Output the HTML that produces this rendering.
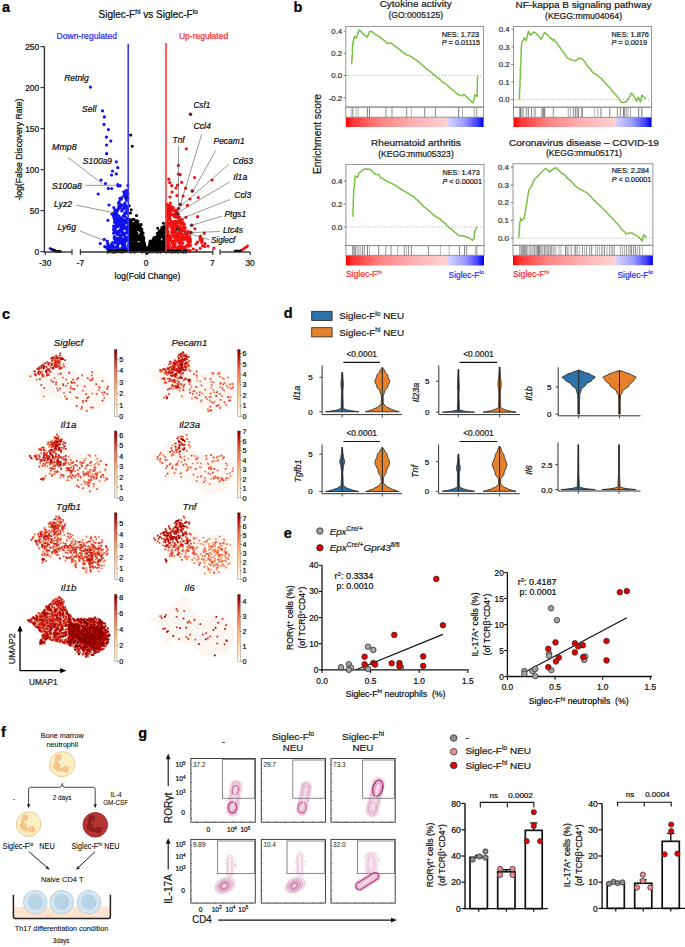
<!DOCTYPE html>
<html><head><meta charset="utf-8"><style>
html,body{margin:0;padding:0;background:#fff;}
svg{display:block;font-family:"Liberation Sans", sans-serif;}
</style></head><body>
<svg width="685" height="947" viewBox="0 0 685 947">
<rect width="685" height="947" fill="#fff"/>
<text x="2.00" y="11.80" font-size="14.5" fill="#000" stroke="#000" stroke-width="0.22" font-weight="bold" >a</text>
<text x="98.50" y="17.50" font-size="10.4" textLength="99.50" lengthAdjust="spacingAndGlyphs" stroke="#222" stroke-width="0.22" >Siglec-F<tspan dy="-3.60" font-size="7.07">hi</tspan><tspan dy="3.6"> vs Siglec-F</tspan><tspan dy="-3.60" font-size="7.07">lo</tspan></text>
<text x="56.50" y="39.00" font-size="8.6" textLength="60.50" lengthAdjust="spacingAndGlyphs" fill="#2a2af5" stroke="#2a2af5" stroke-width="0.22" >Down-regulated</text>
<text x="178.90" y="39.20" font-size="8.6" textLength="49.30" lengthAdjust="spacingAndGlyphs" fill="#f53030" stroke="#f53030" stroke-width="0.22" >Up-regulated</text>
<path d="M115.4 238.1h0M116.1 239.4h0M123.7 250.5h0M121.4 218.5h0M126.9 200.5h0M115.5 215.2h0M123.5 244.9h0M115.3 228.5h0M121.5 218.0h0M127.9 232.7h0M126.2 228.3h0M116.3 242.6h0M118.4 248.9h0M120.1 220.3h0M118.4 203.1h0M118.1 240.3h0M121.8 230.7h0M126.9 237.3h0M120.2 240.2h0M120.5 238.8h0M116.2 231.5h0M122.9 219.5h0M123.3 209.2h0M124.1 224.7h0M122.7 209.2h0M114.6 216.5h0M127.6 190.8h0M114.2 227.5h0M119.5 218.9h0M127.5 213.5h0M127.9 185.4h0M117.1 221.8h0M116.5 213.5h0M127.8 228.7h0M118.8 218.4h0M114.4 236.7h0M121.4 199.2h0M124.8 207.4h0M126.9 192.7h0M121.5 219.6h0M121.2 239.5h0M126.8 218.8h0M124.8 241.5h0M121.0 217.8h0M120.6 236.3h0M118.2 220.1h0M119.9 230.0h0M125.5 213.3h0M123.5 249.5h0M123.9 233.4h0M120.8 230.9h0M113.2 215.4h0M126.5 191.6h0M122.6 221.7h0M122.6 241.5h0M125.7 208.1h0M126.5 222.6h0M118.8 208.7h0M116.3 215.1h0M117.6 225.8h0M116.9 210.0h0M126.9 250.5h0M117.3 224.0h0M113.7 230.1h0M116.9 222.3h0M123.5 219.6h0M118.0 226.3h0M120.8 228.4h0M116.9 226.2h0M122.6 227.3h0M126.7 211.2h0M127.3 226.9h0M115.9 211.5h0M125.9 194.4h0M127.9 206.6h0M121.7 211.0h0M121.1 222.7h0M121.4 226.2h0M123.9 225.9h0M114.0 226.6h0M127.2 219.4h0M120.7 204.6h0M113.7 228.7h0M119.7 231.3h0M121.2 238.3h0M124.4 206.1h0M121.5 197.8h0M118.6 206.3h0M115.1 240.3h0M124.8 216.4h0M126.1 205.9h0M120.0 198.4h0M119.5 222.6h0M116.9 214.3h0M128.0 193.6h0M120.3 236.8h0M121.7 231.7h0M119.3 201.5h0M120.5 240.5h0M126.5 240.6h0M127.2 210.8h0M116.2 213.6h0M127.5 195.0h0M124.3 226.1h0M126.4 240.2h0M114.8 232.1h0M122.5 245.1h0M115.0 209.8h0M122.6 232.4h0M127.7 200.1h0M124.5 205.7h0M124.6 196.0h0M121.8 234.6h0M123.4 234.1h0M124.5 220.3h0M116.8 238.1h0M123.8 191.8h0M124.8 240.1h0M121.2 223.9h0M127.5 193.2h0M123.9 234.0h0M124.9 246.5h0M119.0 238.6h0M118.3 231.4h0M116.0 224.3h0M116.0 241.0h0M123.9 225.2h0M113.8 207.5h0M121.6 219.9h0M126.8 229.9h0M114.9 231.3h0M125.4 233.3h0M115.4 221.8h0M121.0 205.6h0M123.5 215.7h0M124.5 242.0h0M126.3 227.3h0M119.0 216.0h0M123.8 228.5h0M127.5 230.2h0M126.9 228.6h0M123.2 209.1h0M115.2 242.8h0M125.0 203.1h0M119.0 224.8h0M119.1 234.7h0M115.8 218.3h0M126.2 190.4h0M117.8 247.4h0M127.7 231.6h0M124.6 246.2h0M124.5 235.9h0M115.9 216.8h0M125.3 206.2h0M124.0 196.1h0M117.1 246.8h0M115.7 247.1h0M125.4 197.5h0M125.9 206.9h0M127.3 221.6h0M117.6 234.5h0M127.3 221.5h0M114.3 219.1h0M116.1 227.1h0M127.6 219.4h0M121.5 241.1h0M117.3 210.9h0M116.5 220.2h0M113.6 226.0h0M125.4 221.5h0M123.1 226.7h0M126.8 207.7h0M125.5 213.3h0M122.5 228.6h0M124.7 239.0h0M120.7 204.7h0M120.9 238.4h0M119.0 224.2h0M117.2 243.0h0M124.8 233.0h0M127.6 232.1h0M118.4 241.8h0M124.3 224.2h0M126.4 249.3h0M113.1 245.5h0M118.1 223.6h0M127.1 218.2h0M126.1 249.8h0M114.5 222.2h0M114.2 237.0h0M125.4 247.2h0M117.1 234.2h0M126.2 199.4h0M114.4 212.3h0M116.1 233.0h0M126.2 227.3h0M123.7 224.8h0M116.1 247.0h0M120.6 207.7h0M118.3 209.2h0M121.8 238.0h0M124.7 242.8h0M118.6 222.5h0M113.6 247.3h0M122.6 205.1h0M128.0 198.7h0M116.9 233.0h0M119.0 225.4h0M124.1 208.4h0M116.2 240.9h0M124.7 213.0h0M124.0 241.9h0M124.3 194.3h0M114.7 213.1h0M113.7 216.8h0M107.3 247.1h0M119.4 242.0h0M118.6 250.9h0M116.6 246.7h0M112.6 242.6h0M125.5 238.4h0M110.2 247.2h0M115.8 239.2h0M120.5 243.0h0M118.8 243.6h0M117.7 245.6h0M114.7 239.5h0M110.0 250.0h0M118.1 239.5h0M125.0 241.4h0M108.1 245.2h0M111.5 244.6h0M118.2 241.1h0M118.6 239.5h0M117.3 245.9h0M107.8 243.5h0M107.6 243.9h0M125.0 245.4h0M121.7 248.2h0M108.5 251.4h0M121.9 239.4h0M124.3 243.3h0M109.8 251.0h0M118.4 248.5h0M109.0 248.5h0M107.3 241.2h0M114.2 238.2h0M119.1 240.9h0M112.6 247.6h0M115.4 250.0h0M119.7 249.8h0M118.4 250.4h0M125.2 240.3h0M122.4 242.6h0M122.8 247.2h0M90.4 87.1h0M102.5 110.8h0M104.4 116.9h0M104.0 124.4h0M108.4 129.6h0M106.4 137.1h0M110.8 141.0h0M106.6 145.0h0M106.6 153.7h0M116.3 161.8h0M117.8 167.7h0M112.5 171.0h0M111.5 175.0h0M116.3 173.9h0M105.5 183.5h0M117.8 184.6h0M120.2 185.7h0M111.7 188.5h0M98.2 194.0h0M108.3 188.4h0M118.0 186.0h0M107.9 220.3h0M113.6 233.2h0M104.2 239.4h0M100.2 243.5h0M104.8 246.7h0M107.1 248.6h0M110.5 245.6h0M101.0 180.0h0M109.0 205.0h0M112.0 214.0h0" stroke="#1010f0" stroke-width="3.2" stroke-linecap="round" fill="none" />
<path d="M183.8 237.9h0M180.8 228.7h0M166.6 244.1h0M175.2 244.0h0M187.5 245.6h0M168.0 209.9h0M176.0 249.4h0M167.1 239.8h0M175.3 217.1h0M171.1 206.2h0M174.9 214.3h0M188.4 242.6h0M167.5 208.9h0M182.9 243.2h0M183.6 239.2h0M173.3 207.6h0M171.4 221.5h0M166.8 237.1h0M186.3 249.8h0M167.7 225.0h0M175.9 232.2h0M166.5 232.0h0M166.5 204.2h0M166.6 214.9h0M169.1 223.2h0M169.0 223.3h0M188.8 250.7h0M175.5 213.6h0M182.0 231.0h0M170.8 210.5h0M185.5 237.0h0M169.7 215.8h0M174.1 231.5h0M175.2 246.7h0M170.3 203.0h0M173.4 235.8h0M168.5 241.6h0M166.5 227.9h0M172.6 233.5h0M167.7 232.0h0M169.8 223.1h0M188.0 233.4h0M176.1 239.8h0M176.0 234.2h0M182.0 223.6h0M166.7 207.8h0M169.2 249.1h0M167.6 214.2h0M168.3 238.2h0M176.7 223.9h0M168.0 207.2h0M176.6 213.2h0M185.6 246.6h0M167.9 209.1h0M177.7 241.0h0M170.1 219.3h0M171.7 232.2h0M166.7 247.4h0M177.3 227.7h0M176.5 227.6h0M166.5 223.6h0M190.0 239.7h0M180.4 246.2h0M167.5 210.8h0M166.9 228.9h0M174.9 223.4h0M178.3 235.9h0M180.9 224.9h0M181.7 240.1h0M182.0 237.2h0M169.2 206.4h0M167.3 223.1h0M178.2 235.3h0M190.1 238.8h0M166.9 241.2h0M166.7 221.8h0M167.8 231.8h0M167.4 212.2h0M187.4 250.2h0M182.2 219.5h0M173.9 231.7h0M182.9 239.7h0M186.7 232.8h0M166.7 229.2h0M185.2 234.1h0M171.8 209.3h0M177.4 237.3h0M169.0 236.6h0M168.1 219.6h0M169.6 238.7h0M175.7 210.0h0M185.4 231.3h0M183.7 239.6h0M173.5 241.2h0M179.0 232.3h0M176.0 240.0h0M185.9 232.2h0M185.2 227.9h0M190.3 250.7h0M167.1 250.5h0M187.0 233.5h0M167.0 214.5h0M166.9 205.9h0M180.1 220.4h0M166.6 210.3h0M179.3 228.3h0M168.5 243.6h0M166.5 234.1h0M185.8 237.0h0M167.3 239.4h0M179.1 220.5h0M173.9 229.5h0M173.8 232.5h0M168.3 211.9h0M180.6 242.6h0M169.0 247.4h0M174.1 221.5h0M170.8 213.4h0M178.1 227.7h0M179.3 222.3h0M180.2 237.3h0M172.0 231.0h0M171.2 241.3h0M190.4 240.1h0M187.6 237.4h0M171.1 237.9h0M167.1 214.7h0M186.9 233.5h0M170.0 222.8h0M169.9 251.3h0M181.1 234.1h0M176.4 239.4h0M177.4 233.9h0M180.0 230.1h0M176.9 235.4h0M177.4 239.4h0M176.9 211.5h0M173.2 224.3h0M173.3 241.1h0M187.6 240.4h0M174.6 237.6h0M167.7 227.3h0M177.8 217.7h0M185.4 238.9h0M184.1 247.0h0M167.5 243.5h0M170.7 224.7h0M172.7 227.3h0M190.4 245.4h0M173.4 215.3h0M167.5 230.8h0M174.4 229.5h0M170.3 249.6h0M168.1 246.7h0M167.8 235.2h0M170.0 208.6h0M166.9 210.4h0M168.1 211.6h0M177.1 248.1h0M172.5 214.5h0M169.5 217.4h0M183.3 237.9h0M176.0 240.8h0M189.3 245.3h0M178.5 246.8h0M181.4 231.8h0M173.8 216.1h0M166.5 226.3h0M173.0 229.3h0M173.2 228.5h0M173.7 210.9h0M178.7 234.2h0M166.6 222.8h0M181.9 246.3h0M168.3 208.2h0M167.0 211.0h0M175.6 216.4h0M179.9 248.1h0M179.3 227.4h0M190.4 242.1h0M167.4 222.6h0M166.5 236.0h0M169.0 235.1h0M185.0 237.5h0M172.0 231.8h0M185.3 232.7h0M168.9 246.8h0M174.8 226.2h0M173.6 230.6h0M183.0 222.5h0M175.4 232.4h0M174.7 221.9h0M170.0 210.4h0M169.5 213.1h0M176.3 210.8h0M172.6 247.0h0M172.3 247.3h0M185.2 233.3h0M167.8 223.7h0M182.9 230.6h0M178.8 240.2h0M184.3 224.7h0M168.1 243.8h0M182.4 238.5h0M178.3 214.2h0M179.1 247.5h0M179.5 217.1h0M169.5 219.3h0M169.9 241.0h0M187.0 232.7h0M167.5 207.1h0M171.4 227.9h0M177.8 225.7h0M166.9 214.4h0M172.2 243.4h0M183.9 223.7h0M190.3 245.7h0M169.4 212.8h0M173.8 244.9h0M173.5 222.0h0M174.9 241.4h0M169.1 212.7h0M168.4 248.7h0M176.5 235.1h0M188.3 250.0h0M170.2 235.8h0M181.0 222.2h0M169.6 219.5h0M166.9 212.6h0M176.4 248.7h0M174.2 216.0h0M167.3 231.1h0M171.0 240.6h0M167.7 233.3h0M184.4 238.9h0M167.4 205.7h0M167.1 222.6h0M167.1 240.3h0M174.8 231.0h0M168.0 238.0h0M167.2 207.1h0M173.9 249.9h0M188.2 236.8h0M175.7 238.5h0M181.2 239.4h0M166.6 222.9h0M169.5 245.4h0M176.0 221.5h0M182.4 248.4h0M168.7 205.4h0M166.6 216.8h0M183.4 227.0h0M173.0 250.3h0M188.1 242.5h0M166.9 212.8h0M178.9 234.5h0M167.4 236.7h0M170.2 207.9h0M182.6 234.6h0M182.2 230.0h0M177.6 222.5h0M184.6 248.1h0M180.1 243.1h0M189.1 240.1h0M167.3 208.9h0M186.7 235.3h0M183.0 237.2h0M183.8 229.5h0M169.6 225.1h0M188.3 231.6h0M200.3 239.9h0M202.2 239.6h0M179.1 243.1h0M180.5 243.6h0M204.7 246.6h0M197.6 242.1h0M200.2 248.3h0M196.6 250.6h0M201.7 242.3h0M175.1 246.1h0M202.1 241.3h0M193.4 249.0h0M200.5 236.1h0M189.6 236.3h0M176.0 248.6h0M187.1 245.4h0M188.5 241.2h0M179.7 241.5h0M202.4 245.6h0M182.5 237.4h0M181.8 246.9h0M187.9 246.2h0M186.3 148.8h0M178.3 165.4h0M178.3 174.1h0M180.2 174.7h0M168.9 179.2h0M171.7 185.7h0M176.0 188.0h0M185.6 188.2h0M194.6 177.5h0M212.1 180.0h0M176.9 195.5h0M198.3 197.5h0M187.4 205.4h0M197.5 216.7h0M185.9 217.3h0M194.9 228.8h0M204.2 233.2h0M205.0 243.5h0M169.8 182.7h0M181.7 182.3h0M177.5 185.2h0M190.0 199.0h0M172.0 192.0h0M183.0 196.0h0M170.0 197.0h0M200.0 238.0h0M208.0 246.0h0M196.0 244.0h0M214.0 248.0h0" stroke="#f01010" stroke-width="3.2" stroke-linecap="round" fill="none" />
<path d="M140.6 227.9h0M148.6 248.6h0M130.7 232.7h0M131.1 221.1h0M144.4 243.4h0M152.0 250.9h0M150.1 244.1h0M160.7 236.0h0M133.9 245.5h0M135.3 238.0h0M152.5 240.8h0M130.7 225.9h0M154.0 245.9h0M145.5 248.0h0M158.3 242.6h0M148.2 251.0h0M155.9 237.6h0M144.2 249.6h0M134.2 240.5h0M157.2 243.3h0M161.3 241.7h0M150.2 246.6h0M160.0 244.2h0M130.8 241.7h0M152.8 244.1h0M143.0 244.9h0M129.3 222.2h0M130.7 243.8h0M133.4 247.2h0M131.5 233.9h0M149.1 250.6h0M138.9 235.8h0M142.0 233.8h0M135.1 227.9h0M137.3 228.9h0M128.7 231.7h0M142.3 245.7h0M147.8 250.8h0M153.9 249.0h0M161.3 246.6h0M143.2 244.8h0M130.8 220.6h0M136.3 221.0h0M128.5 223.4h0M132.3 247.3h0M151.5 241.6h0M138.0 224.4h0M160.3 251.3h0M146.0 249.1h0M141.3 232.6h0M159.6 250.4h0M148.3 247.3h0M148.9 251.4h0M160.9 244.1h0M138.3 244.6h0M148.5 250.4h0M140.9 251.1h0M160.5 247.4h0M159.2 240.7h0M141.8 229.2h0M129.5 241.1h0M164.4 236.8h0M163.6 236.5h0M136.8 226.4h0M135.9 248.3h0M160.0 240.3h0M153.0 247.0h0M162.6 245.8h0M156.6 247.9h0M141.0 246.3h0M164.9 250.1h0M155.7 238.5h0M133.3 245.4h0M134.0 246.1h0M165.3 239.1h0M133.4 219.6h0M164.9 249.7h0M144.8 250.5h0M159.5 235.6h0M137.5 238.5h0M138.2 248.8h0M141.8 238.5h0M150.4 250.7h0M147.3 251.4h0M148.1 249.2h0M128.6 244.7h0M135.0 237.8h0M140.7 238.9h0M149.3 247.5h0M137.8 228.8h0M157.5 247.2h0M162.7 236.6h0M151.5 248.4h0M145.5 248.9h0M146.4 251.6h0M163.8 231.8h0M149.5 245.3h0M133.1 233.4h0M131.2 240.4h0M157.9 249.4h0M134.3 223.3h0M161.6 250.7h0M136.7 235.4h0M165.6 246.8h0M134.6 230.5h0M135.8 229.5h0M155.6 243.3h0M129.2 228.9h0M151.9 251.3h0M158.1 250.9h0M132.4 244.1h0M138.6 226.1h0M144.3 245.0h0M134.1 248.9h0M149.9 241.5h0M154.3 243.3h0M131.2 245.2h0M131.6 246.8h0M131.0 230.1h0M149.2 250.9h0M138.5 229.7h0M132.6 224.5h0M130.4 228.3h0M157.0 239.0h0M147.3 251.0h0M137.9 221.3h0M156.0 243.1h0M163.5 227.4h0M159.2 248.1h0M143.2 242.5h0M154.3 249.2h0M155.0 245.8h0M143.7 238.1h0M131.2 242.9h0M138.1 246.6h0M161.1 243.5h0M139.1 236.2h0M134.4 233.7h0M138.4 239.5h0M137.7 250.4h0M140.1 234.6h0M146.3 250.6h0M136.0 227.4h0M131.9 231.4h0M130.1 226.5h0M150.5 246.3h0M156.6 249.5h0M143.1 239.8h0M165.4 241.9h0M130.1 246.3h0M161.9 246.9h0M133.7 236.4h0M147.4 251.5h0M150.4 250.6h0M154.1 237.6h0M133.5 230.7h0M132.4 239.4h0M152.0 248.1h0M146.8 251.9h0M147.4 250.9h0M153.2 243.0h0M131.3 227.6h0M155.9 251.1h0M147.0 252.3h0M146.5 251.5h0M152.6 241.8h0M134.0 228.2h0M149.8 243.3h0M130.8 241.2h0M153.8 242.9h0M147.9 250.0h0M162.0 230.9h0M165.2 236.4h0M159.2 250.8h0M145.4 251.2h0M136.4 238.2h0M133.8 225.6h0M159.3 240.7h0M161.8 248.9h0M146.7 251.5h0M128.6 228.7h0M133.8 229.6h0M140.4 244.8h0M160.0 231.0h0M163.2 232.8h0M142.5 240.2h0M166.0 235.9h0M138.8 224.6h0M132.3 249.4h0M137.8 228.8h0M147.7 251.4h0M161.7 246.9h0M152.2 247.3h0M155.5 237.7h0M156.0 246.3h0M139.2 225.4h0M163.3 234.5h0M139.7 244.6h0M165.1 232.0h0M149.4 247.1h0M134.8 248.4h0M147.1 251.3h0M162.5 230.0h0M135.7 221.5h0M141.3 233.0h0M149.9 250.3h0M156.6 243.5h0M142.6 238.0h0M130.8 222.8h0M147.4 252.4h0M160.9 233.2h0M143.5 242.6h0M164.3 226.2h0M129.7 242.4h0M162.1 227.3h0M143.2 250.1h0M159.5 236.3h0M132.6 225.8h0M148.1 250.7h0M152.8 249.2h0M145.6 250.6h0M137.2 248.9h0M152.7 241.9h0M152.4 247.9h0M132.7 238.2h0M143.1 236.9h0M151.0 245.9h0M164.5 241.7h0M161.6 233.1h0M164.5 243.4h0M140.0 243.2h0M144.3 243.1h0M153.5 238.9h0M141.2 236.6h0M154.1 247.9h0M147.4 252.2h0M164.9 230.8h0M136.8 244.3h0M139.6 230.2h0M136.9 232.7h0M153.4 243.5h0M136.5 250.7h0M133.8 231.5h0M162.2 248.5h0M156.0 242.5h0M135.5 249.4h0M156.5 241.8h0M142.5 237.4h0M134.8 230.7h0M164.3 227.3h0M164.7 246.6h0M159.3 239.5h0M130.3 248.9h0M135.7 230.7h0M162.1 246.9h0M157.3 233.3h0M129.8 228.6h0M156.5 249.8h0M141.2 241.7h0M138.3 243.9h0M140.4 244.9h0M162.9 241.7h0M163.9 237.7h0M164.4 250.2h0M143.0 241.5h0M163.3 230.6h0M158.6 246.6h0M151.3 245.5h0M140.5 228.3h0M135.9 243.8h0M137.8 237.2h0M140.7 251.0h0M161.6 229.2h0M132.1 234.7h0M155.1 242.8h0M151.8 247.7h0M156.5 236.8h0M160.0 236.2h0M149.8 244.3h0M137.8 228.5h0M134.2 230.0h0M143.4 251.4h0M147.5 250.9h0M165.7 228.5h0M146.3 251.4h0M130.0 229.4h0M133.0 238.2h0M163.4 236.8h0M161.0 246.3h0M164.0 227.3h0M150.9 244.7h0M133.8 225.4h0M138.1 227.9h0M128.9 229.4h0M153.9 240.4h0M158.3 242.4h0M130.9 237.0h0M152.5 240.7h0M134.6 228.0h0M140.0 250.3h0M140.2 236.4h0M160.9 251.4h0M142.1 233.9h0M128.7 248.4h0M144.4 250.3h0M145.8 249.2h0M129.1 248.6h0M131.8 239.1h0M142.4 236.4h0M148.0 251.2h0M132.6 250.5h0M135.9 222.8h0M163.9 227.1h0M163.2 235.1h0M162.4 230.9h0M158.0 236.9h0M143.7 239.9h0M136.7 233.2h0M147.9 249.2h0M155.7 249.8h0M130.0 221.2h0M159.9 231.8h0M151.0 244.9h0M144.3 246.9h0M144.5 246.1h0M129.4 239.0h0M146.9 251.3h0M145.7 249.8h0M146.2 250.6h0M131.9 233.1h0M147.6 251.2h0M156.0 247.8h0M147.7 250.9h0M164.2 228.2h0M160.6 247.5h0M135.8 250.9h0M146.9 253.3h0M158.1 250.1h0M131.0 224.6h0M162.1 234.0h0M159.1 249.8h0M136.3 228.3h0M147.5 250.2h0M134.5 249.4h0M154.0 248.5h0M132.8 236.0h0M152.4 246.8h0M150.3 250.5h0M132.4 232.5h0M158.4 235.9h0M165.6 245.1h0M145.1 245.9h0M156.4 240.3h0M152.5 251.3h0M150.5 241.0h0M129.8 223.6h0M151.6 250.4h0M133.5 226.2h0M153.0 242.9h0M132.5 230.0h0M136.9 226.8h0M151.9 245.6h0M133.6 223.9h0M132.1 239.5h0M161.2 233.4h0M128.9 239.9h0M149.6 246.5h0M163.6 244.7h0M137.8 236.6h0M143.7 240.0h0M130.7 236.4h0M163.8 228.2h0M136.0 240.2h0M159.0 234.2h0M140.1 248.5h0M157.9 245.8h0M128.7 233.9h0M156.3 243.0h0M137.0 220.9h0M141.1 245.1h0M154.6 241.3h0M149.3 247.5h0M158.1 244.5h0M164.7 229.8h0M161.5 233.0h0M156.4 250.5h0M156.5 240.5h0M137.5 248.7h0M152.2 251.3h0M146.1 251.4h0M154.7 247.5h0M149.9 244.9h0M136.4 248.6h0M133.9 219.3h0M132.5 223.8h0M129.6 219.5h0M154.5 247.9h0M131.0 238.5h0M142.1 249.1h0M131.0 247.4h0M162.8 230.7h0M132.7 219.4h0M160.3 247.5h0M152.2 244.1h0M132.2 226.5h0M140.5 236.8h0M129.3 241.8h0M142.3 237.2h0M164.6 242.0h0M129.7 231.6h0M144.9 249.0h0M148.7 247.4h0M160.8 233.1h0M128.5 225.3h0M157.1 241.9h0M146.9 251.3h0M135.4 246.2h0M138.3 249.8h0M139.1 237.5h0M132.6 240.1h0M131.5 244.5h0M152.0 245.0h0M143.5 238.5h0M161.8 228.3h0M136.2 235.2h0M142.7 249.5h0M137.3 243.9h0M156.7 245.2h0M141.6 247.6h0M153.3 248.1h0M134.9 238.5h0M133.2 234.0h0M161.7 233.7h0M154.9 249.2h0M134.3 229.4h0M148.1 248.7h0M140.8 244.7h0M132.3 250.4h0M132.3 245.3h0M156.0 243.5h0M135.9 225.7h0M143.1 233.1h0M143.5 243.1h0M152.2 246.0h0M133.8 243.1h0M162.6 236.8h0M150.0 243.1h0M155.6 249.7h0M157.5 245.4h0M152.6 246.0h0M140.2 236.0h0M157.8 245.8h0M152.1 244.8h0M151.8 245.3h0M153.8 246.8h0M157.7 239.5h0M146.9 251.2h0M134.5 244.2h0M163.8 240.1h0M148.8 249.5h0M147.7 251.1h0M143.9 250.9h0M136.4 243.8h0M133.1 251.0h0M141.8 237.7h0M129.0 231.9h0M144.3 243.4h0M136.9 243.4h0M163.7 246.3h0M143.2 236.6h0M133.3 239.4h0M146.1 251.5h0M137.0 240.2h0M159.2 247.4h0M146.1 249.4h0M159.8 237.7h0M160.4 233.7h0M144.5 244.2h0M128.6 225.8h0M139.8 237.8h0M144.6 246.0h0M163.3 247.8h0M130.6 244.6h0M133.8 246.3h0M152.2 250.9h0M153.1 241.4h0M132.3 244.2h0M141.5 230.8h0M162.4 248.6h0M151.3 249.1h0M153.6 249.6h0M135.9 241.9h0M148.4 250.9h0M149.3 245.9h0M137.3 221.8h0M146.0 250.0h0M146.9 251.6h0M128.7 246.0h0M146.0 251.4h0M142.6 239.6h0M164.5 242.1h0M129.6 238.6h0M154.1 251.3h0M147.6 250.5h0M162.2 242.5h0M141.2 248.0h0M142.2 246.7h0M136.4 233.1h0M144.3 245.5h0M159.5 238.4h0M147.4 251.5h0M153.0 249.1h0M140.9 240.8h0M152.3 249.0h0M130.0 236.4h0M130.4 230.1h0M128.7 238.6h0M153.2 249.3h0M162.6 242.1h0M154.6 245.9h0M154.0 243.9h0M157.1 236.4h0M135.3 248.9h0M153.1 243.4h0M159.3 235.1h0M139.8 236.6h0M140.4 249.8h0M130.5 237.3h0M130.0 238.0h0M162.9 237.6h0M129.0 249.5h0M165.3 237.4h0M144.0 242.3h0M134.2 219.8h0M128.7 250.4h0M131.8 247.2h0M133.3 227.9h0M156.0 237.9h0M130.4 246.7h0M155.9 238.2h0M152.1 250.7h0M138.0 250.4h0M155.4 245.9h0M159.2 231.0h0M140.2 247.7h0M146.7 251.4h0M142.3 244.7h0M133.9 244.9h0M142.1 238.9h0M143.0 247.6h0M163.9 232.4h0M130.8 250.7h0M154.9 245.6h0M165.2 247.0h0M151.0 250.3h0M142.6 245.3h0M151.1 244.7h0M128.6 227.4h0M144.3 250.5h0M130.1 246.1h0M170.8 251.8h0M151.3 250.9h0M173.9 251.7h0M160.5 251.9h0M133.1 250.6h0M149.8 251.7h0M121.2 251.6h0M180.5 250.9h0M154.2 251.5h0M142.7 250.8h0M125.6 251.6h0M169.1 251.2h0M112.1 251.7h0M167.5 250.8h0M151.9 251.8h0M176.7 251.3h0M143.6 251.4h0M120.3 250.8h0M119.6 251.6h0M134.4 251.3h0M137.6 251.3h0M117.1 250.6h0M185.8 251.1h0M113.6 251.4h0M168.8 250.7h0M153.4 251.0h0M147.1 250.5h0M107.7 252.0h0M175.2 251.2h0M150.9 250.9h0M168.1 251.1h0M181.7 251.7h0M171.3 251.9h0M125.6 250.6h0M121.3 250.8h0M111.8 250.6h0M150.1 251.8h0M142.1 251.9h0M178.7 250.6h0M153.4 251.1h0M114.7 251.9h0M125.8 251.3h0M156.9 251.9h0M159.2 251.1h0M141.3 250.7h0M183.2 252.0h0M123.0 250.6h0M125.7 251.0h0M178.1 251.9h0M172.8 250.6h0M168.7 251.6h0M157.4 252.0h0M109.5 250.7h0M166.2 251.9h0M159.8 250.9h0M152.9 251.6h0M113.5 251.0h0M125.8 250.7h0M144.0 250.8h0M124.3 250.7h0M159.9 250.5h0M163.1 250.8h0M107.9 251.9h0M122.9 251.9h0M175.2 251.8h0M116.3 251.2h0M112.9 251.9h0M173.2 251.4h0M141.6 251.0h0M171.7 251.2h0M155.9 250.7h0M123.0 250.6h0M162.8 251.3h0M116.7 251.8h0M126.6 251.1h0M117.6 250.9h0M173.0 251.0h0M118.6 251.2h0M130.8 251.9h0M114.2 252.0h0M109.6 251.8h0M159.1 250.8h0M143.7 250.9h0M125.9 250.8h0M134.5 252.0h0M185.8 251.9h0M112.9 250.9h0M177.6 250.6h0M163.8 250.9h0M184.3 250.5h0M170.4 251.0h0M116.4 250.5h0M172.4 251.3h0M120.1 251.2h0M178.9 250.8h0M151.3 250.7h0M119.6 251.7h0M162.6 250.8h0M111.4 250.6h0M154.3 251.2h0M127.2 250.8h0M154.6 251.6h0M170.7 251.4h0M121.4 250.6h0M164.3 251.1h0M163.5 250.6h0M170.7 251.0h0M173.2 251.8h0M144.9 250.5h0M178.7 251.2h0M130.7 135.1h0M132.3 146.3h0M127.6 197.2h0M129.2 205.7h0M131.2 209.7h0M130.5 213.0h0M136.5 215.5h0M141.2 224.6h0M141.8 231.0h0M157.7 228.2h0M163.4 223.3h0" stroke="#000" stroke-width="3.1" stroke-linecap="round" fill="none" />
<circle cx="50.00" cy="248.50" r="1.3" fill="#1010f0"/>
<circle cx="50.80" cy="248.85" r="1.3" fill="#1010f0"/>
<circle cx="51.60" cy="249.20" r="1.3" fill="#1010f0"/>
<circle cx="52.40" cy="249.55" r="1.3" fill="#000"/>
<circle cx="53.20" cy="249.90" r="1.3" fill="#000"/>
<circle cx="54.00" cy="250.25" r="1.3" fill="#000"/>
<circle cx="54.80" cy="250.60" r="1.3" fill="#000"/>
<circle cx="55.60" cy="250.95" r="1.3" fill="#000"/>
<circle cx="56.40" cy="251.30" r="1.3" fill="#000"/>
<circle cx="57.20" cy="251.50" r="1.3" fill="#000"/>
<circle cx="58.00" cy="251.50" r="1.3" fill="#000"/>
<circle cx="58.80" cy="251.50" r="1.3" fill="#000"/>
<circle cx="59.60" cy="251.50" r="1.3" fill="#000"/>
<circle cx="60.40" cy="251.50" r="1.3" fill="#000"/>
<circle cx="235.00" cy="251.00" r="1.3" fill="#000"/>
<circle cx="235.90" cy="251.00" r="1.3" fill="#000"/>
<circle cx="236.80" cy="251.00" r="1.3" fill="#000"/>
<circle cx="237.70" cy="251.00" r="1.3" fill="#000"/>
<circle cx="238.60" cy="251.00" r="1.3" fill="#000"/>
<circle cx="239.50" cy="251.00" r="1.3" fill="#000"/>
<circle cx="240.40" cy="251.00" r="1.3" fill="#000"/>
<circle cx="241.30" cy="250.40" r="1.3" fill="#000"/>
<circle cx="242.20" cy="249.80" r="1.3" fill="#f01010"/>
<circle cx="243.10" cy="249.20" r="1.3" fill="#f01010"/>
<circle cx="244.00" cy="248.60" r="1.3" fill="#f01010"/>
<circle cx="244.90" cy="248.00" r="1.3" fill="#f01010"/>
<circle cx="245.80" cy="247.40" r="1.3" fill="#f01010"/>
<circle cx="246.70" cy="246.80" r="1.3" fill="#f01010"/>
<circle cx="247.50" cy="246.00" r="1.4" fill="#f01010"/>
<circle cx="190.50" cy="114.30" r="1.5" fill="#9b1010" stroke="#222" stroke-width="0.5"/>
<circle cx="192.30" cy="191.00" r="1.5" fill="#9b1010" stroke="#222" stroke-width="0.5"/>
<circle cx="177.40" cy="213.90" r="1.5" fill="#9b1010" stroke="#222" stroke-width="0.5"/>
<circle cx="191.60" cy="225.30" r="1.5" fill="#9b1010" stroke="#222" stroke-width="0.5"/>
<circle cx="191.00" cy="232.50" r="1.5" fill="#9b1010" stroke="#222" stroke-width="0.5"/>
<circle cx="177.40" cy="229.30" r="1.5" fill="#9b1010" stroke="#222" stroke-width="0.5"/>
<circle cx="180.20" cy="204.50" r="1.5" fill="#9b1010" stroke="#222" stroke-width="0.5"/>
<circle cx="178.50" cy="208.50" r="1.5" fill="#9b1010" stroke="#222" stroke-width="0.5"/>
<line x1="128.20" y1="43.80" x2="128.20" y2="252.00" stroke="#3a3aff" stroke-width="1.6" />
<line x1="166.00" y1="43.10" x2="166.00" y2="252.00" stroke="#ff3a3a" stroke-width="1.6" />
<line x1="44.40" y1="46.60" x2="44.40" y2="252.60" stroke="#333" stroke-width="1.4" />
<line x1="40.50" y1="46.60" x2="44.40" y2="46.60" stroke="#333" stroke-width="1.2" />
<text x="39.00" y="49.60" font-size="8.3" text-anchor="end" stroke="#222" stroke-width="0.22" >250</text>
<line x1="40.50" y1="87.60" x2="44.40" y2="87.60" stroke="#333" stroke-width="1.2" />
<text x="39.00" y="90.60" font-size="8.3" text-anchor="end" stroke="#222" stroke-width="0.22" >200</text>
<line x1="40.50" y1="128.60" x2="44.40" y2="128.60" stroke="#333" stroke-width="1.2" />
<text x="39.00" y="131.60" font-size="8.3" text-anchor="end" stroke="#222" stroke-width="0.22" >150</text>
<line x1="40.50" y1="169.60" x2="44.40" y2="169.60" stroke="#333" stroke-width="1.2" />
<text x="39.00" y="172.60" font-size="8.3" text-anchor="end" stroke="#222" stroke-width="0.22" >100</text>
<line x1="40.50" y1="210.60" x2="44.40" y2="210.60" stroke="#333" stroke-width="1.2" />
<text x="39.00" y="213.60" font-size="8.3" text-anchor="end" stroke="#222" stroke-width="0.22" >50</text>
<line x1="40.50" y1="251.60" x2="44.40" y2="251.60" stroke="#333" stroke-width="1.2" />
<text x="39.00" y="254.60" font-size="8.3" text-anchor="end" stroke="#222" stroke-width="0.22" >0</text>
<line x1="43.80" y1="252.00" x2="72.00" y2="252.00" stroke="#333" stroke-width="1.4" />
<line x1="80.40" y1="252.00" x2="212.80" y2="252.00" stroke="#333" stroke-width="1.4" />
<line x1="220.00" y1="252.00" x2="250.50" y2="252.00" stroke="#333" stroke-width="1.4" />
<line x1="72.00" y1="249.20" x2="72.00" y2="255.00" stroke="#333" stroke-width="1.2" />
<line x1="80.40" y1="249.20" x2="80.40" y2="255.00" stroke="#333" stroke-width="1.2" />
<line x1="212.80" y1="249.20" x2="212.80" y2="255.00" stroke="#333" stroke-width="1.2" />
<line x1="220.00" y1="249.20" x2="220.00" y2="255.00" stroke="#333" stroke-width="1.2" />
<line x1="45.30" y1="252.00" x2="45.30" y2="255.00" stroke="#333" stroke-width="1.2" />
<line x1="146.00" y1="252.00" x2="146.00" y2="255.00" stroke="#333" stroke-width="1.2" />
<line x1="250.20" y1="252.00" x2="250.20" y2="255.00" stroke="#333" stroke-width="1.2" />
<text x="45.30" y="265.60" font-size="8.3" text-anchor="middle" stroke="#222" stroke-width="0.22" >-30</text>
<text x="80.40" y="265.60" font-size="8.3" text-anchor="middle" stroke="#222" stroke-width="0.22" >-7</text>
<text x="146.00" y="265.60" font-size="8.3" text-anchor="middle" stroke="#222" stroke-width="0.22" >0</text>
<text x="212.40" y="265.60" font-size="8.3" text-anchor="middle" stroke="#222" stroke-width="0.22" >7</text>
<text x="250.00" y="265.60" font-size="8.3" text-anchor="middle" stroke="#222" stroke-width="0.22" >30</text>
<text x="114.60" y="278.60" font-size="8.5" textLength="65.70" lengthAdjust="spacingAndGlyphs" stroke="#222" stroke-width="0.22" >log(Fold Change)</text>
<text x="22.20" y="149.50" font-size="8.6" text-anchor="middle" textLength="102.00" lengthAdjust="spacingAndGlyphs" stroke="#222" stroke-width="0.22" transform="rotate(-90 22.20 149.50)" >-log(False Discovery Rate)</text>
<text x="64.20" y="81.00" font-size="8.6" textLength="24.50" lengthAdjust="spacingAndGlyphs" stroke="#222" stroke-width="0.22" font-style="italic" >Retnlg</text>
<text x="82.10" y="111.50" font-size="8.6" textLength="14.20" lengthAdjust="spacingAndGlyphs" stroke="#222" stroke-width="0.22" font-style="italic" >Sell</text>
<text x="52.10" y="149.60" font-size="8.6" textLength="24.50" lengthAdjust="spacingAndGlyphs" stroke="#222" stroke-width="0.22" font-style="italic" >Mmp8</text>
<text x="82.80" y="163.80" font-size="8.6" textLength="29.30" lengthAdjust="spacingAndGlyphs" stroke="#222" stroke-width="0.22" font-style="italic" >S100a9</text>
<text x="51.90" y="188.60" font-size="8.6" textLength="30.00" lengthAdjust="spacingAndGlyphs" stroke="#222" stroke-width="0.22" font-style="italic" >S100a8</text>
<text x="54.00" y="206.80" font-size="8.6" textLength="18.00" lengthAdjust="spacingAndGlyphs" stroke="#222" stroke-width="0.22" font-style="italic" >Lyz2</text>
<text x="57.40" y="230.20" font-size="8.6" textLength="18.60" lengthAdjust="spacingAndGlyphs" stroke="#222" stroke-width="0.22" font-style="italic" >Ly6g</text>
<text x="193.40" y="107.70" font-size="8.6" textLength="16.80" lengthAdjust="spacingAndGlyphs" stroke="#222" stroke-width="0.22" font-style="italic" >Csf1</text>
<text x="193.40" y="129.30" font-size="8.6" textLength="17.50" lengthAdjust="spacingAndGlyphs" stroke="#222" stroke-width="0.22" font-style="italic" >Ccl4</text>
<text x="172.60" y="142.80" font-size="8.6" textLength="12.00" lengthAdjust="spacingAndGlyphs" stroke="#222" stroke-width="0.22" font-style="italic" >Tnf</text>
<text x="213.50" y="144.00" font-size="8.6" textLength="31.10" lengthAdjust="spacingAndGlyphs" stroke="#222" stroke-width="0.22" font-style="italic" >Pecam1</text>
<text x="232.80" y="163.60" font-size="8.6" textLength="20.10" lengthAdjust="spacingAndGlyphs" stroke="#222" stroke-width="0.22" font-style="italic" >Cd63</text>
<text x="233.20" y="180.00" font-size="8.6" textLength="14.20" lengthAdjust="spacingAndGlyphs" stroke="#222" stroke-width="0.22" font-style="italic" >Il1a</text>
<text x="234.30" y="197.60" font-size="8.6" textLength="16.90" lengthAdjust="spacingAndGlyphs" stroke="#222" stroke-width="0.22" font-style="italic" >Ccl3</text>
<text x="224.40" y="217.20" font-size="8.6" textLength="21.90" lengthAdjust="spacingAndGlyphs" stroke="#222" stroke-width="0.22" font-style="italic" >Ptgs1</text>
<text x="222.90" y="233.20" font-size="8.6" textLength="20.10" lengthAdjust="spacingAndGlyphs" stroke="#222" stroke-width="0.22" font-style="italic" >Ltc4s</text>
<text x="210.90" y="242.80" font-size="8.6" textLength="24.50" lengthAdjust="spacingAndGlyphs" stroke="#222" stroke-width="0.22" font-style="italic" >Siglecf</text>
<line x1="67.90" y1="157.40" x2="102.90" y2="184.20" stroke="#444" stroke-width="0.55" />
<line x1="85.50" y1="185.30" x2="119.00" y2="185.30" stroke="#444" stroke-width="0.55" />
<line x1="76.00" y1="205.00" x2="115.00" y2="213.00" stroke="#444" stroke-width="0.55" />
<line x1="80.00" y1="231.00" x2="113.00" y2="244.00" stroke="#444" stroke-width="0.55" />
<line x1="178.50" y1="146.00" x2="178.50" y2="206.00" stroke="#444" stroke-width="0.55" />
<line x1="201.80" y1="134.00" x2="180.00" y2="206.00" stroke="#444" stroke-width="0.55" />
<line x1="215.70" y1="150.70" x2="193.00" y2="191.00" stroke="#444" stroke-width="0.55" />
<line x1="228.80" y1="164.30" x2="180.70" y2="206.30" stroke="#444" stroke-width="0.55" />
<line x1="229.90" y1="181.80" x2="178.00" y2="212.50" stroke="#444" stroke-width="0.55" />
<line x1="229.90" y1="199.50" x2="174.10" y2="221.60" stroke="#444" stroke-width="0.55" />
<line x1="222.30" y1="216.10" x2="192.70" y2="224.90" stroke="#444" stroke-width="0.55" />
<line x1="220.00" y1="231.50" x2="191.60" y2="232.60" stroke="#444" stroke-width="0.55" />
<line x1="209.10" y1="239.60" x2="178.50" y2="230.40" stroke="#444" stroke-width="0.55" />
<text x="293.60" y="11.60" font-size="14.5" fill="#000" stroke="#000" stroke-width="0.22" font-weight="bold" >b</text>
<defs>
<linearGradient id="gsea" x1="0" x2="1" y1="0" y2="0">
<stop offset="0" stop-color="#ff0000"/>
<stop offset="0.05" stop-color="#ff3636"/>
<stop offset="0.25" stop-color="#ff8484"/>
<stop offset="0.5" stop-color="#ffb2b2"/>
<stop offset="0.735" stop-color="#ffd2d2"/>
<stop offset="0.735" stop-color="#d6d6ff"/>
<stop offset="0.86" stop-color="#9c9cff"/>
<stop offset="0.95" stop-color="#4545ff"/>
<stop offset="1" stop-color="#0000f0"/>
</linearGradient>
</defs>
<text x="415.70" y="7.30" font-size="9.7" text-anchor="middle" textLength="72.10" lengthAdjust="spacingAndGlyphs" fill="#1a1a1a" stroke="#1a1a1a" stroke-width="0.22" >Cytokine activity</text>
<text x="415.70" y="18.30" font-size="8.6" text-anchor="middle" textLength="54.60" lengthAdjust="spacingAndGlyphs" fill="#1a1a1a" stroke="#1a1a1a" stroke-width="0.22" >(GO:0005125)</text>
<rect x="345.80" y="117.20" width="137.80" height="9.80" fill="url(#gsea)" stroke="none" stroke-width="1" />
<line x1="351.10" y1="107.10" x2="351.10" y2="117.20" stroke="#999" stroke-width="0.7" />
<line x1="352.80" y1="107.10" x2="352.80" y2="117.20" stroke="#555" stroke-width="0.7" />
<line x1="356.20" y1="107.10" x2="356.20" y2="117.20" stroke="#999" stroke-width="0.7" />
<line x1="358.30" y1="107.10" x2="358.30" y2="117.20" stroke="#999" stroke-width="0.7" />
<line x1="367.50" y1="107.10" x2="367.50" y2="117.20" stroke="#555" stroke-width="0.7" />
<line x1="369.50" y1="107.10" x2="369.50" y2="117.20" stroke="#555" stroke-width="0.7" />
<line x1="385.90" y1="107.10" x2="385.90" y2="117.20" stroke="#666" stroke-width="0.7" />
<line x1="392.00" y1="107.10" x2="392.00" y2="117.20" stroke="#666" stroke-width="0.7" />
<line x1="406.70" y1="107.10" x2="406.70" y2="117.20" stroke="#555" stroke-width="0.7" />
<line x1="411.40" y1="107.10" x2="411.40" y2="117.20" stroke="#999" stroke-width="0.7" />
<line x1="424.70" y1="107.10" x2="424.70" y2="117.20" stroke="#555" stroke-width="0.7" />
<line x1="435.50" y1="107.10" x2="435.50" y2="117.20" stroke="#666" stroke-width="0.7" />
<line x1="458.60" y1="107.10" x2="458.60" y2="117.20" stroke="#444" stroke-width="0.7" />
<line x1="462.50" y1="107.10" x2="462.50" y2="117.20" stroke="#999" stroke-width="0.7" />
<line x1="474.20" y1="107.10" x2="474.20" y2="117.20" stroke="#888" stroke-width="0.7" />
<line x1="476.80" y1="107.10" x2="476.80" y2="117.20" stroke="#666" stroke-width="0.7" />
<line x1="345.80" y1="75.50" x2="483.60" y2="75.50" stroke="#aaa" stroke-width="0.7" stroke-dasharray="1.6,1.6"/>
<polyline points="351.70,64.40 351.70,62.01 352.11,58.43 352.20,56.20 352.49,54.37 352.46,51.65 352.36,48.65 352.61,46.36 352.70,44.50 353.40,40.60 354.50,36.40 356.20,38.20 357.60,34.50 358.28,31.87 359.20,29.80 360.65,31.30 362.46,33.26 364.13,34.57 365.76,36.14 367.40,37.50 368.28,34.56 369.20,32.10 370.90,31.20 372.00,31.70 374.14,33.67 376.02,34.79 377.75,35.69 379.69,36.94 381.82,38.73 383.80,40.15 385.60,41.70 387.20,43.40 391.20,42.90 393.00,44.50 395.03,46.32 396.49,47.07 398.69,48.80 400.56,50.16 402.04,51.86 404.17,52.90 405.90,54.60 408.68,55.57 411.80,56.90 413.92,58.70 415.51,59.65 417.44,60.97 419.65,62.61 421.49,64.43 423.40,66.00 425.23,67.86 427.15,69.36 429.10,70.71 431.09,72.15 433.34,74.33 435.10,75.60 436.82,77.49 438.58,78.42 440.64,80.16 442.14,82.02 443.99,82.68 446.01,84.23 447.62,85.42 449.34,87.44 451.20,88.93 453.05,90.24 455.08,91.74 456.73,93.63 458.50,94.70 462.00,95.90 463.60,94.30 465.39,95.64 467.60,98.09 469.26,99.12 471.38,101.66 473.20,102.90 473.61,100.66 474.42,97.55 474.80,94.70 477.20,96.60 477.21,93.81 477.10,92.40 477.23,89.76 477.28,87.53 477.46,84.60 477.34,82.71 477.34,79.81 477.58,78.14 477.60,75.40" stroke="#79c143" stroke-width="1.5" fill="none" stroke-linejoin="round"/>
<rect x="345.80" y="26.50" width="137.80" height="80.60" fill="none" stroke="#8a8a8a" stroke-width="0.9" />
<rect x="345.80" y="107.10" width="137.80" height="10.10" fill="none" stroke="#8a8a8a" stroke-width="0.9" />
<line x1="343.60" y1="97.70" x2="345.80" y2="97.70" stroke="#666" stroke-width="0.8" />
<text x="342.20" y="100.50" font-size="7.8" text-anchor="end" fill="#333" stroke="#333" stroke-width="0.22" >-0.2</text>
<line x1="343.60" y1="75.50" x2="345.80" y2="75.50" stroke="#666" stroke-width="0.8" />
<text x="342.20" y="78.30" font-size="7.8" text-anchor="end" fill="#333" stroke="#333" stroke-width="0.22" >0.0</text>
<line x1="343.60" y1="53.30" x2="345.80" y2="53.30" stroke="#666" stroke-width="0.8" />
<text x="342.20" y="56.10" font-size="7.8" text-anchor="end" fill="#333" stroke="#333" stroke-width="0.22" >0.2</text>
<line x1="343.60" y1="31.10" x2="345.80" y2="31.10" stroke="#666" stroke-width="0.8" />
<text x="342.20" y="33.90" font-size="7.8" text-anchor="end" fill="#333" stroke="#333" stroke-width="0.22" >0.4</text>
<text x="441.70" y="36.80" font-size="7.3" fill="#1a1a1a" stroke="#1a1a1a" stroke-width="0.22" >NES: 1.723</text>
<text x="441.70" y="45.00" font-size="7.3" fill="#1a1a1a" stroke="#1a1a1a" stroke-width="0.22" ><tspan font-style="italic">P</tspan> = 0.01115</text>
<text x="583.55" y="7.60" font-size="9.7" text-anchor="middle" textLength="135.90" lengthAdjust="spacingAndGlyphs" fill="#1a1a1a" stroke="#1a1a1a" stroke-width="0.22" >NF-kappa B signaling pathway</text>
<text x="583.55" y="18.50" font-size="8.6" text-anchor="middle" textLength="77.00" lengthAdjust="spacingAndGlyphs" fill="#1a1a1a" stroke="#1a1a1a" stroke-width="0.22" >(KEGG:mmu04064)</text>
<rect x="513.50" y="117.30" width="138.10" height="9.70" fill="url(#gsea)" stroke="none" stroke-width="1" />
<line x1="519.80" y1="107.20" x2="519.80" y2="117.30" stroke="#555" stroke-width="0.7" />
<line x1="520.60" y1="107.20" x2="520.60" y2="117.30" stroke="#444" stroke-width="0.7" />
<line x1="521.80" y1="107.20" x2="521.80" y2="117.30" stroke="#888" stroke-width="0.7" />
<line x1="523.20" y1="107.20" x2="523.20" y2="117.30" stroke="#666" stroke-width="0.7" />
<line x1="526.30" y1="107.20" x2="526.30" y2="117.30" stroke="#666" stroke-width="0.7" />
<line x1="528.30" y1="107.20" x2="528.30" y2="117.30" stroke="#444" stroke-width="0.7" />
<line x1="531.40" y1="107.20" x2="531.40" y2="117.30" stroke="#444" stroke-width="0.7" />
<line x1="534.10" y1="107.20" x2="534.10" y2="117.30" stroke="#888" stroke-width="0.7" />
<line x1="535.50" y1="107.20" x2="535.50" y2="117.30" stroke="#999" stroke-width="0.7" />
<line x1="541.60" y1="107.20" x2="541.60" y2="117.30" stroke="#999" stroke-width="0.7" />
<line x1="542.70" y1="107.20" x2="542.70" y2="117.30" stroke="#666" stroke-width="0.7" />
<line x1="543.70" y1="107.20" x2="543.70" y2="117.30" stroke="#444" stroke-width="0.7" />
<line x1="544.70" y1="107.20" x2="544.70" y2="117.30" stroke="#444" stroke-width="0.7" />
<line x1="553.30" y1="107.20" x2="553.30" y2="117.30" stroke="#666" stroke-width="0.7" />
<line x1="568.20" y1="107.20" x2="568.20" y2="117.30" stroke="#888" stroke-width="0.7" />
<line x1="570.20" y1="107.20" x2="570.20" y2="117.30" stroke="#888" stroke-width="0.7" />
<line x1="573.30" y1="107.20" x2="573.30" y2="117.30" stroke="#555" stroke-width="0.7" />
<line x1="575.40" y1="107.20" x2="575.40" y2="117.30" stroke="#555" stroke-width="0.7" />
<line x1="577.00" y1="107.20" x2="577.00" y2="117.30" stroke="#666" stroke-width="0.7" />
<line x1="578.40" y1="107.20" x2="578.40" y2="117.30" stroke="#444" stroke-width="0.7" />
<line x1="581.50" y1="107.20" x2="581.50" y2="117.30" stroke="#888" stroke-width="0.7" />
<line x1="582.50" y1="107.20" x2="582.50" y2="117.30" stroke="#666" stroke-width="0.7" />
<line x1="594.80" y1="107.20" x2="594.80" y2="117.30" stroke="#999" stroke-width="0.7" />
<line x1="597.80" y1="107.20" x2="597.80" y2="117.30" stroke="#888" stroke-width="0.7" />
<line x1="600.90" y1="107.20" x2="600.90" y2="117.30" stroke="#555" stroke-width="0.7" />
<line x1="609.70" y1="107.20" x2="609.70" y2="117.30" stroke="#555" stroke-width="0.7" />
<line x1="617.30" y1="107.20" x2="617.30" y2="117.30" stroke="#666" stroke-width="0.7" />
<line x1="620.30" y1="107.20" x2="620.30" y2="117.30" stroke="#555" stroke-width="0.7" />
<line x1="623.40" y1="107.20" x2="623.40" y2="117.30" stroke="#444" stroke-width="0.7" />
<line x1="624.80" y1="107.20" x2="624.80" y2="117.30" stroke="#444" stroke-width="0.7" />
<line x1="626.40" y1="107.20" x2="626.40" y2="117.30" stroke="#999" stroke-width="0.7" />
<line x1="628.10" y1="107.20" x2="628.10" y2="117.30" stroke="#888" stroke-width="0.7" />
<line x1="630.50" y1="107.20" x2="630.50" y2="117.30" stroke="#888" stroke-width="0.7" />
<line x1="638.70" y1="107.20" x2="638.70" y2="117.30" stroke="#444" stroke-width="0.7" />
<line x1="641.80" y1="107.20" x2="641.80" y2="117.30" stroke="#444" stroke-width="0.7" />
<line x1="513.50" y1="99.60" x2="651.60" y2="99.60" stroke="#aaa" stroke-width="0.7" stroke-dasharray="1.6,1.6"/>
<polyline points="519.40,99.90 519.52,97.21 519.40,95.24 519.51,92.75 519.72,90.85 519.64,89.25 520.00,86.14 520.18,84.15 519.91,82.07 520.00,80.27 520.43,77.13 520.33,74.89 520.48,73.07 520.31,70.50 520.43,68.33 520.58,66.43 520.69,64.78 520.92,62.03 520.92,59.90 521.02,57.64 521.10,55.40 521.12,52.51 521.11,51.02 521.25,48.39 521.56,45.62 521.60,43.20 523.00,40.50 524.30,37.80 526.20,40.50 526.91,38.00 527.16,35.92 527.86,33.73 528.40,31.10 530.20,35.10 531.94,33.97 533.80,31.90 535.80,33.22 537.80,35.10 539.36,36.88 541.00,39.20 542.25,37.27 543.50,34.34 544.60,32.40 546.11,33.71 548.01,35.32 549.31,37.10 551.24,38.37 552.70,40.50 554.00,39.20 555.18,41.62 556.83,42.55 558.04,45.34 559.53,46.63 560.76,48.84 562.19,50.92 563.50,52.23 564.93,54.08 566.19,56.41 567.50,58.10 569.46,58.89 571.60,60.00 575.60,60.80 578.90,58.10 582.40,58.90 583.81,60.72 585.16,62.30 586.33,64.45 587.71,66.21 589.27,68.18 590.35,68.97 591.86,71.30 593.20,72.90 595.90,74.30 597.65,75.17 599.38,77.32 601.30,78.30 602.68,80.25 604.35,81.77 605.53,83.15 607.30,85.22 608.84,86.89 610.34,88.23 611.75,90.55 612.97,91.95 614.71,93.64 616.01,95.15 617.50,97.20 618.99,98.46 620.19,100.97 621.50,102.60 624.20,102.30 626.90,101.30 627.99,99.08 629.39,96.81 630.50,95.55 631.50,93.20 633.70,95.90 635.22,98.19 636.40,101.30 637.35,99.13 638.50,97.20 639.29,99.44 640.40,102.10 641.06,100.24 641.24,97.67 641.80,95.10 643.61,96.86 645.80,98.60" stroke="#79c143" stroke-width="1.5" fill="none" stroke-linejoin="round"/>
<rect x="513.50" y="26.50" width="138.10" height="80.70" fill="none" stroke="#8a8a8a" stroke-width="0.9" />
<rect x="513.50" y="107.20" width="138.10" height="10.10" fill="none" stroke="#8a8a8a" stroke-width="0.9" />
<line x1="511.30" y1="99.60" x2="513.50" y2="99.60" stroke="#666" stroke-width="0.8" />
<text x="509.60" y="102.40" font-size="7.8" text-anchor="end" fill="#333" stroke="#333" stroke-width="0.22" >0.0</text>
<line x1="511.30" y1="82.00" x2="513.50" y2="82.00" stroke="#666" stroke-width="0.8" />
<text x="509.60" y="84.80" font-size="7.8" text-anchor="end" fill="#333" stroke="#333" stroke-width="0.22" >0.1</text>
<line x1="511.30" y1="64.40" x2="513.50" y2="64.40" stroke="#666" stroke-width="0.8" />
<text x="509.60" y="67.20" font-size="7.8" text-anchor="end" fill="#333" stroke="#333" stroke-width="0.22" >0.2</text>
<line x1="511.30" y1="46.80" x2="513.50" y2="46.80" stroke="#666" stroke-width="0.8" />
<text x="509.60" y="49.60" font-size="7.8" text-anchor="end" fill="#333" stroke="#333" stroke-width="0.22" >0.3</text>
<line x1="511.30" y1="29.20" x2="513.50" y2="29.20" stroke="#666" stroke-width="0.8" />
<text x="509.60" y="32.00" font-size="7.8" text-anchor="end" fill="#333" stroke="#333" stroke-width="0.22" >0.4</text>
<text x="611.50" y="36.50" font-size="7.3" fill="#1a1a1a" stroke="#1a1a1a" stroke-width="0.22" >NES: 1.876</text>
<text x="611.50" y="44.70" font-size="7.3" fill="#1a1a1a" stroke="#1a1a1a" stroke-width="0.22" ><tspan font-style="italic">P</tspan> = 0.0019</text>
<text x="415.95" y="145.50" font-size="9.7" text-anchor="middle" textLength="89.70" lengthAdjust="spacingAndGlyphs" fill="#1a1a1a" stroke="#1a1a1a" stroke-width="0.22" >Rheumatoid arthritis</text>
<text x="415.95" y="156.60" font-size="8.6" text-anchor="middle" textLength="75.60" lengthAdjust="spacingAndGlyphs" fill="#1a1a1a" stroke="#1a1a1a" stroke-width="0.22" >(KEGG:mmu05323)</text>
<rect x="345.90" y="255.30" width="138.10" height="10.20" fill="url(#gsea)" stroke="none" stroke-width="1" />
<line x1="352.80" y1="245.60" x2="352.80" y2="255.30" stroke="#444" stroke-width="0.7" />
<line x1="353.60" y1="245.60" x2="353.60" y2="255.30" stroke="#999" stroke-width="0.7" />
<line x1="354.40" y1="245.60" x2="354.40" y2="255.30" stroke="#888" stroke-width="0.7" />
<line x1="355.60" y1="245.60" x2="355.60" y2="255.30" stroke="#555" stroke-width="0.7" />
<line x1="357.30" y1="245.60" x2="357.30" y2="255.30" stroke="#999" stroke-width="0.7" />
<line x1="358.90" y1="245.60" x2="358.90" y2="255.30" stroke="#888" stroke-width="0.7" />
<line x1="360.30" y1="245.60" x2="360.30" y2="255.30" stroke="#999" stroke-width="0.7" />
<line x1="362.40" y1="245.60" x2="362.40" y2="255.30" stroke="#444" stroke-width="0.7" />
<line x1="364.40" y1="245.60" x2="364.40" y2="255.30" stroke="#666" stroke-width="0.7" />
<line x1="367.50" y1="245.60" x2="367.50" y2="255.30" stroke="#444" stroke-width="0.7" />
<line x1="369.50" y1="245.60" x2="369.50" y2="255.30" stroke="#999" stroke-width="0.7" />
<line x1="378.70" y1="245.60" x2="378.70" y2="255.30" stroke="#444" stroke-width="0.7" />
<line x1="385.90" y1="245.60" x2="385.90" y2="255.30" stroke="#666" stroke-width="0.7" />
<line x1="391.00" y1="245.60" x2="391.00" y2="255.30" stroke="#555" stroke-width="0.7" />
<line x1="397.70" y1="245.60" x2="397.70" y2="255.30" stroke="#888" stroke-width="0.7" />
<line x1="404.30" y1="245.60" x2="404.30" y2="255.30" stroke="#666" stroke-width="0.7" />
<line x1="406.30" y1="245.60" x2="406.30" y2="255.30" stroke="#999" stroke-width="0.7" />
<line x1="408.40" y1="245.60" x2="408.40" y2="255.30" stroke="#666" stroke-width="0.7" />
<line x1="411.40" y1="245.60" x2="411.40" y2="255.30" stroke="#555" stroke-width="0.7" />
<line x1="428.40" y1="245.60" x2="428.40" y2="255.30" stroke="#555" stroke-width="0.7" />
<line x1="440.40" y1="245.60" x2="440.40" y2="255.30" stroke="#999" stroke-width="0.7" />
<line x1="449.20" y1="245.60" x2="449.20" y2="255.30" stroke="#999" stroke-width="0.7" />
<line x1="459.40" y1="245.60" x2="459.40" y2="255.30" stroke="#555" stroke-width="0.7" />
<line x1="464.60" y1="245.60" x2="464.60" y2="255.30" stroke="#444" stroke-width="0.7" />
<line x1="466.60" y1="245.60" x2="466.60" y2="255.30" stroke="#666" stroke-width="0.7" />
<line x1="475.40" y1="245.60" x2="475.40" y2="255.30" stroke="#999" stroke-width="0.7" />
<line x1="476.80" y1="245.60" x2="476.80" y2="255.30" stroke="#555" stroke-width="0.7" />
<line x1="345.90" y1="226.90" x2="484.00" y2="226.90" stroke="#aaa" stroke-width="0.7" stroke-dasharray="1.6,1.6"/>
<polyline points="352.80,216.80 352.91,214.74 353.00,211.58 353.07,209.97 353.05,207.29 353.42,205.08 353.37,202.03 353.27,199.87 353.50,197.40 353.56,195.10 353.76,192.38 353.75,190.36 354.12,187.70 354.42,185.95 354.40,183.60 354.90,180.65 354.84,178.17 355.30,176.00 357.40,177.50 358.37,175.15 359.00,172.90 361.47,171.38 363.60,169.20 366.61,168.92 369.70,169.20 371.73,170.79 373.93,173.21 375.80,174.50 378.90,174.50 380.40,177.50 382.68,178.68 384.47,179.71 386.55,180.69 388.93,182.63 390.78,182.87 392.88,184.16 395.28,185.27 397.30,186.70 399.21,187.85 401.16,189.39 403.09,190.39 405.03,191.72 406.67,192.60 408.91,193.73 410.70,195.15 412.60,195.90 414.32,197.19 415.91,199.15 417.77,200.30 419.61,202.44 421.09,203.55 422.91,205.93 424.46,207.41 426.17,208.26 428.00,210.30 430.07,211.36 431.66,213.10 433.71,215.17 435.67,216.38 437.44,217.75 439.59,218.63 441.42,220.38 443.30,222.00 445.13,223.38 446.78,225.21 448.34,227.15 450.23,228.47 451.79,229.14 453.60,231.32 455.36,232.71 456.78,233.84 458.60,235.80 460.77,235.42 463.20,235.80 465.41,236.74 467.80,237.30 470.13,238.45 472.40,240.40 473.90,238.80 474.31,235.80 474.41,233.61 474.90,231.20 475.92,228.74 477.00,226.60" stroke="#79c143" stroke-width="1.5" fill="none" stroke-linejoin="round"/>
<rect x="345.90" y="164.40" width="138.10" height="81.20" fill="none" stroke="#8a8a8a" stroke-width="0.9" />
<rect x="345.90" y="245.60" width="138.10" height="9.70" fill="none" stroke="#8a8a8a" stroke-width="0.9" />
<line x1="343.70" y1="226.90" x2="345.90" y2="226.90" stroke="#666" stroke-width="0.8" />
<text x="342.40" y="229.70" font-size="7.8" text-anchor="end" fill="#333" stroke="#333" stroke-width="0.22" >0.0</text>
<line x1="343.70" y1="204.00" x2="345.90" y2="204.00" stroke="#666" stroke-width="0.8" />
<text x="342.40" y="206.80" font-size="7.8" text-anchor="end" fill="#333" stroke="#333" stroke-width="0.22" >0.2</text>
<line x1="343.70" y1="181.10" x2="345.90" y2="181.10" stroke="#666" stroke-width="0.8" />
<text x="342.40" y="183.90" font-size="7.8" text-anchor="end" fill="#333" stroke="#333" stroke-width="0.22" >0.4</text>
<text x="442.40" y="175.40" font-size="7.3" fill="#1a1a1a" stroke="#1a1a1a" stroke-width="0.22" >NES: 1.473</text>
<text x="442.40" y="183.60" font-size="7.3" fill="#1a1a1a" stroke="#1a1a1a" stroke-width="0.22" ><tspan font-style="italic">P</tspan> &lt; 0.00001</text>
<text x="345.90" y="277.40" font-size="9.2" textLength="36.00" lengthAdjust="spacingAndGlyphs" fill="#ff2a2a" stroke="#ff2a2a" stroke-width="0.22" >Siglec-F<tspan dy="-3.20" font-size="6.26">hi</tspan></text>
<text x="448.50" y="277.60" font-size="9.2" textLength="35.50" lengthAdjust="spacingAndGlyphs" fill="#2a2aff" stroke="#2a2aff" stroke-width="0.22" >Siglec-F<tspan dy="-3.20" font-size="6.26">lo</tspan></text>
<text x="583.95" y="145.70" font-size="9.7" text-anchor="middle" textLength="150.00" lengthAdjust="spacingAndGlyphs" fill="#1a1a1a" stroke="#1a1a1a" stroke-width="0.22" >Coronavirus disease – COVID-19</text>
<text x="583.95" y="156.40" font-size="8.6" text-anchor="middle" textLength="76.00" lengthAdjust="spacingAndGlyphs" fill="#1a1a1a" stroke="#1a1a1a" stroke-width="0.22" >(KEGG:mmu05171)</text>
<rect x="513.00" y="255.30" width="139.90" height="9.90" fill="url(#gsea)" stroke="none" stroke-width="1" />
<line x1="519.77" y1="245.30" x2="519.77" y2="255.30" stroke="#666" stroke-width="0.7" />
<line x1="521.20" y1="245.30" x2="521.20" y2="255.30" stroke="#555" stroke-width="0.7" />
<line x1="522.22" y1="245.30" x2="522.22" y2="255.30" stroke="#888" stroke-width="0.7" />
<line x1="523.24" y1="245.30" x2="523.24" y2="255.30" stroke="#444" stroke-width="0.7" />
<line x1="524.67" y1="245.30" x2="524.67" y2="255.30" stroke="#444" stroke-width="0.7" />
<line x1="525.90" y1="245.30" x2="525.90" y2="255.30" stroke="#666" stroke-width="0.7" />
<line x1="526.71" y1="245.30" x2="526.71" y2="255.30" stroke="#666" stroke-width="0.7" />
<line x1="527.94" y1="245.30" x2="527.94" y2="255.30" stroke="#999" stroke-width="0.7" />
<line x1="529.37" y1="245.30" x2="529.37" y2="255.30" stroke="#999" stroke-width="0.7" />
<line x1="530.80" y1="245.30" x2="530.80" y2="255.30" stroke="#888" stroke-width="0.7" />
<line x1="532.03" y1="245.30" x2="532.03" y2="255.30" stroke="#888" stroke-width="0.7" />
<line x1="533.05" y1="245.30" x2="533.05" y2="255.30" stroke="#999" stroke-width="0.7" />
<line x1="534.48" y1="245.30" x2="534.48" y2="255.30" stroke="#666" stroke-width="0.7" />
<line x1="536.12" y1="245.30" x2="536.12" y2="255.30" stroke="#555" stroke-width="0.7" />
<line x1="537.55" y1="245.30" x2="537.55" y2="255.30" stroke="#666" stroke-width="0.7" />
<line x1="538.57" y1="245.30" x2="538.57" y2="255.30" stroke="#444" stroke-width="0.7" />
<line x1="539.59" y1="245.30" x2="539.59" y2="255.30" stroke="#555" stroke-width="0.7" />
<line x1="541.02" y1="245.30" x2="541.02" y2="255.30" stroke="#444" stroke-width="0.7" />
<line x1="542.66" y1="245.30" x2="542.66" y2="255.30" stroke="#888" stroke-width="0.7" />
<line x1="544.29" y1="245.30" x2="544.29" y2="255.30" stroke="#444" stroke-width="0.7" />
<line x1="545.72" y1="245.30" x2="545.72" y2="255.30" stroke="#999" stroke-width="0.7" />
<line x1="547.15" y1="245.30" x2="547.15" y2="255.30" stroke="#555" stroke-width="0.7" />
<line x1="548.79" y1="245.30" x2="548.79" y2="255.30" stroke="#555" stroke-width="0.7" />
<line x1="550.42" y1="245.30" x2="550.42" y2="255.30" stroke="#666" stroke-width="0.7" />
<line x1="551.85" y1="245.30" x2="551.85" y2="255.30" stroke="#555" stroke-width="0.7" />
<line x1="553.90" y1="245.30" x2="553.90" y2="255.30" stroke="#555" stroke-width="0.7" />
<line x1="555.94" y1="245.30" x2="555.94" y2="255.30" stroke="#888" stroke-width="0.7" />
<line x1="559.01" y1="245.30" x2="559.01" y2="255.30" stroke="#888" stroke-width="0.7" />
<line x1="561.05" y1="245.30" x2="561.05" y2="255.30" stroke="#888" stroke-width="0.7" />
<line x1="565.55" y1="245.30" x2="565.55" y2="255.30" stroke="#444" stroke-width="0.7" />
<line x1="567.18" y1="245.30" x2="567.18" y2="255.30" stroke="#666" stroke-width="0.7" />
<line x1="568.82" y1="245.30" x2="568.82" y2="255.30" stroke="#999" stroke-width="0.7" />
<line x1="571.27" y1="245.30" x2="571.27" y2="255.30" stroke="#666" stroke-width="0.7" />
<line x1="574.33" y1="245.30" x2="574.33" y2="255.30" stroke="#888" stroke-width="0.7" />
<line x1="575.76" y1="245.30" x2="575.76" y2="255.30" stroke="#555" stroke-width="0.7" />
<line x1="577.40" y1="245.30" x2="577.40" y2="255.30" stroke="#888" stroke-width="0.7" />
<line x1="579.44" y1="245.30" x2="579.44" y2="255.30" stroke="#999" stroke-width="0.7" />
<line x1="582.51" y1="245.30" x2="582.51" y2="255.30" stroke="#666" stroke-width="0.7" />
<line x1="584.55" y1="245.30" x2="584.55" y2="255.30" stroke="#999" stroke-width="0.7" />
<line x1="586.60" y1="245.30" x2="586.60" y2="255.30" stroke="#666" stroke-width="0.7" />
<line x1="589.66" y1="245.30" x2="589.66" y2="255.30" stroke="#666" stroke-width="0.7" />
<line x1="591.71" y1="245.30" x2="591.71" y2="255.30" stroke="#444" stroke-width="0.7" />
<line x1="595.79" y1="245.30" x2="595.79" y2="255.30" stroke="#888" stroke-width="0.7" />
<line x1="597.43" y1="245.30" x2="597.43" y2="255.30" stroke="#888" stroke-width="0.7" />
<line x1="599.47" y1="245.30" x2="599.47" y2="255.30" stroke="#999" stroke-width="0.7" />
<line x1="601.92" y1="245.30" x2="601.92" y2="255.30" stroke="#444" stroke-width="0.7" />
<line x1="604.38" y1="245.30" x2="604.38" y2="255.30" stroke="#444" stroke-width="0.7" />
<line x1="607.03" y1="245.30" x2="607.03" y2="255.30" stroke="#888" stroke-width="0.7" />
<line x1="609.69" y1="245.30" x2="609.69" y2="255.30" stroke="#555" stroke-width="0.7" />
<line x1="612.14" y1="245.30" x2="612.14" y2="255.30" stroke="#444" stroke-width="0.7" />
<line x1="614.19" y1="245.30" x2="614.19" y2="255.30" stroke="#666" stroke-width="0.7" />
<line x1="620.32" y1="245.30" x2="620.32" y2="255.30" stroke="#888" stroke-width="0.7" />
<line x1="622.36" y1="245.30" x2="622.36" y2="255.30" stroke="#888" stroke-width="0.7" />
<line x1="624.41" y1="245.30" x2="624.41" y2="255.30" stroke="#888" stroke-width="0.7" />
<line x1="626.45" y1="245.30" x2="626.45" y2="255.30" stroke="#666" stroke-width="0.7" />
<line x1="628.49" y1="245.30" x2="628.49" y2="255.30" stroke="#999" stroke-width="0.7" />
<line x1="630.13" y1="245.30" x2="630.13" y2="255.30" stroke="#555" stroke-width="0.7" />
<line x1="631.56" y1="245.30" x2="631.56" y2="255.30" stroke="#666" stroke-width="0.7" />
<line x1="633.60" y1="245.30" x2="633.60" y2="255.30" stroke="#555" stroke-width="0.7" />
<line x1="635.65" y1="245.30" x2="635.65" y2="255.30" stroke="#444" stroke-width="0.7" />
<line x1="637.69" y1="245.30" x2="637.69" y2="255.30" stroke="#999" stroke-width="0.7" />
<line x1="639.73" y1="245.30" x2="639.73" y2="255.30" stroke="#555" stroke-width="0.7" />
<line x1="642.39" y1="245.30" x2="642.39" y2="255.30" stroke="#999" stroke-width="0.7" />
<line x1="513.00" y1="238.20" x2="652.90" y2="238.20" stroke="#aaa" stroke-width="0.7" stroke-dasharray="1.6,1.6"/>
<polyline points="518.50,238.20 518.78,236.20 519.05,234.28 518.98,231.66 519.48,229.04 519.57,226.59 519.71,224.73 519.89,222.37 520.44,220.48 520.50,218.20 521.90,220.50 524.20,218.20 524.60,216.29 525.03,213.89 525.46,211.25 525.63,208.59 526.30,205.56 526.77,203.25 527.00,201.20 527.39,198.56 527.80,196.76 528.02,194.85 528.57,192.11 529.00,189.80 531.30,186.90 532.27,184.39 533.08,182.34 534.10,179.80 537.00,177.00 539.80,174.10 541.72,171.96 543.69,170.08 545.50,168.40 547.46,169.97 549.80,172.10 551.52,170.22 553.70,168.98 555.50,167.60 558.30,169.90 560.36,171.82 561.92,173.74 564.18,174.38 566.06,176.42 567.79,178.67 569.70,179.80 571.30,181.55 573.27,183.49 574.79,185.49 576.63,186.79 578.20,188.40 580.20,189.59 582.48,190.17 584.47,191.58 586.80,192.60 588.35,194.26 590.27,195.99 591.80,197.85 593.57,199.79 595.30,201.20 597.03,203.45 598.92,204.86 600.36,205.88 602.34,208.31 603.90,209.70 605.65,211.25 607.21,213.30 609.03,214.90 610.75,216.78 612.40,218.20 613.98,219.92 615.99,222.66 617.65,223.69 619.02,225.95 620.90,228.20 622.77,230.24 624.54,232.05 626.60,233.90 629.28,233.00 632.30,233.00 634.27,234.29 636.15,235.33 638.00,236.70 640.14,238.53 642.30,241.00 642.94,238.17 643.70,234.80 646.60,237.60" stroke="#79c143" stroke-width="1.5" fill="none" stroke-linejoin="round"/>
<rect x="513.00" y="163.80" width="139.90" height="81.50" fill="none" stroke="#8a8a8a" stroke-width="0.9" />
<rect x="513.00" y="245.30" width="139.90" height="10.00" fill="none" stroke="#8a8a8a" stroke-width="0.9" />
<line x1="510.80" y1="238.20" x2="513.00" y2="238.20" stroke="#666" stroke-width="0.8" />
<text x="508.80" y="241.00" font-size="7.8" text-anchor="end" fill="#333" stroke="#333" stroke-width="0.22" >0.0</text>
<line x1="510.80" y1="220.40" x2="513.00" y2="220.40" stroke="#666" stroke-width="0.8" />
<text x="508.80" y="223.20" font-size="7.8" text-anchor="end" fill="#333" stroke="#333" stroke-width="0.22" >0.1</text>
<line x1="510.80" y1="202.60" x2="513.00" y2="202.60" stroke="#666" stroke-width="0.8" />
<text x="508.80" y="205.40" font-size="7.8" text-anchor="end" fill="#333" stroke="#333" stroke-width="0.22" >0.2</text>
<line x1="510.80" y1="184.80" x2="513.00" y2="184.80" stroke="#666" stroke-width="0.8" />
<text x="508.80" y="187.60" font-size="7.8" text-anchor="end" fill="#333" stroke="#333" stroke-width="0.22" >0.3</text>
<line x1="510.80" y1="167.00" x2="513.00" y2="167.00" stroke="#666" stroke-width="0.8" />
<text x="508.80" y="169.80" font-size="7.8" text-anchor="end" fill="#333" stroke="#333" stroke-width="0.22" >0.4</text>
<text x="611.80" y="173.30" font-size="7.3" fill="#1a1a1a" stroke="#1a1a1a" stroke-width="0.22" >NES: 2.284</text>
<text x="611.80" y="181.50" font-size="7.3" fill="#1a1a1a" stroke="#1a1a1a" stroke-width="0.22" ><tspan font-style="italic">P</tspan> &lt; 0.00001</text>
<text x="513.00" y="277.40" font-size="9.2" textLength="36.00" lengthAdjust="spacingAndGlyphs" fill="#ff2a2a" stroke="#ff2a2a" stroke-width="0.22" >Siglec-F<tspan dy="-3.20" font-size="6.26">hi</tspan></text>
<text x="617.40" y="277.60" font-size="9.2" textLength="35.50" lengthAdjust="spacingAndGlyphs" fill="#2a2aff" stroke="#2a2aff" stroke-width="0.22" >Siglec-F<tspan dy="-3.20" font-size="6.26">lo</tspan></text>
<text x="321.20" y="134.00" font-size="10.3" text-anchor="middle" fill="#1a1a1a" stroke="#1a1a1a" stroke-width="0.22" transform="rotate(-90 321.20 134.00)" >Enrichment score</text>
<text x="2.00" y="318.50" font-size="14.5" fill="#000" stroke="#000" stroke-width="0.22" font-weight="bold" >c</text>
<defs>
<linearGradient id="orrd" x1="0" x2="0" y1="1" y2="0">
<stop offset="0" stop-color="#fff7ec"/>
<stop offset="0.14" stop-color="#fee8c8"/>
<stop offset="0.28" stop-color="#fdd49e"/>
<stop offset="0.42" stop-color="#fdbb84"/>
<stop offset="0.56" stop-color="#fc8d59"/>
<stop offset="0.70" stop-color="#ef6548"/>
<stop offset="0.82" stop-color="#d7301f"/>
<stop offset="0.92" stop-color="#b30000"/>
<stop offset="1" stop-color="#7f0000"/>
</linearGradient>
</defs>
<text x="68.50" y="346.30" font-size="9.8" text-anchor="middle" fill="#1a1a1a" stroke="#1a1a1a" stroke-width="0.22" font-style="italic" >Siglecf</text>
<path d="M58.50,351.70 L62.00,353.10 L64.70,356.60 L65.40,362.10 L66.80,366.30 L69.60,369.00 L73.10,371.80 L78.60,373.90 L85.50,372.50 L92.50,371.50 L99.40,373.20 L105.00,378.10 L108.40,383.60 L109.80,389.80 L108.40,396.80 L105.00,402.30 L99.40,407.90 L92.50,410.60 L85.50,412.00 L80.00,410.60 L75.80,406.50 L71.70,402.30 L66.80,399.30 L60.60,397.30 L53.60,395.70 L47.40,394.00 L45.60,395.70 L43.90,399.30 L40.50,400.20 L39.50,396.80 L41.40,392.90 L42.50,389.80 L40.50,386.80 L36.70,382.60 L32.80,379.00 L25.50,375.10 L34.20,371.10 L39.80,366.30 L45.30,361.40 L50.90,357.90 L55.00,353.80 Z" fill="#fef7f1" stroke="#fef7f1" stroke-width="1.2" stroke-linejoin="round"/>
<path d="M55.9 364.5h0M54.1 359.5h0M55.5 364.7h0M48.9 365.1h0M58.0 360.6h0M47.7 368.8h0" stroke="#f3734e" stroke-width="1.7" stroke-linecap="square" fill="none" />
<path d="M54.5 361.9h0M43.6 366.0h0M61.4 359.7h0M52.4 357.3h0M56.7 361.7h0M63.4 364.3h0M41.4 368.5h0M42.3 371.4h0M59.5 365.6h0M48.0 374.2h0M56.6 365.4h0M103.5 395.0h0M82.8 390.7h0M64.8 396.3h0M92.1 393.5h0M57.3 388.3h0M104.3 397.9h0M98.8 390.4h0M76.8 379.3h0M70.9 386.4h0M36.8 379.6h0M43.7 396.5h0M72.9 388.9h0M54.5 378.2h0M99.0 386.7h0M58.5 373.9h0M75.9 397.3h0M42.6 376.9h0M65.8 385.9h0M62.9 377.6h0" stroke="#ef6548" stroke-width="1.7" stroke-linecap="square" fill="none" />
<path d="M60.4 367.4h0M41.2 373.9h0M57.8 358.3h0M59.2 362.7h0M55.8 366.1h0M55.5 367.3h0M55.7 360.6h0M55.8 358.4h0M50.5 366.9h0M47.0 361.8h0M57.0 364.0h0M41.7 367.9h0M47.1 369.7h0M37.3 368.9h0M48.5 369.9h0M53.7 358.1h0M51.9 361.1h0M56.3 355.8h0M41.6 366.5h0M62.2 367.7h0M59.6 360.7h0M59.8 363.7h0M44.1 363.6h0M54.4 362.8h0M59.8 363.5h0M42.9 374.4h0M58.6 362.8h0M55.7 359.6h0M41.9 373.9h0M58.0 360.2h0M93.0 407.6h0M82.0 375.4h0M68.0 383.5h0M81.5 408.8h0M90.9 407.3h0M96.7 393.8h0M102.1 392.6h0M66.3 399.0h0M63.3 384.1h0M77.4 385.7h0M34.0 371.4h0M56.2 382.2h0M83.0 402.5h0M66.2 379.7h0M50.3 372.2h0M87.0 410.8h0M50.5 371.3h0M63.9 393.0h0M91.7 375.3h0M99.7 387.8h0M43.8 375.9h0M92.0 379.9h0" stroke="#e54e36" stroke-width="1.7" stroke-linecap="square" fill="none" />
<path d="M47.5 369.3h0M48.7 375.1h0M42.5 375.6h0M48.9 370.6h0M59.4 366.9h0M48.4 374.3h0M34.7 373.9h0M54.1 357.0h0M56.1 366.3h0M49.8 363.2h0M59.7 361.8h0M56.2 355.5h0M58.6 365.6h0M43.7 367.2h0M56.2 366.9h0M40.1 367.9h0M46.2 371.6h0M57.3 357.0h0M50.1 371.9h0M45.5 363.2h0M62.0 357.7h0M55.7 363.6h0M56.0 364.5h0M57.4 366.0h0M39.2 374.3h0M48.7 370.0h0M54.5 360.3h0M41.2 365.8h0M57.6 359.0h0M60.0 388.6h0M72.0 382.9h0M77.5 397.9h0M57.8 390.5h0M44.3 387.8h0M96.2 384.2h0M86.1 394.2h0M83.1 400.9h0M70.7 388.4h0M87.7 378.1h0M84.6 386.4h0M92.7 378.4h0M63.2 385.1h0M41.3 385.1h0M70.0 392.1h0M107.3 393.9h0M51.2 380.4h0M30.4 376.3h0M81.9 407.0h0M73.0 379.7h0M88.7 397.1h0M47.3 375.1h0M56.0 384.1h0M90.2 380.1h0M42.5 374.7h0M102.5 381.1h0M76.7 406.2h0M66.9 398.6h0" stroke="#da3825" stroke-width="1.7" stroke-linecap="square" fill="none" />
<path d="M46.7 375.6h0M48.2 363.2h0M64.1 366.5h0M54.6 364.2h0M55.6 362.5h0M49.4 369.2h0M59.4 368.6h0M53.0 368.7h0M60.2 353.4h0M56.5 364.5h0M55.9 361.3h0M35.2 371.3h0M54.5 366.4h0M35.5 375.5h0M57.5 361.6h0M39.0 367.3h0M60.2 358.0h0M47.5 370.5h0M57.0 366.8h0M51.2 358.4h0M39.3 369.3h0M65.0 360.2h0M52.1 368.0h0M102.5 400.7h0M74.4 389.1h0M74.3 382.6h0M69.2 372.5h0M60.8 373.7h0M87.3 398.1h0M107.8 386.6h0M92.2 372.0h0M104.4 392.4h0M78.1 378.2h0M53.1 381.9h0M69.2 373.0h0M71.3 382.1h0M107.3 388.8h0M86.1 400.8h0M39.9 379.1h0" stroke="#cc2115" stroke-width="1.7" stroke-linecap="square" fill="none" />
<path d="M46.6 372.8h0M58.4 362.4h0M44.3 366.4h0M53.4 367.8h0M51.7 365.1h0M63.0 358.8h0M43.9 368.3h0M38.0 369.2h0M46.5 366.9h0M54.4 365.8h0M35.9 374.5h0M38.1 372.3h0M52.8 368.1h0M38.9 371.5h0M59.9 355.5h0M52.2 360.0h0M58.8 357.5h0M62.4 359.2h0M52.0 363.5h0M48.3 364.5h0M40.6 372.2h0M56.4 357.4h0M60.7 368.3h0M38.3 373.3h0M56.3 358.0h0" stroke="#ba0906" stroke-width="1.7" stroke-linecap="square" fill="none" />
<path d="M42.6 365.1h0M62.4 359.1h0M52.7 357.8h0M45.9 371.2h0M60.6 358.9h0M43.4 367.3h0" stroke="#9f0000" stroke-width="1.7" stroke-linecap="square" fill="none" />
<rect x="114.20" y="349.30" width="2.80" height="67.00" fill="url(#orrd)" stroke="#777" stroke-width="0.4" />
<line x1="117.00" y1="416.30" x2="118.50" y2="416.30" stroke="#444" stroke-width="0.6" />
<text x="119.20" y="418.90" font-size="7.2" stroke="#222" stroke-width="0.22" >0</text>
<line x1="117.00" y1="404.94" x2="118.50" y2="404.94" stroke="#444" stroke-width="0.6" />
<text x="119.20" y="407.54" font-size="7.2" stroke="#222" stroke-width="0.22" >1</text>
<line x1="117.00" y1="393.59" x2="118.50" y2="393.59" stroke="#444" stroke-width="0.6" />
<text x="119.20" y="396.19" font-size="7.2" stroke="#222" stroke-width="0.22" >2</text>
<line x1="117.00" y1="382.23" x2="118.50" y2="382.23" stroke="#444" stroke-width="0.6" />
<text x="119.20" y="384.83" font-size="7.2" stroke="#222" stroke-width="0.22" >3</text>
<line x1="117.00" y1="370.88" x2="118.50" y2="370.88" stroke="#444" stroke-width="0.6" />
<text x="119.20" y="373.48" font-size="7.2" stroke="#222" stroke-width="0.22" >4</text>
<line x1="117.00" y1="359.52" x2="118.50" y2="359.52" stroke="#444" stroke-width="0.6" />
<text x="119.20" y="362.12" font-size="7.2" stroke="#222" stroke-width="0.22" >5</text>
<text x="189.50" y="346.30" font-size="9.8" text-anchor="middle" fill="#1a1a1a" stroke="#1a1a1a" stroke-width="0.22" font-style="italic" >Pecam1</text>
<path d="M183.00,351.70 L186.50,353.10 L189.20,356.60 L189.90,362.10 L191.30,366.30 L194.10,369.00 L197.60,371.80 L203.10,373.90 L210.00,372.50 L217.00,371.50 L223.90,373.20 L229.50,378.10 L232.90,383.60 L234.30,389.80 L232.90,396.80 L229.50,402.30 L223.90,407.90 L217.00,410.60 L210.00,412.00 L204.50,410.60 L200.30,406.50 L196.20,402.30 L191.30,399.30 L185.10,397.30 L178.10,395.70 L171.90,394.00 L170.10,395.70 L168.40,399.30 L165.00,400.20 L164.00,396.80 L165.90,392.90 L167.00,389.80 L165.00,386.80 L161.20,382.60 L157.30,379.00 L150.00,375.10 L158.70,371.10 L164.30,366.30 L169.80,361.40 L175.40,357.90 L179.50,353.80 Z" fill="#fef7f1" stroke="#fef7f1" stroke-width="1.2" stroke-linejoin="round"/>
<path d="M202.3 393.4h0M194.6 390.4h0M207.9 409.1h0" stroke="#f88154" stroke-width="1.7" stroke-linecap="square" fill="none" />
<path d="M176.3 374.1h0M179.8 376.2h0M180.9 357.2h0M177.9 356.1h0M176.6 369.5h0M177.6 363.4h0M183.6 368.3h0M172.8 374.5h0M181.3 364.4h0M179.9 362.1h0M177.2 371.9h0M174.0 366.2h0M210.9 396.8h0M196.8 377.4h0M211.3 381.8h0M197.4 380.5h0M216.5 395.7h0M213.5 403.1h0M200.8 401.5h0M232.9 384.1h0M213.2 390.2h0M222.4 378.1h0M220.4 383.9h0M226.8 385.6h0M223.8 378.9h0M209.1 410.9h0M212.0 373.2h0M217.6 374.0h0M220.0 386.8h0M210.9 387.7h0M230.6 388.4h0M211.5 410.7h0M219.2 372.4h0M219.8 407.0h0M207.0 399.2h0" stroke="#f3734e" stroke-width="1.7" stroke-linecap="square" fill="none" />
<path d="M184.9 358.5h0M185.6 364.3h0M172.3 367.9h0M182.2 373.9h0M179.6 363.0h0M189.3 366.2h0M171.6 375.7h0M189.6 360.7h0M189.4 380.3h0M185.5 378.2h0M188.5 365.9h0M167.3 374.9h0M176.4 365.2h0M176.3 377.3h0M183.1 361.2h0M186.3 354.9h0M171.6 373.5h0M185.0 364.3h0M186.9 358.6h0M182.0 361.0h0M188.9 369.3h0M168.3 374.1h0M172.1 374.6h0M180.4 360.7h0M181.1 362.1h0M174.0 368.1h0M164.6 372.9h0M184.2 353.8h0M184.5 360.1h0M162.7 370.9h0M177.1 377.7h0M187.1 364.3h0M187.5 365.8h0M170.8 369.9h0M178.9 364.6h0M179.1 361.3h0M182.7 355.9h0M174.9 369.4h0M160.8 370.1h0M169.7 367.7h0M168.5 367.9h0M177.4 371.9h0M176.8 365.3h0M176.6 363.8h0M181.4 376.3h0M187.5 363.3h0M180.2 376.4h0M182.2 377.8h0M163.8 378.6h0M179.6 390.6h0M183.2 387.7h0M189.9 384.4h0M164.8 379.8h0M172.1 386.4h0M177.1 388.4h0M164.6 378.3h0M171.2 388.1h0M189.7 380.7h0M174.0 385.9h0M190.3 381.1h0M191.9 398.5h0M177.1 381.0h0M172.0 380.0h0M191.5 387.3h0M220.1 376.7h0M200.4 381.5h0M228.0 377.4h0M220.2 408.2h0M230.7 397.4h0M209.4 397.0h0M228.4 387.4h0M214.6 401.7h0M228.2 396.8h0M226.0 404.8h0M214.3 392.4h0M209.7 400.3h0M201.5 400.4h0M232.3 383.9h0M208.3 411.1h0M232.0 388.7h0" stroke="#ef6548" stroke-width="1.7" stroke-linecap="square" fill="none" />
<path d="M171.8 376.2h0M180.9 356.9h0M170.4 371.9h0M169.5 364.2h0M175.8 368.8h0M184.8 379.2h0M180.7 367.0h0M185.5 360.1h0M179.5 368.0h0M172.4 369.2h0M180.6 372.5h0M189.2 379.3h0M183.5 354.8h0M170.9 367.3h0M174.5 361.9h0M175.9 360.9h0M160.4 371.8h0M182.3 361.5h0M180.8 367.8h0M170.7 363.9h0M181.4 370.9h0M169.6 363.6h0M176.0 374.2h0M166.2 374.0h0M173.8 369.9h0M182.6 353.6h0M181.5 362.8h0M190.3 370.9h0M171.6 362.5h0M171.8 370.8h0M165.0 373.3h0M181.8 368.9h0M180.7 354.6h0M172.7 374.0h0M169.1 364.5h0M178.3 356.8h0M167.4 368.9h0M161.5 370.6h0M176.9 364.8h0M172.6 375.5h0M186.4 357.3h0M183.0 367.1h0M175.6 369.8h0M165.7 371.1h0M178.7 364.7h0M176.3 370.7h0M169.7 372.7h0M176.8 373.4h0M169.0 368.8h0M188.2 361.5h0M174.9 360.0h0M173.1 363.8h0M173.8 364.0h0M186.3 359.1h0M180.6 367.7h0M173.5 388.7h0M173.6 386.1h0M173.3 381.6h0M167.8 378.5h0M175.5 385.7h0M181.8 385.2h0M179.2 382.5h0M189.7 389.7h0M168.5 379.3h0M174.7 382.6h0M181.9 396.4h0M183.7 380.3h0M175.8 388.0h0M189.1 382.4h0M178.7 384.3h0M178.7 384.3h0M192.8 393.8h0M196.6 375.3h0M201.6 385.3h0M229.9 384.4h0M220.6 399.8h0M205.3 389.6h0M197.1 398.2h0M213.4 373.3h0M219.8 394.1h0M213.3 374.0h0M221.9 396.0h0M211.7 402.1h0M210.4 378.9h0M196.8 393.4h0M193.2 391.5h0M233.1 387.0h0M210.6 393.3h0M223.3 384.4h0M199.9 392.1h0M211.7 385.1h0M194.1 391.5h0M213.5 382.4h0M224.5 383.0h0M166.1 396.0h0M164.2 397.6h0" stroke="#e54e36" stroke-width="1.7" stroke-linecap="square" fill="none" />
<path d="M174.9 365.0h0M172.2 371.8h0M174.0 370.3h0M179.0 358.8h0M177.9 366.7h0M180.9 365.9h0M188.8 356.8h0M189.6 381.6h0M181.6 366.1h0M170.5 375.5h0M186.2 363.2h0M185.9 354.9h0M174.8 374.6h0M184.8 367.2h0M176.9 374.9h0M184.8 365.3h0M185.3 364.3h0M181.8 369.2h0M160.1 369.9h0M181.3 373.8h0M173.3 375.2h0M183.1 360.2h0M186.7 367.2h0M168.0 372.2h0M181.0 361.1h0M180.5 362.7h0M165.9 370.3h0M183.5 360.4h0M176.0 362.4h0M175.5 367.0h0M174.4 365.7h0M180.7 369.0h0M174.9 360.8h0M173.8 362.9h0M188.6 365.1h0M182.1 360.1h0M185.1 363.7h0M187.4 356.8h0M186.0 368.5h0M175.4 382.0h0M183.7 386.4h0M169.4 381.4h0M190.0 392.6h0M176.8 386.5h0M178.5 378.4h0M177.1 386.5h0M164.7 382.7h0M162.4 378.7h0M176.6 387.2h0M178.7 386.1h0M173.4 380.3h0M177.7 385.4h0M178.5 381.7h0M172.1 381.3h0M179.7 388.2h0M171.0 379.8h0M181.1 383.9h0M177.4 383.9h0M169.6 380.9h0M216.5 405.9h0M216.2 396.2h0M205.7 397.1h0M219.4 373.5h0M220.6 383.1h0M224.0 390.5h0M210.7 410.1h0M216.9 392.2h0M196.2 386.8h0M196.7 371.6h0M195.3 397.3h0M210.3 406.6h0M229.1 400.4h0M218.2 405.2h0M194.0 374.0h0M230.1 400.5h0M222.5 388.3h0M199.5 395.1h0M224.4 402.3h0M228.1 397.2h0M205.2 378.6h0" stroke="#da3825" stroke-width="1.7" stroke-linecap="square" fill="none" />
<path d="M167.7 368.2h0M176.6 362.1h0M174.2 375.9h0M181.7 366.0h0M178.9 354.6h0M179.5 371.2h0M172.6 366.4h0M181.3 365.1h0M182.8 362.0h0M179.9 377.6h0M174.9 364.1h0M182.4 368.7h0M178.8 358.1h0M178.5 371.7h0M173.6 367.9h0M165.2 369.4h0M166.4 372.4h0M181.0 377.9h0M182.0 367.5h0M176.6 368.9h0M183.0 359.5h0M181.6 365.2h0M179.4 370.1h0M185.7 367.2h0M187.9 380.5h0M185.4 370.2h0M178.4 361.0h0M174.3 367.0h0M186.0 362.4h0M171.9 375.9h0M173.3 365.5h0M170.7 372.7h0M170.5 367.1h0M185.2 356.2h0M181.4 360.5h0M181.2 368.9h0M169.4 370.6h0M186.8 359.2h0M180.4 361.1h0M176.6 362.8h0M164.3 378.3h0M169.8 378.5h0M168.9 394.0h0M181.7 378.2h0M166.1 382.6h0M178.0 387.5h0M169.6 388.6h0M167.9 389.5h0M174.0 380.3h0M174.7 381.1h0M172.2 385.2h0M163.8 378.5h0M183.4 390.2h0M174.6 379.7h0M184.3 384.5h0M166.8 398.4h0" stroke="#cc2115" stroke-width="1.7" stroke-linecap="square" fill="none" />
<path d="M185.3 363.0h0M179.3 372.9h0M184.0 356.2h0M175.3 374.1h0M175.2 376.7h0M183.9 370.5h0M181.9 361.3h0M175.6 375.6h0M180.7 355.7h0M179.2 360.7h0M176.2 373.4h0M183.3 373.0h0M173.8 368.5h0M178.9 370.8h0M180.3 354.5h0M179.4 365.7h0M175.1 374.4h0M180.3 368.5h0M185.8 378.9h0M188.3 379.8h0M174.7 370.3h0M183.3 370.0h0M163.9 369.1h0M178.5 368.0h0M174.0 362.8h0M180.5 360.9h0M171.9 369.2h0M170.5 373.3h0M168.2 368.8h0M178.3 362.2h0M181.4 359.6h0M182.1 363.7h0M170.0 361.7h0M163.1 369.0h0M180.3 364.2h0M177.9 370.9h0M186.6 362.9h0M176.0 387.1h0M177.6 386.8h0" stroke="#ba0906" stroke-width="1.7" stroke-linecap="square" fill="none" />
<path d="M172.9 372.4h0M168.7 372.3h0M182.6 364.4h0M175.1 364.4h0M182.6 363.7h0M183.0 352.4h0M182.4 365.5h0M182.4 358.0h0M186.3 356.6h0M177.6 369.6h0M185.4 370.2h0M181.3 353.7h0M180.6 371.1h0M189.9 379.9h0M184.2 359.8h0M179.4 368.2h0M181.7 367.4h0M182.6 369.4h0M184.9 358.9h0M166.9 397.9h0M166.9 397.3h0" stroke="#9f0000" stroke-width="1.7" stroke-linecap="square" fill="none" />
<rect x="237.50" y="349.30" width="2.80" height="67.00" fill="url(#orrd)" stroke="#777" stroke-width="0.4" />
<line x1="240.30" y1="416.30" x2="241.80" y2="416.30" stroke="#444" stroke-width="0.6" />
<text x="242.50" y="418.90" font-size="7.2" stroke="#222" stroke-width="0.22" >0</text>
<line x1="240.30" y1="405.83" x2="241.80" y2="405.83" stroke="#444" stroke-width="0.6" />
<text x="242.50" y="408.43" font-size="7.2" stroke="#222" stroke-width="0.22" >1</text>
<line x1="240.30" y1="395.36" x2="241.80" y2="395.36" stroke="#444" stroke-width="0.6" />
<text x="242.50" y="397.96" font-size="7.2" stroke="#222" stroke-width="0.22" >2</text>
<line x1="240.30" y1="384.89" x2="241.80" y2="384.89" stroke="#444" stroke-width="0.6" />
<text x="242.50" y="387.49" font-size="7.2" stroke="#222" stroke-width="0.22" >3</text>
<line x1="240.30" y1="374.43" x2="241.80" y2="374.43" stroke="#444" stroke-width="0.6" />
<text x="242.50" y="377.03" font-size="7.2" stroke="#222" stroke-width="0.22" >4</text>
<line x1="240.30" y1="363.96" x2="241.80" y2="363.96" stroke="#444" stroke-width="0.6" />
<text x="242.50" y="366.56" font-size="7.2" stroke="#222" stroke-width="0.22" >5</text>
<line x1="240.30" y1="353.49" x2="241.80" y2="353.49" stroke="#444" stroke-width="0.6" />
<text x="242.50" y="356.09" font-size="7.2" stroke="#222" stroke-width="0.22" >6</text>
<text x="68.50" y="427.90" font-size="9.8" text-anchor="middle" fill="#1a1a1a" stroke="#1a1a1a" stroke-width="0.22" font-style="italic" >Il1a</text>
<path d="M58.50,433.30 L62.00,434.70 L64.70,438.20 L65.40,443.70 L66.80,447.90 L69.60,450.60 L73.10,453.40 L78.60,455.50 L85.50,454.10 L92.50,453.10 L99.40,454.80 L105.00,459.70 L108.40,465.20 L109.80,471.40 L108.40,478.40 L105.00,483.90 L99.40,489.50 L92.50,492.20 L85.50,493.60 L80.00,492.20 L75.80,488.10 L71.70,483.90 L66.80,480.90 L60.60,478.90 L53.60,477.30 L47.40,475.60 L45.60,477.30 L43.90,480.90 L40.50,481.80 L39.50,478.40 L41.40,474.50 L42.50,471.40 L40.50,468.40 L36.70,464.20 L32.80,460.60 L25.50,456.70 L34.20,452.70 L39.80,447.90 L45.30,443.00 L50.90,439.50 L55.00,435.40 Z" fill="#fef7f1" stroke="#fef7f1" stroke-width="1.2" stroke-linejoin="round"/>
<path d="M69.3 470.4h0M81.5 484.3h0M94.5 477.1h0M89.7 472.6h0" stroke="#f88154" stroke-width="1.7" stroke-linecap="square" fill="none" />
<path d="M62.1 457.3h0M44.1 456.2h0M50.0 459.3h0M58.4 450.2h0M62.1 439.3h0M54.8 452.5h0M56.6 441.1h0M36.9 454.9h0M55.4 443.5h0M50.9 446.2h0M59.1 448.9h0M52.2 468.4h0M57.0 472.1h0M66.4 468.1h0M54.8 473.8h0M71.3 462.9h0M54.2 465.2h0M77.8 473.5h0M97.7 472.6h0M91.4 477.5h0M68.6 480.1h0M96.0 478.8h0M99.4 481.1h0M68.7 464.0h0M88.5 454.8h0M104.8 480.5h0M97.8 462.0h0M100.0 472.1h0M97.3 458.5h0M92.3 474.4h0M97.1 473.2h0M95.4 455.7h0M90.3 480.9h0M97.2 474.2h0M90.6 465.7h0M94.0 469.6h0M71.4 467.4h0M90.8 462.0h0M74.8 471.2h0M68.8 456.6h0M87.9 471.7h0M81.2 462.2h0M74.5 477.1h0M95.1 474.1h0" stroke="#f3734e" stroke-width="1.7" stroke-linecap="square" fill="none" />
<path d="M57.6 444.8h0M60.0 440.8h0M49.7 457.5h0M56.4 464.5h0M55.6 440.3h0M37.7 458.6h0M47.6 444.5h0M44.9 454.3h0M52.2 446.9h0M55.3 440.4h0M52.2 440.5h0M51.2 444.4h0M39.3 455.7h0M66.3 460.3h0M56.4 441.8h0M54.7 443.7h0M48.3 462.3h0M44.2 449.6h0M57.2 441.8h0M53.0 459.5h0M56.6 443.0h0M40.4 448.7h0M42.0 461.1h0M63.0 458.6h0M45.3 458.3h0M52.5 458.5h0M58.4 440.1h0M45.5 450.7h0M49.0 447.0h0M54.8 459.0h0M43.0 459.3h0M50.7 451.1h0M47.2 453.8h0M57.9 450.5h0M57.0 464.1h0M41.2 453.2h0M47.4 457.8h0M54.7 438.0h0M62.3 459.0h0M53.5 444.3h0M67.2 480.4h0M55.3 466.5h0M51.5 462.4h0M60.1 477.3h0M71.9 478.4h0M45.1 465.8h0M63.5 477.0h0M70.6 471.8h0M45.0 465.1h0M58.2 471.8h0M56.9 461.8h0M40.1 463.5h0M66.1 470.5h0M61.9 465.5h0M65.1 463.4h0M52.8 461.9h0M69.7 469.2h0M45.9 463.4h0M44.3 464.7h0M72.0 463.0h0M45.6 476.2h0M47.5 466.2h0M68.4 463.1h0M94.5 465.0h0M103.7 477.0h0M89.8 482.3h0M95.1 469.7h0M105.3 470.2h0M85.8 458.5h0M75.5 476.6h0M89.1 485.2h0M102.1 475.0h0M84.0 481.3h0M89.5 471.7h0M87.3 482.3h0M90.1 455.8h0M85.7 482.7h0M77.9 470.2h0M88.6 476.1h0M92.9 471.5h0M90.4 462.6h0M81.3 464.9h0M80.5 476.5h0M85.4 483.8h0M79.5 467.9h0M88.3 474.3h0M90.5 476.0h0M84.5 474.3h0M91.4 476.6h0M69.8 464.6h0M78.6 475.8h0M98.9 464.3h0M88.5 472.7h0M89.9 463.1h0M87.8 484.9h0M68.8 468.0h0M96.0 463.5h0M105.3 469.0h0M69.7 476.4h0" stroke="#ef6548" stroke-width="1.7" stroke-linecap="square" fill="none" />
<path d="M61.7 447.7h0M48.0 458.8h0M57.7 458.7h0M63.4 465.1h0M63.6 448.4h0M59.8 447.8h0M34.6 455.6h0M51.8 447.3h0M54.7 457.8h0M43.8 458.2h0M59.5 441.2h0M60.2 443.5h0M52.4 444.5h0M56.2 438.2h0M58.2 446.5h0M61.1 439.8h0M63.4 464.2h0M44.1 452.8h0M55.8 445.0h0M49.6 450.7h0M39.0 449.2h0M39.6 459.2h0M65.0 445.9h0M65.7 463.3h0M59.0 456.0h0M57.0 445.7h0M46.7 455.7h0M58.1 442.7h0M52.1 451.9h0M58.6 440.1h0M55.5 442.3h0M53.7 447.5h0M50.0 464.5h0M49.7 473.7h0M63.6 475.1h0M55.2 465.7h0M54.9 471.6h0M52.8 468.9h0M56.8 464.3h0M71.3 467.5h0M50.1 468.1h0M51.8 463.5h0M77.2 465.7h0M86.4 465.9h0M95.5 467.3h0M90.6 469.8h0M70.3 475.4h0M86.4 474.7h0M73.4 462.0h0M83.5 462.8h0M91.2 462.1h0M89.8 491.3h0M93.9 478.7h0M96.5 477.2h0M107.4 479.3h0M88.8 486.0h0M79.6 468.2h0M94.3 467.7h0M83.1 488.1h0M97.0 489.1h0M93.6 486.5h0M80.8 477.6h0M85.5 468.4h0M42.6 479.9h0M44.5 478.5h0M42.7 478.1h0M43.0 479.9h0" stroke="#e54e36" stroke-width="1.7" stroke-linecap="square" fill="none" />
<path d="M48.6 457.7h0M60.9 451.8h0M52.0 442.9h0M56.8 456.9h0M51.1 453.3h0M63.7 441.8h0M45.8 458.4h0M60.5 463.4h0M56.1 445.0h0M39.5 457.2h0M36.3 456.2h0M56.6 444.4h0M36.2 458.0h0M56.7 439.2h0M57.4 445.7h0M49.6 457.9h0M54.7 443.7h0M39.6 455.6h0M63.8 457.0h0M54.5 443.7h0M61.2 439.1h0M59.4 444.4h0M53.0 444.3h0M42.7 458.0h0M65.9 458.7h0M47.1 452.6h0M49.6 456.7h0M65.8 459.7h0M58.2 459.6h0M44.0 452.8h0M54.2 445.8h0M54.8 437.2h0M57.6 445.3h0M51.7 461.1h0M43.8 447.6h0M55.1 441.7h0M60.8 461.8h0M46.8 457.4h0M64.8 464.6h0M60.0 440.7h0M53.2 445.4h0M58.5 436.3h0M54.7 451.1h0M54.3 461.7h0M71.0 473.2h0M61.2 469.2h0M52.4 463.3h0M51.8 475.8h0M50.8 463.2h0M39.4 466.6h0M56.5 472.0h0M67.9 476.8h0M54.6 468.8h0M71.3 477.5h0M53.4 466.3h0M67.3 468.2h0M50.9 470.7h0M52.6 474.5h0M61.1 468.1h0M69.8 470.1h0M43.6 463.3h0M65.6 462.2h0M57.7 465.3h0M59.2 466.3h0M57.3 471.0h0M71.8 470.8h0M62.5 475.7h0M85.9 473.3h0M88.8 480.2h0M100.7 461.1h0M106.5 464.6h0M78.6 473.8h0M103.1 474.9h0M84.2 460.5h0M77.9 480.0h0M91.1 479.3h0M69.3 469.2h0M83.7 474.1h0M73.3 475.3h0M82.0 466.2h0M93.7 484.2h0M95.8 473.5h0M76.4 475.0h0M80.0 462.5h0M83.3 472.0h0M93.1 476.6h0M70.7 460.0h0M91.3 479.8h0M84.0 475.5h0M94.4 470.7h0M72.4 462.8h0M82.1 463.2h0M87.4 473.7h0M97.0 475.1h0M73.6 466.1h0M87.7 464.8h0M96.8 477.8h0M76.8 460.9h0M76.8 485.7h0M75.5 464.8h0" stroke="#da3825" stroke-width="1.7" stroke-linecap="square" fill="none" />
<path d="M49.2 451.2h0M37.0 459.5h0M55.6 444.4h0M59.2 441.0h0M54.5 442.4h0M56.1 448.1h0M47.1 456.1h0M57.0 460.9h0M57.2 446.4h0M48.8 459.1h0M63.1 444.3h0M57.9 463.9h0M51.9 444.7h0M56.4 443.0h0M31.7 458.3h0M60.8 449.8h0M40.1 449.8h0M60.9 450.0h0M56.9 444.8h0M54.6 462.3h0M41.4 450.0h0M65.7 448.8h0M60.6 464.0h0M47.5 460.2h0M55.7 441.6h0M49.6 444.6h0M59.1 456.2h0M48.2 442.6h0M48.7 456.2h0M55.6 448.8h0M53.5 452.3h0M49.9 462.5h0M58.6 455.1h0M51.8 450.0h0M40.5 461.3h0M64.2 446.7h0M36.6 459.1h0M53.0 445.6h0M55.7 456.2h0M55.9 443.6h0M43.9 460.1h0M46.7 462.4h0M57.0 434.5h0M57.5 459.0h0M61.3 451.7h0M59.6 440.3h0M55.3 456.8h0M59.2 457.3h0M61.2 474.7h0M60.5 465.1h0M51.9 468.4h0M58.2 462.1h0M68.0 470.2h0M42.4 465.6h0M71.1 471.0h0M71.5 471.8h0M72.5 475.5h0M78.7 487.0h0M101.1 476.8h0M73.6 468.3h0M72.8 470.3h0M106.2 478.5h0M68.5 468.3h0M106.1 464.8h0M88.4 482.9h0M43.3 479.1h0" stroke="#cc2115" stroke-width="1.7" stroke-linecap="square" fill="none" />
<path d="M52.8 450.0h0M59.1 449.8h0M56.9 446.2h0M50.6 454.3h0M52.6 455.4h0M64.2 459.6h0M47.9 458.7h0M59.2 461.6h0M59.6 444.6h0M29.8 455.8h0M55.5 448.0h0M57.6 444.5h0M58.0 441.9h0M43.7 455.4h0M44.5 453.7h0M56.3 449.3h0M41.2 460.1h0M55.5 447.1h0M30.9 457.6h0M44.8 460.3h0M51.0 461.2h0M53.7 442.5h0M58.1 438.4h0M57.6 462.9h0M43.7 450.2h0M56.3 437.7h0M65.8 455.8h0M60.1 463.0h0M56.0 453.8h0M35.2 456.6h0M44.2 457.0h0M63.8 463.7h0M61.3 441.2h0M59.4 448.0h0M57.8 460.6h0M49.9 452.9h0M65.3 443.1h0M42.3 447.7h0M60.7 441.7h0M53.5 442.9h0M61.1 457.4h0M51.4 455.0h0M45.9 454.9h0M56.5 441.4h0M52.8 457.4h0M41.0 479.2h0" stroke="#ba0906" stroke-width="1.7" stroke-linecap="square" fill="none" />
<path d="M55.0 448.8h0M58.8 448.4h0M50.6 442.0h0M52.7 456.6h0M51.0 460.2h0M50.7 460.7h0M59.8 464.9h0M55.7 445.9h0M56.5 441.8h0M51.1 449.6h0" stroke="#9f0000" stroke-width="1.7" stroke-linecap="square" fill="none" />
<rect x="114.20" y="430.90" width="2.80" height="67.00" fill="url(#orrd)" stroke="#777" stroke-width="0.4" />
<line x1="117.00" y1="497.90" x2="118.50" y2="497.90" stroke="#444" stroke-width="0.6" />
<text x="119.20" y="500.50" font-size="7.2" stroke="#222" stroke-width="0.22" >0</text>
<line x1="117.00" y1="487.43" x2="118.50" y2="487.43" stroke="#444" stroke-width="0.6" />
<text x="119.20" y="490.03" font-size="7.2" stroke="#222" stroke-width="0.22" >1</text>
<line x1="117.00" y1="476.96" x2="118.50" y2="476.96" stroke="#444" stroke-width="0.6" />
<text x="119.20" y="479.56" font-size="7.2" stroke="#222" stroke-width="0.22" >2</text>
<line x1="117.00" y1="466.49" x2="118.50" y2="466.49" stroke="#444" stroke-width="0.6" />
<text x="119.20" y="469.09" font-size="7.2" stroke="#222" stroke-width="0.22" >3</text>
<line x1="117.00" y1="456.02" x2="118.50" y2="456.02" stroke="#444" stroke-width="0.6" />
<text x="119.20" y="458.62" font-size="7.2" stroke="#222" stroke-width="0.22" >4</text>
<line x1="117.00" y1="445.56" x2="118.50" y2="445.56" stroke="#444" stroke-width="0.6" />
<text x="119.20" y="448.16" font-size="7.2" stroke="#222" stroke-width="0.22" >5</text>
<line x1="117.00" y1="435.09" x2="118.50" y2="435.09" stroke="#444" stroke-width="0.6" />
<text x="119.20" y="437.69" font-size="7.2" stroke="#222" stroke-width="0.22" >6</text>
<text x="189.50" y="427.90" font-size="9.8" text-anchor="middle" fill="#1a1a1a" stroke="#1a1a1a" stroke-width="0.22" font-style="italic" >Il23a</text>
<path d="M183.00,433.30 L186.50,434.70 L189.20,438.20 L189.90,443.70 L191.30,447.90 L194.10,450.60 L197.60,453.40 L203.10,455.50 L210.00,454.10 L217.00,453.10 L223.90,454.80 L229.50,459.70 L232.90,465.20 L234.30,471.40 L232.90,478.40 L229.50,483.90 L223.90,489.50 L217.00,492.20 L210.00,493.60 L204.50,492.20 L200.30,488.10 L196.20,483.90 L191.30,480.90 L185.10,478.90 L178.10,477.30 L171.90,475.60 L170.10,477.30 L168.40,480.90 L165.00,481.80 L164.00,478.40 L165.90,474.50 L167.00,471.40 L165.00,468.40 L161.20,464.20 L157.30,460.60 L150.00,456.70 L158.70,452.70 L164.30,447.90 L169.80,443.00 L175.40,439.50 L179.50,435.40 Z" fill="#fef7f1" stroke="#fef7f1" stroke-width="1.2" stroke-linejoin="round"/>
<path d="M179.2 442.2h0M181.6 458.2h0M208.6 464.3h0M188.1 459.0h0M159.8 460.3h0M165.7 475.9h0M214.6 460.9h0M200.8 467.1h0M230.5 475.8h0M179.6 450.4h0M199.8 467.4h0M211.1 479.0h0" stroke="#f88154" stroke-width="1.7" stroke-linecap="square" fill="none" />
<path d="M200.7 463.4h0M177.3 465.2h0M184.3 456.6h0M172.7 466.0h0M179.8 454.6h0M172.4 445.5h0M208.3 473.1h0M189.3 441.8h0M211.7 468.4h0M160.3 458.5h0M181.5 462.0h0M192.7 463.5h0M181.3 477.2h0M227.3 473.8h0M189.9 446.9h0M207.8 463.4h0M160.4 462.0h0M187.5 469.6h0M229.9 473.2h0M174.7 443.6h0M197.5 463.2h0M172.5 453.7h0M227.3 465.4h0M219.1 456.3h0M222.8 458.7h0M204.8 477.9h0M205.5 480.4h0M219.3 481.6h0M225.6 480.1h0M226.0 478.2h0M209.7 484.2h0" stroke="#f3734e" stroke-width="1.7" stroke-linecap="square" fill="none" />
<path d="M171.6 455.7h0M194.9 456.0h0M187.8 469.1h0M182.1 438.5h0M233.2 468.4h0M180.7 438.6h0M232.5 471.2h0M182.2 445.3h0M182.2 439.3h0M210.3 473.8h0M205.0 471.5h0M175.8 464.7h0M214.7 476.2h0M180.9 442.5h0M197.7 477.0h0M163.3 455.0h0M211.1 455.1h0M160.9 452.9h0M197.2 459.0h0M217.8 460.0h0M186.8 450.8h0M186.7 465.0h0M220.2 480.7h0M228.0 478.4h0M218.4 477.4h0" stroke="#ef6548" stroke-width="1.7" stroke-linecap="square" fill="none" />
<path d="M182.9 440.2h0M183.1 436.9h0M174.2 452.4h0M172.5 468.2h0M170.5 463.9h0M206.3 455.8h0M174.6 473.0h0M185.5 464.0h0M206.4 458.9h0M176.0 469.3h0M187.1 439.1h0M183.2 465.1h0M217.6 470.3h0M226.0 463.5h0M210.5 467.2h0M165.3 459.9h0M196.0 459.4h0M197.6 457.6h0M190.9 467.7h0M171.9 468.1h0M179.0 452.3h0M165.1 457.1h0M178.4 436.9h0M159.7 454.9h0M210.9 469.1h0M166.6 460.0h0M193.4 474.5h0M217.6 460.6h0M157.5 459.1h0M178.6 461.3h0M186.6 434.9h0M208.8 468.2h0M157.7 456.8h0M211.0 455.1h0M175.9 447.9h0M188.9 444.8h0M160.5 459.0h0M186.8 470.5h0M173.3 455.0h0M169.6 464.5h0M223.3 480.5h0M217.9 478.6h0M214.0 478.7h0M213.3 477.9h0M196.6 481.0h0" stroke="#e54e36" stroke-width="1.7" stroke-linecap="square" fill="none" />
<path d="M171.2 448.2h0M181.0 436.4h0M181.0 442.9h0M183.4 445.1h0M178.7 447.6h0M176.6 451.9h0M177.6 449.7h0M216.7 457.3h0M221.6 455.7h0M184.5 460.2h0M213.6 457.3h0M167.6 473.6h0M182.6 449.2h0M175.9 450.1h0M180.7 473.4h0M180.1 442.0h0M162.4 463.2h0M214.2 468.9h0M180.3 456.9h0M167.3 465.9h0M212.9 472.6h0M223.8 457.4h0M225.6 468.8h0M191.6 455.6h0M177.2 463.6h0M201.1 476.3h0M212.4 461.6h0M175.7 443.7h0M195.7 468.8h0M188.5 467.0h0M166.1 468.0h0M222.3 478.8h0M221.3 478.3h0M216.1 477.6h0M203.9 482.0h0M222.5 479.6h0" stroke="#da3825" stroke-width="1.7" stroke-linecap="square" fill="none" />
<path d="M170.1 451.8h0M184.9 441.5h0M179.2 445.0h0M179.2 447.1h0M172.2 450.6h0" stroke="#cc2115" stroke-width="1.7" stroke-linecap="square" fill="none" />
<path d="M178.7 440.5h0M184.5 440.5h0M183.5 450.0h0M184.2 448.9h0M184.4 448.1h0M175.6 446.5h0M178.9 441.9h0M184.5 444.8h0M179.9 445.4h0M182.3 444.1h0" stroke="#ba0906" stroke-width="1.7" stroke-linecap="square" fill="none" />
<path d="M179.2 448.1h0M182.8 440.0h0M181.6 439.2h0M177.4 438.5h0M180.2 451.5h0" stroke="#9f0000" stroke-width="1.7" stroke-linecap="square" fill="none" />
<path d="M183.2 439.8h0" stroke="#7f0000" stroke-width="1.7" stroke-linecap="square" fill="none" />
<rect x="237.50" y="430.90" width="2.80" height="67.00" fill="url(#orrd)" stroke="#777" stroke-width="0.4" />
<line x1="240.30" y1="497.90" x2="241.80" y2="497.90" stroke="#444" stroke-width="0.6" />
<text x="242.50" y="500.50" font-size="7.2" stroke="#222" stroke-width="0.22" >0</text>
<line x1="240.30" y1="488.46" x2="241.80" y2="488.46" stroke="#444" stroke-width="0.6" />
<text x="242.50" y="491.06" font-size="7.2" stroke="#222" stroke-width="0.22" >1</text>
<line x1="240.30" y1="479.03" x2="241.80" y2="479.03" stroke="#444" stroke-width="0.6" />
<text x="242.50" y="481.63" font-size="7.2" stroke="#222" stroke-width="0.22" >2</text>
<line x1="240.30" y1="469.59" x2="241.80" y2="469.59" stroke="#444" stroke-width="0.6" />
<text x="242.50" y="472.19" font-size="7.2" stroke="#222" stroke-width="0.22" >3</text>
<line x1="240.30" y1="460.15" x2="241.80" y2="460.15" stroke="#444" stroke-width="0.6" />
<text x="242.50" y="462.75" font-size="7.2" stroke="#222" stroke-width="0.22" >4</text>
<line x1="240.30" y1="450.72" x2="241.80" y2="450.72" stroke="#444" stroke-width="0.6" />
<text x="242.50" y="453.32" font-size="7.2" stroke="#222" stroke-width="0.22" >5</text>
<line x1="240.30" y1="441.28" x2="241.80" y2="441.28" stroke="#444" stroke-width="0.6" />
<text x="242.50" y="443.88" font-size="7.2" stroke="#222" stroke-width="0.22" >6</text>
<line x1="240.30" y1="431.84" x2="241.80" y2="431.84" stroke="#444" stroke-width="0.6" />
<text x="242.50" y="434.44" font-size="7.2" stroke="#222" stroke-width="0.22" >7</text>
<text x="68.50" y="509.70" font-size="9.8" text-anchor="middle" fill="#1a1a1a" stroke="#1a1a1a" stroke-width="0.22" font-style="italic" >Tgfb1</text>
<path d="M58.50,515.10 L62.00,516.50 L64.70,520.00 L65.40,525.50 L66.80,529.70 L69.60,532.40 L73.10,535.20 L78.60,537.30 L85.50,535.90 L92.50,534.90 L99.40,536.60 L105.00,541.50 L108.40,547.00 L109.80,553.20 L108.40,560.20 L105.00,565.70 L99.40,571.30 L92.50,574.00 L85.50,575.40 L80.00,574.00 L75.80,569.90 L71.70,565.70 L66.80,562.70 L60.60,560.70 L53.60,559.10 L47.40,557.40 L45.60,559.10 L43.90,562.70 L40.50,563.60 L39.50,560.20 L41.40,556.30 L42.50,553.20 L40.50,550.20 L36.70,546.00 L32.80,542.40 L25.50,538.50 L34.20,534.50 L39.80,529.70 L45.30,524.80 L50.90,521.30 L55.00,517.20 Z" fill="#fef7f1" stroke="#fef7f1" stroke-width="1.2" stroke-linejoin="round"/>
<path d="M90.9 566.4h0M75.7 562.0h0M93.0 548.1h0M70.8 541.5h0M90.2 546.4h0M40.0 532.0h0M89.7 562.4h0M87.2 559.5h0M88.2 550.9h0M33.6 536.9h0M61.2 524.4h0M67.8 550.5h0M76.1 565.2h0M47.3 543.7h0M96.9 552.5h0M49.1 526.9h0M45.8 539.1h0M88.3 546.7h0M66.9 558.2h0M45.6 532.3h0M58.6 537.6h0M56.6 536.1h0M56.5 554.7h0M98.7 559.6h0M73.5 561.6h0M90.8 557.7h0M98.8 536.9h0M46.5 537.2h0M82.7 562.9h0M104.2 565.4h0M96.9 563.1h0M66.7 539.5h0M95.8 554.9h0M97.8 563.9h0M62.2 546.8h0M35.2 541.6h0M46.1 541.0h0M43.1 551.8h0M56.1 540.7h0M50.2 523.9h0M90.6 559.0h0M86.7 568.0h0M50.6 525.5h0M99.0 551.0h0M49.0 551.0h0M59.0 544.4h0M43.9 536.7h0" stroke="#f88154" stroke-width="1.7" stroke-linecap="square" fill="none" />
<path d="M91.3 538.9h0M52.4 521.9h0M56.1 543.6h0M82.6 539.9h0M92.9 547.8h0M52.5 542.1h0M41.2 539.0h0M62.8 530.4h0M90.2 541.3h0M59.4 517.8h0M87.8 551.5h0M75.0 551.6h0M76.5 547.2h0M51.6 543.4h0M71.7 548.0h0M34.8 534.3h0M69.0 548.2h0M55.1 533.3h0M45.7 542.7h0M82.3 555.5h0M40.6 535.3h0M98.3 561.2h0M92.0 553.3h0M45.2 554.1h0M95.9 559.5h0M53.9 540.7h0M48.2 534.7h0M51.7 532.9h0M60.4 540.3h0M98.7 545.7h0M44.6 530.3h0M49.1 530.6h0M90.3 557.0h0M75.9 564.6h0M65.4 560.7h0M92.1 547.1h0M75.9 551.6h0M87.8 549.2h0M76.3 553.9h0M52.0 553.6h0M89.2 563.9h0M44.1 542.5h0M54.7 529.4h0M43.0 548.0h0M58.3 522.2h0M43.9 555.7h0M101.8 558.6h0M55.9 522.8h0M100.1 547.6h0M66.9 541.0h0M47.3 536.0h0M74.8 565.1h0M63.4 531.4h0M58.9 533.7h0M57.7 532.0h0M70.8 552.6h0M59.3 522.1h0M86.5 570.1h0M58.5 524.6h0M92.1 550.1h0M88.3 545.8h0M93.6 548.7h0M94.1 551.9h0M64.2 534.8h0M47.6 542.2h0M50.2 532.0h0M50.3 556.4h0M74.4 551.2h0M100.3 548.3h0M86.5 536.6h0M59.5 534.5h0M85.8 556.5h0M91.4 555.3h0M100.0 555.0h0M54.8 530.5h0M91.4 559.1h0M86.1 560.6h0M74.0 560.2h0M81.9 551.2h0M60.9 519.1h0M48.8 540.4h0M88.7 562.5h0M59.3 551.1h0M99.9 561.7h0M57.0 543.9h0M99.7 559.9h0M51.7 531.0h0M104.8 553.1h0M79.6 544.8h0M54.9 529.1h0M38.2 540.4h0M92.8 560.6h0M53.0 522.4h0M101.6 568.6h0M91.7 544.5h0M85.7 551.9h0M104.9 560.7h0M49.5 556.4h0M56.3 547.8h0M50.1 535.8h0M56.7 544.5h0M33.1 537.1h0M55.5 547.3h0M88.8 541.3h0M84.7 568.4h0M96.0 549.5h0" stroke="#f3734e" stroke-width="1.7" stroke-linecap="square" fill="none" />
<path d="M72.7 535.5h0M83.5 561.3h0M39.4 536.5h0M91.3 550.8h0M90.1 566.4h0M46.8 537.3h0M60.2 538.9h0M57.6 527.4h0M91.6 566.5h0M72.0 560.5h0M58.2 538.1h0M78.2 554.6h0M40.5 536.0h0M85.7 546.5h0M48.8 537.6h0M106.0 555.0h0M53.9 545.8h0M84.7 562.9h0M51.8 552.3h0M80.7 556.0h0M94.4 548.4h0M73.3 539.3h0M88.7 550.9h0M86.8 560.6h0M71.6 556.4h0M88.3 547.0h0M97.8 555.5h0M44.1 533.0h0M86.0 572.4h0M38.0 541.6h0M102.3 540.4h0M98.6 542.8h0M63.2 519.8h0M98.2 553.3h0M98.6 547.6h0M103.5 561.4h0M60.2 519.3h0M47.5 552.1h0M84.2 545.3h0M53.6 529.4h0M92.8 553.2h0M47.6 550.9h0M47.5 537.6h0M51.7 542.0h0M55.3 523.6h0M82.2 556.3h0M38.3 534.1h0M78.9 558.6h0M55.0 538.2h0M44.8 549.6h0M94.3 551.1h0M49.2 523.9h0M95.9 553.1h0M92.4 554.1h0M51.5 540.9h0M56.9 534.4h0M84.1 543.3h0M66.1 557.1h0M45.2 530.3h0M93.1 540.5h0M59.9 523.2h0M85.0 553.6h0M82.8 557.9h0M81.0 555.2h0M75.6 544.3h0M57.1 545.7h0M60.6 521.9h0M60.4 524.8h0M80.3 548.5h0M60.7 543.0h0M93.8 552.7h0M74.1 545.5h0M101.4 553.0h0M53.5 547.6h0M57.5 520.6h0M70.5 548.5h0M71.6 562.5h0M63.4 542.8h0M80.8 546.3h0M99.9 554.8h0M57.9 525.2h0M63.1 521.4h0M73.3 544.2h0M49.2 531.7h0M57.3 552.1h0M59.0 540.1h0M64.3 550.5h0M104.1 552.8h0M96.6 549.2h0M91.1 552.8h0M60.7 519.4h0M69.1 550.5h0M81.7 557.0h0M81.4 544.9h0M71.7 545.9h0M63.8 526.2h0M91.5 547.6h0M95.6 547.8h0M46.7 538.8h0M97.7 567.9h0M90.0 547.8h0M43.8 537.3h0M99.0 553.0h0M71.3 536.9h0M68.0 550.0h0M75.4 561.0h0M37.7 545.8h0M57.5 531.6h0" stroke="#ef6548" stroke-width="1.7" stroke-linecap="square" fill="none" />
<path d="M70.3 551.1h0M56.8 527.0h0M50.9 523.1h0M43.2 540.8h0M63.9 528.1h0M71.2 543.5h0M46.9 546.0h0M96.3 539.0h0M52.6 541.7h0M97.2 557.6h0M90.3 554.1h0M54.5 537.4h0M89.0 563.9h0M107.9 549.8h0M44.9 536.6h0M89.5 562.0h0M47.5 536.5h0M55.8 549.7h0M70.3 545.2h0M50.4 547.4h0M54.9 552.3h0M90.8 571.6h0M52.3 547.3h0M53.6 525.7h0M40.8 542.3h0M82.2 542.7h0M39.3 548.4h0M99.3 565.3h0M57.7 530.2h0M63.6 527.5h0M38.6 540.6h0M94.2 542.3h0M103.2 557.8h0M75.8 564.2h0M96.7 567.9h0M69.5 545.4h0M39.2 540.1h0M44.6 528.1h0M42.2 532.0h0M55.3 550.4h0M41.4 531.5h0M51.8 530.4h0M97.6 561.9h0M98.8 571.5h0M87.2 557.5h0M56.5 540.5h0M58.3 524.9h0M92.3 563.2h0M84.5 551.0h0M46.1 547.9h0M75.4 543.7h0M71.1 557.1h0M73.1 548.2h0M95.2 562.5h0M79.8 553.1h0M65.0 524.0h0M90.8 561.3h0M45.9 536.2h0M44.0 543.3h0M40.2 532.6h0M72.2 541.7h0M85.1 545.5h0M91.7 549.6h0M58.8 545.4h0M95.3 536.8h0M98.7 567.4h0M60.1 521.4h0M90.6 562.8h0M53.6 549.9h0M93.1 545.5h0M55.0 553.5h0M85.2 553.7h0M96.5 558.2h0M58.3 548.8h0M87.0 556.1h0M54.6 523.7h0M60.9 538.6h0M43.9 537.1h0M97.8 564.8h0M72.4 554.5h0M106.4 551.4h0M89.8 559.2h0M80.3 550.1h0M85.6 556.3h0M72.1 561.4h0M67.6 546.8h0M70.3 552.5h0M75.2 549.3h0M81.0 555.6h0M86.5 542.5h0M73.3 558.0h0M94.5 561.7h0M46.9 532.1h0M95.4 547.2h0M79.4 560.1h0M93.9 550.5h0M102.9 554.6h0M81.9 553.3h0M42.2 545.0h0M58.0 518.9h0M52.2 525.7h0M62.7 549.7h0M91.7 559.0h0M88.0 541.9h0M55.7 523.4h0M42.6 562.7h0M46.0 561.1h0" stroke="#e54e36" stroke-width="1.7" stroke-linecap="square" fill="none" />
<path d="M98.5 560.7h0M57.7 524.8h0M93.0 553.8h0M53.7 534.6h0M53.4 527.4h0M57.2 539.3h0M43.4 535.0h0M46.0 530.1h0M46.7 555.4h0M101.4 550.6h0M91.4 554.9h0M101.6 565.7h0M83.4 563.9h0M65.6 552.7h0M57.6 554.9h0M67.3 545.8h0M61.1 547.8h0M58.7 516.4h0M95.8 556.6h0M38.2 534.4h0M48.0 538.8h0M70.0 545.7h0M61.9 547.3h0M93.4 567.8h0M76.5 556.7h0M94.8 555.5h0M67.6 553.0h0M80.5 553.1h0M56.1 516.7h0M99.9 548.3h0M32.5 538.3h0M90.7 538.4h0M95.2 567.0h0M50.2 547.6h0M44.7 548.1h0M98.3 551.5h0M44.6 546.9h0M81.7 547.8h0M54.5 551.5h0M37.1 544.2h0M76.4 555.5h0M61.5 547.7h0M71.4 546.3h0M31.5 539.8h0M55.8 550.5h0M67.3 547.7h0M91.4 556.7h0M68.6 557.5h0M38.9 540.7h0M49.7 538.4h0M91.0 537.4h0M50.4 522.4h0M89.3 549.2h0M47.5 546.0h0M45.4 546.1h0M84.0 551.2h0M89.6 541.3h0M97.2 554.7h0M60.4 549.0h0M60.1 534.0h0M65.7 545.9h0M92.2 566.7h0M59.3 548.0h0M89.5 558.0h0M84.6 564.3h0M90.0 558.8h0M46.5 532.1h0M91.8 555.5h0M60.6 532.4h0M55.1 550.4h0M48.7 523.5h0M98.4 564.4h0M57.2 545.6h0M58.7 529.0h0M39.8 539.8h0M106.8 548.0h0M89.4 562.1h0M91.1 549.8h0M47.3 550.0h0M55.6 526.6h0M63.1 549.8h0M72.9 549.3h0M45.0 534.9h0M86.9 552.7h0M69.6 538.4h0M52.9 524.3h0M75.8 551.3h0M95.4 547.8h0M94.8 555.2h0M81.8 550.8h0M102.8 549.9h0M95.7 542.9h0M54.3 519.6h0M63.7 556.5h0M70.2 534.3h0M80.9 558.3h0M93.3 567.2h0M56.4 531.5h0M87.4 559.0h0M78.2 547.2h0M102.1 549.5h0M39.2 536.6h0M80.3 548.2h0M58.5 527.5h0M92.7 565.9h0M42.1 554.6h0M87.3 557.4h0" stroke="#da3825" stroke-width="1.7" stroke-linecap="square" fill="none" />
<path d="M78.1 542.4h0M83.8 560.4h0M90.7 564.0h0M52.9 527.6h0M75.7 547.8h0M73.5 547.4h0M59.3 526.2h0M95.1 554.0h0M53.9 543.6h0M56.0 525.7h0M62.5 526.4h0M50.4 542.3h0M75.4 541.4h0M49.1 550.3h0M87.4 550.2h0M99.5 543.2h0M101.5 559.0h0M47.8 536.6h0M90.6 570.2h0M89.9 564.7h0M55.0 528.1h0M43.5 545.6h0M49.1 535.4h0M55.9 543.8h0M83.7 545.3h0M76.5 549.3h0M72.1 550.4h0M79.9 548.4h0M97.6 548.8h0M39.5 539.5h0M85.2 548.8h0M68.2 536.6h0M74.6 549.9h0M59.7 517.8h0M92.0 552.9h0M93.7 546.9h0M91.8 544.4h0M64.2 546.2h0M56.5 544.7h0M98.0 553.2h0M79.5 561.0h0M64.5 547.9h0M83.8 550.7h0M81.1 544.8h0M91.9 563.5h0M47.5 544.1h0M98.3 552.8h0M90.1 559.6h0M45.4 532.8h0M100.7 560.5h0M41.7 536.7h0M46.6 550.7h0M44.7 553.6h0M101.6 555.7h0M57.5 541.9h0M87.3 553.8h0M42.2 546.7h0M55.6 519.2h0M39.7 536.8h0M70.1 557.9h0M75.8 567.1h0M89.9 567.6h0M42.0 544.7h0M55.1 543.8h0M39.8 542.4h0M86.8 553.5h0M85.9 549.9h0M87.5 560.6h0M61.2 522.5h0M64.7 525.6h0M84.9 557.3h0M60.3 530.5h0M52.6 551.8h0M49.2 533.9h0M82.8 558.6h0M79.9 541.8h0M68.2 547.0h0M98.7 549.1h0M45.2 539.7h0M91.6 555.2h0M49.1 544.7h0M46.7 535.7h0M76.2 552.3h0M40.7 534.8h0M78.4 556.5h0M37.2 544.0h0M72.1 559.3h0M90.8 552.9h0M73.8 552.4h0M57.9 534.7h0M61.9 527.6h0M51.8 539.1h0M70.8 552.4h0" stroke="#cc2115" stroke-width="1.7" stroke-linecap="square" fill="none" />
<path d="M98.2 561.7h0M91.7 555.5h0M92.8 558.4h0M88.8 555.7h0M88.4 559.2h0M101.2 556.6h0M53.5 526.1h0M42.2 546.5h0M53.9 522.8h0M51.3 536.1h0M35.8 540.7h0M51.5 540.0h0M56.5 528.3h0M59.8 558.4h0M55.7 532.7h0M82.5 546.7h0M57.9 549.5h0M56.4 551.9h0M62.4 529.2h0M106.1 546.1h0M47.8 554.5h0M99.4 559.9h0M107.4 553.6h0M42.0 534.5h0M79.3 557.0h0M54.3 529.6h0M46.3 536.2h0M51.7 525.0h0M91.6 559.8h0M44.5 536.9h0M44.0 538.3h0M67.2 558.2h0M55.0 526.6h0M101.7 542.5h0M40.8 533.2h0M83.2 568.2h0M65.5 543.9h0M93.6 545.4h0M92.3 556.3h0M54.5 534.4h0M99.4 554.3h0M92.8 562.3h0M36.1 541.9h0M53.8 531.6h0M74.7 556.7h0M89.5 561.0h0M89.2 559.7h0M67.9 533.5h0M45.5 543.5h0M101.3 545.7h0M51.3 527.3h0M89.3 552.1h0M87.8 560.0h0M90.2 549.9h0M44.3 559.3h0M42.6 558.8h0M43.0 560.5h0" stroke="#ba0906" stroke-width="1.7" stroke-linecap="square" fill="none" />
<path d="M42.5 559.5h0" stroke="#9f0000" stroke-width="1.7" stroke-linecap="square" fill="none" />
<rect x="114.20" y="512.70" width="2.80" height="67.00" fill="url(#orrd)" stroke="#777" stroke-width="0.4" />
<line x1="117.00" y1="579.70" x2="118.50" y2="579.70" stroke="#444" stroke-width="0.6" />
<text x="119.20" y="582.30" font-size="7.2" stroke="#222" stroke-width="0.22" >0</text>
<line x1="117.00" y1="568.34" x2="118.50" y2="568.34" stroke="#444" stroke-width="0.6" />
<text x="119.20" y="570.94" font-size="7.2" stroke="#222" stroke-width="0.22" >1</text>
<line x1="117.00" y1="556.99" x2="118.50" y2="556.99" stroke="#444" stroke-width="0.6" />
<text x="119.20" y="559.59" font-size="7.2" stroke="#222" stroke-width="0.22" >2</text>
<line x1="117.00" y1="545.63" x2="118.50" y2="545.63" stroke="#444" stroke-width="0.6" />
<text x="119.20" y="548.23" font-size="7.2" stroke="#222" stroke-width="0.22" >3</text>
<line x1="117.00" y1="534.28" x2="118.50" y2="534.28" stroke="#444" stroke-width="0.6" />
<text x="119.20" y="536.88" font-size="7.2" stroke="#222" stroke-width="0.22" >4</text>
<line x1="117.00" y1="522.92" x2="118.50" y2="522.92" stroke="#444" stroke-width="0.6" />
<text x="119.20" y="525.52" font-size="7.2" stroke="#222" stroke-width="0.22" >5</text>
<text x="189.50" y="509.70" font-size="9.8" text-anchor="middle" fill="#1a1a1a" stroke="#1a1a1a" stroke-width="0.22" font-style="italic" >Tnf</text>
<path d="M183.00,515.10 L186.50,516.50 L189.20,520.00 L189.90,525.50 L191.30,529.70 L194.10,532.40 L197.60,535.20 L203.10,537.30 L210.00,535.90 L217.00,534.90 L223.90,536.60 L229.50,541.50 L232.90,547.00 L234.30,553.20 L232.90,560.20 L229.50,565.70 L223.90,571.30 L217.00,574.00 L210.00,575.40 L204.50,574.00 L200.30,569.90 L196.20,565.70 L191.30,562.70 L185.10,560.70 L178.10,559.10 L171.90,557.40 L170.10,559.10 L168.40,562.70 L165.00,563.60 L164.00,560.20 L165.90,556.30 L167.00,553.20 L165.00,550.20 L161.20,546.00 L157.30,542.40 L150.00,538.50 L158.70,534.50 L164.30,529.70 L169.80,524.80 L175.40,521.30 L179.50,517.20 Z" fill="#fef7f1" stroke="#fef7f1" stroke-width="1.2" stroke-linejoin="round"/>
<path d="M204.5 552.2h0M228.4 556.9h0M198.9 557.9h0M218.4 547.6h0M221.8 558.2h0M218.3 567.4h0M203.7 544.9h0M218.1 550.1h0M221.7 546.2h0M204.7 563.2h0M218.1 549.5h0M207.3 566.6h0M218.5 556.7h0M215.3 547.2h0M211.0 549.4h0M211.0 557.8h0M220.5 559.7h0" stroke="#fca06b" stroke-width="1.7" stroke-linecap="square" fill="none" />
<path d="M181.3 554.0h0M172.1 555.2h0M178.0 553.6h0M190.2 548.1h0M222.8 555.0h0M217.3 563.5h0M220.0 556.4h0M212.6 543.4h0M210.0 560.8h0M223.5 542.8h0M213.5 557.2h0M204.1 541.9h0M193.5 537.5h0M215.0 560.9h0M213.6 546.7h0M215.4 542.8h0M206.2 560.4h0M208.8 546.6h0M212.8 550.9h0M196.3 537.8h0M217.1 569.1h0M230.1 545.0h0M215.3 545.4h0M228.2 553.5h0M208.7 570.1h0M218.8 556.0h0M211.1 569.9h0M208.7 544.1h0M214.1 550.4h0M204.1 549.6h0M209.7 572.4h0M215.3 542.1h0M212.6 557.1h0M198.7 559.1h0M227.4 557.8h0M194.1 553.3h0M207.6 539.8h0M216.6 569.4h0M219.4 547.2h0M194.4 539.3h0M221.0 554.7h0M215.0 549.7h0M209.5 549.4h0M198.4 543.5h0M227.7 564.4h0M217.2 564.2h0M223.0 561.2h0M225.9 561.5h0M198.9 562.7h0" stroke="#fc905c" stroke-width="1.7" stroke-linecap="square" fill="none" />
<path d="M194.6 557.9h0M187.6 546.6h0M186.5 559.4h0M184.3 557.5h0M182.9 547.5h0M182.1 551.2h0M193.5 549.8h0M175.6 550.4h0M187.0 549.7h0M185.2 556.2h0M192.3 553.5h0M187.4 558.3h0M185.7 551.2h0M186.8 549.9h0M186.5 558.0h0M178.3 546.1h0M185.4 553.7h0M194.1 553.9h0M213.9 572.7h0M203.7 561.3h0M206.0 551.2h0M222.0 554.8h0M224.0 543.6h0M208.4 557.9h0M217.8 565.5h0M224.4 539.8h0M211.4 547.2h0M214.5 550.0h0M204.9 573.6h0M215.4 550.9h0M214.4 566.0h0M208.5 568.8h0M215.9 539.1h0M222.3 560.9h0M205.9 551.4h0M221.3 566.0h0M195.8 548.7h0M194.2 563.1h0M214.8 558.9h0M218.9 571.8h0M221.6 546.0h0M216.6 550.8h0M225.5 552.1h0M223.6 539.3h0M205.7 541.7h0M213.1 550.3h0M218.1 554.1h0M214.5 552.5h0M219.5 556.9h0M226.2 567.6h0M225.8 554.7h0M216.9 542.0h0M224.5 556.1h0M211.9 547.5h0M216.7 564.1h0M209.6 538.9h0M203.4 537.7h0" stroke="#f88154" stroke-width="1.7" stroke-linecap="square" fill="none" />
<path d="M166.8 547.1h0M187.4 548.1h0M174.4 555.9h0M172.7 549.9h0M169.5 547.6h0M194.1 547.5h0M183.4 551.0h0M186.0 551.8h0M189.3 546.2h0M180.0 547.2h0M170.7 554.3h0M188.8 556.5h0M170.9 554.5h0M175.5 549.8h0M178.4 549.5h0M171.6 556.0h0M175.6 547.6h0M220.9 549.2h0M199.5 540.5h0M216.7 552.7h0M215.7 564.6h0M204.8 548.0h0M197.3 559.8h0M213.1 563.6h0M203.8 552.0h0M194.1 543.1h0M197.5 547.3h0M211.5 554.2h0M204.6 549.3h0M224.4 550.7h0M212.3 546.7h0M201.5 543.9h0M207.8 553.8h0M224.0 566.2h0M229.6 563.5h0M229.2 554.8h0M215.6 555.2h0M219.3 561.9h0M214.5 561.4h0M223.0 543.2h0M225.2 560.9h0M220.3 555.2h0M209.3 549.7h0M218.3 565.6h0M213.9 565.9h0M211.3 560.0h0M211.4 562.4h0M218.4 551.7h0M218.9 555.5h0M220.9 548.5h0M209.3 564.2h0M211.0 565.1h0M212.6 563.6h0M202.2 555.9h0M210.1 546.4h0M200.7 554.0h0M225.6 548.4h0M194.1 538.4h0M193.6 550.8h0M209.6 555.9h0M225.2 552.6h0M203.9 559.3h0" stroke="#f3734e" stroke-width="1.7" stroke-linecap="square" fill="none" />
<path d="M169.6 556.3h0M192.3 559.9h0M171.5 549.9h0M177.8 550.6h0M173.7 546.4h0M178.8 552.4h0M180.5 557.0h0M185.8 556.2h0M225.7 558.4h0M201.8 559.2h0M206.8 541.3h0M228.3 559.4h0M226.4 552.1h0M196.5 554.2h0M217.1 567.6h0M220.3 543.7h0M209.6 559.9h0M195.3 554.1h0M213.7 544.7h0M219.6 536.5h0M212.7 561.7h0M208.2 553.9h0M204.3 567.0h0M226.8 544.2h0M203.8 550.5h0M221.7 550.3h0M218.7 547.2h0M208.9 555.9h0M215.3 551.1h0M222.8 564.4h0M219.3 554.9h0M208.4 568.6h0M208.4 558.9h0M194.3 554.7h0M211.6 546.0h0M197.9 556.4h0M209.8 552.8h0M219.1 560.0h0M220.0 549.0h0" stroke="#ef6548" stroke-width="1.7" stroke-linecap="square" fill="none" />
<path d="M182.6 524.2h0M181.4 543.6h0M175.9 544.9h0M172.5 539.1h0M171.1 545.2h0M173.4 545.6h0M174.3 545.6h0M182.9 535.5h0M181.5 546.0h0M159.5 543.0h0M183.5 541.2h0M184.3 517.9h0M181.6 530.3h0M187.6 527.9h0M178.6 526.5h0M176.6 536.8h0M163.2 545.5h0M181.2 525.6h0M181.7 538.8h0M174.3 532.7h0M180.5 522.8h0M182.5 541.3h0M178.8 522.5h0M164.4 533.9h0M192.3 546.8h0M192.9 547.5h0M168.3 550.5h0M188.4 550.9h0M171.5 551.8h0M169.5 546.7h0M165.3 546.5h0M189.4 548.0h0M192.4 548.7h0M172.7 553.3h0M190.9 547.1h0M178.0 553.4h0M182.8 549.8h0M192.9 553.0h0M193.4 549.4h0M172.6 547.5h0M172.1 555.9h0M181.9 559.9h0M178.4 549.1h0M215.3 542.7h0M218.2 559.3h0M222.1 549.1h0M212.2 562.1h0M220.2 543.7h0M204.7 556.1h0M221.6 561.7h0M217.8 553.0h0M199.3 565.2h0M214.1 572.6h0M206.5 553.8h0M200.2 563.2h0M226.0 553.1h0M165.4 559.2h0M166.0 562.0h0" stroke="#e54e36" stroke-width="1.7" stroke-linecap="square" fill="none" />
<path d="M169.0 532.5h0M174.4 527.7h0M170.6 538.8h0M170.7 535.9h0M179.8 524.9h0M180.3 535.8h0M182.1 525.2h0M175.7 537.3h0M185.4 543.4h0M190.8 534.7h0M163.5 534.9h0M166.5 536.1h0M181.3 525.5h0M170.6 539.0h0M168.0 544.8h0M183.3 528.3h0M179.1 526.8h0M174.0 531.5h0M154.0 538.2h0M184.9 533.7h0M191.0 543.6h0M165.7 541.4h0M176.0 525.4h0M175.4 545.4h0M183.7 516.3h0M185.8 537.2h0M180.5 530.8h0M167.1 537.3h0M189.1 522.4h0M189.2 545.4h0M186.2 526.7h0M159.7 537.1h0M180.1 529.4h0M187.2 539.4h0M175.2 534.2h0M180.4 542.0h0M165.1 532.1h0M179.2 525.0h0M182.9 544.5h0M182.3 528.0h0M186.1 532.2h0M168.0 538.6h0M163.8 541.8h0M184.7 532.3h0M181.3 520.2h0M170.1 535.3h0M174.6 543.5h0M165.4 549.5h0M188.1 550.5h0M174.2 546.6h0M178.5 547.6h0M178.3 547.4h0M176.6 548.6h0M178.7 555.0h0M172.2 552.7h0M188.4 550.8h0M179.3 552.9h0M177.4 554.8h0M170.5 554.1h0M168.7 547.6h0M194.0 552.4h0" stroke="#da3825" stroke-width="1.7" stroke-linecap="square" fill="none" />
<path d="M166.4 530.6h0M174.7 543.4h0M176.2 531.2h0M171.0 531.6h0M178.7 532.6h0M166.7 545.1h0M190.2 540.4h0M177.9 529.2h0M167.9 535.6h0M157.6 541.5h0M172.0 538.9h0M174.6 523.2h0M165.4 542.5h0M166.6 539.5h0M189.8 540.7h0M166.5 538.4h0M184.9 526.5h0M186.4 521.6h0M175.9 530.6h0M182.9 546.0h0M169.8 537.0h0M179.5 522.4h0M178.4 535.8h0M176.4 533.9h0M164.0 539.2h0M183.8 540.9h0M170.6 533.4h0M167.8 539.1h0M189.5 533.5h0M182.8 529.3h0M174.1 536.8h0M180.5 545.2h0M188.0 542.4h0M177.5 541.8h0M168.3 535.6h0M160.6 534.0h0M164.4 535.3h0M169.4 527.9h0M180.5 526.6h0M178.6 529.5h0M176.0 539.6h0M175.2 538.5h0M173.8 531.0h0M176.3 521.1h0M173.0 538.5h0M174.7 543.9h0M182.4 526.2h0M170.3 529.2h0M155.3 539.9h0M175.6 533.0h0M158.6 538.9h0M177.9 542.6h0M168.8 526.1h0M172.4 531.7h0M170.5 538.0h0M176.4 532.1h0M168.8 543.1h0M186.7 543.3h0M186.4 534.3h0M173.5 528.6h0M181.9 528.7h0M166.2 561.0h0" stroke="#cc2115" stroke-width="1.7" stroke-linecap="square" fill="none" />
<path d="M164.9 535.3h0M171.1 535.2h0M186.5 522.2h0M186.4 533.5h0M176.1 537.6h0M170.2 540.0h0M181.6 545.1h0M185.0 522.9h0M162.3 532.9h0M168.3 541.4h0M172.9 539.1h0M180.6 522.8h0M172.9 539.7h0M181.2 527.2h0M174.4 533.3h0M172.5 530.0h0M181.3 530.0h0M170.6 537.2h0M163.4 533.0h0M183.5 533.9h0M172.4 537.2h0M182.6 535.4h0M189.3 523.6h0M172.9 542.0h0M179.9 524.3h0M175.3 527.3h0M183.0 533.9h0M187.6 538.7h0M182.4 523.9h0M180.1 537.0h0M165.5 529.2h0M179.2 537.3h0M176.3 524.7h0M177.0 539.1h0M167.6 535.7h0M177.2 527.5h0M157.8 535.7h0M170.2 533.2h0M171.3 538.3h0M167.5 545.5h0M165.9 559.9h0" stroke="#ba0906" stroke-width="1.7" stroke-linecap="square" fill="none" />
<path d="M177.6 521.1h0M164.0 532.1h0M167.2 533.2h0M165.7 546.0h0M168.2 540.5h0M165.2 540.2h0M183.8 525.9h0M175.8 521.8h0M178.2 535.5h0M166.3 535.3h0M172.1 538.5h0M168.2 534.1h0M177.2 540.8h0M186.6 540.6h0M182.0 531.9h0M159.9 537.0h0M175.8 526.8h0M177.1 523.6h0M183.6 535.1h0M166.3 531.7h0M187.9 541.1h0M175.5 532.4h0M188.0 541.0h0M180.5 526.2h0M187.2 543.5h0M177.1 520.8h0M167.2 533.2h0M177.7 531.3h0M161.8 538.5h0M178.8 538.2h0M178.7 520.1h0M177.2 528.8h0M176.4 532.3h0M176.0 537.7h0M170.2 542.6h0M177.8 530.0h0M183.5 526.2h0M166.5 560.8h0" stroke="#9f0000" stroke-width="1.7" stroke-linecap="square" fill="none" />
<path d="M173.5 536.8h0" stroke="#7f0000" stroke-width="1.7" stroke-linecap="square" fill="none" />
<rect x="237.50" y="512.70" width="2.80" height="67.00" fill="url(#orrd)" stroke="#777" stroke-width="0.4" />
<line x1="240.30" y1="579.70" x2="241.80" y2="579.70" stroke="#444" stroke-width="0.6" />
<text x="242.50" y="582.30" font-size="7.2" stroke="#222" stroke-width="0.22" >0</text>
<line x1="240.30" y1="570.88" x2="241.80" y2="570.88" stroke="#444" stroke-width="0.6" />
<text x="242.50" y="573.48" font-size="7.2" stroke="#222" stroke-width="0.22" >1</text>
<line x1="240.30" y1="562.07" x2="241.80" y2="562.07" stroke="#444" stroke-width="0.6" />
<text x="242.50" y="564.67" font-size="7.2" stroke="#222" stroke-width="0.22" >2</text>
<line x1="240.30" y1="553.25" x2="241.80" y2="553.25" stroke="#444" stroke-width="0.6" />
<text x="242.50" y="555.85" font-size="7.2" stroke="#222" stroke-width="0.22" >3</text>
<line x1="240.30" y1="544.44" x2="241.80" y2="544.44" stroke="#444" stroke-width="0.6" />
<text x="242.50" y="547.04" font-size="7.2" stroke="#222" stroke-width="0.22" >4</text>
<line x1="240.30" y1="535.62" x2="241.80" y2="535.62" stroke="#444" stroke-width="0.6" />
<text x="242.50" y="538.22" font-size="7.2" stroke="#222" stroke-width="0.22" >5</text>
<line x1="240.30" y1="526.81" x2="241.80" y2="526.81" stroke="#444" stroke-width="0.6" />
<text x="242.50" y="529.41" font-size="7.2" stroke="#222" stroke-width="0.22" >6</text>
<line x1="240.30" y1="517.99" x2="241.80" y2="517.99" stroke="#444" stroke-width="0.6" />
<text x="242.50" y="520.59" font-size="7.2" stroke="#222" stroke-width="0.22" >7</text>
<text x="68.50" y="591.30" font-size="9.8" text-anchor="middle" fill="#1a1a1a" stroke="#1a1a1a" stroke-width="0.22" font-style="italic" >Il1b</text>
<path d="M58.50,596.70 L62.00,598.10 L64.70,601.60 L65.40,607.10 L66.80,611.30 L69.60,614.00 L73.10,616.80 L78.60,618.90 L85.50,617.50 L92.50,616.50 L99.40,618.20 L105.00,623.10 L108.40,628.60 L109.80,634.80 L108.40,641.80 L105.00,647.30 L99.40,652.90 L92.50,655.60 L85.50,657.00 L80.00,655.60 L75.80,651.50 L71.70,647.30 L66.80,644.30 L60.60,642.30 L53.60,640.70 L47.40,639.00 L45.60,640.70 L43.90,644.30 L40.50,645.20 L39.50,641.80 L41.40,637.90 L42.50,634.80 L40.50,631.80 L36.70,627.60 L32.80,624.00 L25.50,620.10 L34.20,616.10 L39.80,611.30 L45.30,606.40 L50.90,602.90 L55.00,598.80 Z" fill="#fef7f1" stroke="#fef7f1" stroke-width="1.2" stroke-linejoin="round"/>
<path d="M57.3 622.3h0M67.1 624.9h0M68.7 624.8h0M61.0 631.2h0M67.1 611.8h0" stroke="#f88154" stroke-width="1.8" stroke-linecap="square" fill="none" />
<path d="M53.3 614.5h0M66.9 639.5h0M40.7 613.7h0M66.8 626.1h0M52.3 624.7h0M37.6 622.1h0M68.7 617.3h0M49.4 613.9h0M51.6 626.7h0M52.8 639.8h0M59.1 608.1h0M67.9 643.7h0M35.9 616.1h0M50.7 631.1h0M46.5 628.8h0M60.9 626.8h0M66.0 639.9h0M56.8 606.7h0M61.4 614.5h0M50.4 603.8h0M38.1 616.9h0M49.9 618.0h0M57.4 609.4h0M57.9 621.4h0M62.6 628.4h0M59.9 622.4h0M42.7 622.7h0M54.1 640.5h0M58.1 628.0h0M65.2 615.7h0M50.7 614.9h0M50.0 633.6h0M42.0 626.6h0M48.1 637.6h0M53.6 636.6h0M41.3 644.4h0M52.2 618.7h0M58.3 641.7h0M44.8 624.7h0M50.5 627.9h0M45.3 639.0h0M33.6 622.0h0M28.6 620.3h0M59.5 633.5h0M67.5 643.1h0M51.0 616.7h0M61.0 634.1h0M65.6 625.9h0M60.5 611.9h0M62.3 615.1h0M60.9 616.5h0M63.5 603.2h0M58.1 627.7h0M50.6 637.1h0M35.3 624.0h0M52.4 613.6h0M45.7 615.0h0M64.0 630.2h0M46.9 608.7h0M50.9 609.0h0M43.6 610.4h0M58.4 618.5h0M29.2 619.9h0M56.8 616.6h0M48.6 612.9h0M59.4 611.7h0M46.9 626.6h0M57.7 613.0h0M45.0 625.5h0M63.0 617.1h0M56.7 615.5h0M62.4 624.2h0M55.1 611.0h0M44.5 630.6h0M56.4 600.2h0M54.6 601.5h0M57.3 628.5h0M55.0 632.8h0M39.3 628.5h0M48.1 617.5h0M45.2 620.3h0M54.9 609.2h0M40.5 616.4h0M57.0 619.3h0M67.6 621.5h0M60.8 618.0h0M52.6 614.6h0M61.7 603.2h0M42.6 622.6h0M70.2 637.2h0M65.4 612.8h0M68.5 625.8h0M34.2 624.8h0M44.7 621.0h0M33.5 622.2h0M66.8 631.6h0M47.5 623.5h0M54.4 630.0h0M49.8 639.0h0M41.3 629.7h0M61.8 611.1h0M51.2 616.3h0M46.9 613.2h0M36.5 615.4h0M58.6 630.2h0M62.5 599.4h0M53.4 600.9h0M56.3 614.7h0M45.5 621.6h0M63.6 622.4h0M60.8 608.3h0M61.1 631.6h0M42.4 625.7h0M42.3 613.6h0M40.5 628.6h0M67.3 644.3h0M41.7 624.3h0M61.2 606.2h0M62.2 606.5h0M50.9 605.1h0" stroke="#f3734e" stroke-width="1.8" stroke-linecap="square" fill="none" />
<path d="M50.4 639.7h0M41.0 616.9h0M42.2 632.1h0M46.8 639.4h0M65.8 617.0h0M37.8 618.2h0M34.3 624.2h0M63.5 625.7h0M47.8 620.0h0M48.6 631.2h0M52.2 614.6h0M58.4 601.3h0M61.4 639.9h0M51.9 634.2h0M46.4 607.0h0M53.2 622.1h0M65.7 630.0h0M70.0 645.4h0M34.7 622.4h0M60.9 622.6h0M66.5 621.5h0M56.8 598.9h0M47.4 621.2h0M51.9 608.1h0M42.7 626.5h0M68.0 613.8h0M43.6 617.1h0M48.2 621.7h0M64.0 625.3h0M68.5 633.9h0M70.0 626.1h0M65.8 622.8h0M40.6 628.9h0M39.8 631.0h0M48.5 618.1h0M49.5 604.5h0M56.0 599.7h0M69.0 627.5h0M42.0 612.3h0M62.4 608.2h0M65.7 609.2h0M57.6 615.4h0M44.2 625.6h0M59.4 606.5h0M53.6 618.1h0M44.6 639.1h0M51.6 617.4h0M33.7 624.6h0M44.2 614.7h0M37.4 627.3h0M47.4 635.1h0M62.9 633.7h0M66.5 611.6h0M52.6 604.0h0M46.2 638.4h0M57.3 640.9h0M43.3 627.3h0M51.9 627.5h0M48.1 636.1h0M51.9 615.4h0M48.9 624.9h0M58.7 597.0h0M57.5 633.1h0M58.8 632.3h0M58.4 612.9h0M59.6 608.3h0M56.9 635.0h0M44.4 611.5h0M32.0 620.0h0M65.5 624.1h0M51.8 628.4h0M57.4 603.6h0M45.0 638.8h0M44.5 614.9h0M61.0 621.1h0M63.7 607.9h0M42.9 643.0h0M58.2 607.3h0M59.4 597.8h0M60.9 615.1h0M57.3 625.7h0M51.8 609.7h0M68.2 628.1h0M61.3 633.3h0M66.1 621.8h0M47.8 617.7h0M48.2 616.8h0M53.9 600.4h0M52.7 637.0h0M66.0 609.2h0M50.1 636.5h0M43.8 612.3h0M46.9 619.9h0M40.2 623.1h0M55.8 614.4h0M60.8 629.8h0M68.3 639.6h0M62.4 620.1h0M41.5 622.5h0M46.2 621.7h0M33.1 623.5h0M37.4 626.6h0M68.2 641.8h0M56.7 617.1h0M56.5 626.8h0M62.9 602.7h0" stroke="#ef6548" stroke-width="1.8" stroke-linecap="square" fill="none" />
<path d="M49.2 616.3h0M44.7 634.5h0M35.7 615.7h0M57.9 605.0h0M46.9 624.6h0M46.5 629.1h0M47.0 620.0h0M66.5 639.1h0M54.4 639.9h0M42.2 639.7h0M57.9 621.6h0M42.5 627.3h0M65.5 613.4h0M57.4 626.8h0M53.8 636.2h0M65.5 624.5h0M68.0 614.1h0M58.4 602.7h0M46.6 627.3h0M50.6 624.5h0M55.5 626.5h0M48.6 610.3h0M53.4 616.1h0M46.1 633.3h0M66.3 617.2h0M52.1 620.4h0M58.1 637.7h0M62.3 640.0h0M40.2 626.7h0M57.8 629.1h0M45.4 623.6h0M56.5 611.2h0M65.6 642.8h0M63.2 612.0h0M54.3 621.2h0M43.7 638.0h0M55.6 598.6h0M61.5 608.0h0M44.2 635.4h0M48.1 622.1h0M46.6 617.4h0M42.3 624.8h0M43.2 619.3h0M51.4 621.6h0M46.8 634.1h0M68.5 622.5h0M59.9 634.0h0M68.5 639.2h0M59.8 642.0h0M67.3 619.3h0M45.4 637.2h0M48.9 618.1h0M60.3 604.2h0M52.7 620.3h0M55.9 612.8h0M36.5 620.4h0M53.6 625.0h0M44.8 634.3h0M37.4 624.5h0M53.2 623.4h0M55.8 638.8h0M62.7 611.7h0M56.4 638.5h0M49.9 631.5h0M60.2 639.0h0M55.6 602.0h0M56.9 618.2h0M56.5 624.8h0M48.5 613.7h0M68.3 642.2h0M35.2 625.9h0M56.8 630.7h0M50.4 625.0h0M61.4 609.7h0M57.9 614.7h0M48.6 636.4h0M49.5 606.3h0M59.4 620.4h0M56.4 634.3h0M27.8 619.9h0M64.2 621.9h0M43.8 636.1h0M55.2 599.9h0M46.3 606.7h0M55.9 641.1h0M69.3 620.7h0M67.0 639.8h0M51.9 613.4h0M47.9 607.6h0M64.0 618.8h0M41.0 640.9h0M46.6 620.6h0M91.6 642.5h0M97.8 650.0h0M96.1 638.3h0M86.9 641.3h0M86.4 644.5h0M74.5 622.2h0M84.3 649.0h0M88.8 630.6h0M106.3 635.4h0M89.4 630.7h0M88.0 629.6h0M84.3 630.1h0M85.3 640.2h0M76.9 627.6h0M100.4 632.3h0M91.1 645.5h0M91.4 633.7h0M89.3 631.0h0M71.1 620.8h0M73.9 640.2h0M94.9 637.6h0M88.0 645.2h0M96.6 627.6h0M76.6 633.1h0M99.0 644.3h0M100.9 637.2h0M79.5 632.8h0M100.7 623.4h0M106.7 641.1h0M95.2 626.4h0M83.5 639.0h0M89.4 638.8h0M71.3 627.4h0M83.7 633.4h0M82.9 642.4h0M74.8 632.0h0M73.4 641.4h0M93.9 628.8h0M73.5 639.7h0M86.7 641.5h0M78.6 632.9h0M80.9 626.0h0M80.0 652.8h0M80.6 632.0h0M100.2 625.9h0M91.0 636.4h0M77.5 635.5h0M89.4 634.7h0M99.3 625.8h0M86.3 639.5h0M78.0 637.7h0M82.6 629.8h0M80.4 641.3h0M70.2 634.2h0M83.6 644.0h0M91.5 631.9h0M90.1 639.6h0M96.7 634.6h0M88.5 630.9h0M78.3 646.6h0M74.0 628.7h0M79.5 632.3h0M88.4 646.3h0M81.6 633.3h0M72.5 630.9h0M83.0 639.0h0M86.6 632.6h0M79.3 630.8h0M104.9 637.9h0M90.6 644.2h0M101.1 632.8h0M90.9 633.9h0M95.0 637.5h0M105.5 640.0h0M99.5 636.6h0M79.5 634.9h0M85.4 643.3h0M80.5 643.3h0M75.8 641.5h0M88.6 620.8h0M78.0 623.7h0M100.4 621.5h0M91.2 624.5h0M99.6 619.9h0M93.3 642.0h0M85.3 618.6h0M74.4 623.0h0M72.6 634.1h0M94.1 642.8h0M108.1 632.7h0M70.0 634.5h0M73.0 645.5h0M96.8 635.6h0M84.3 630.1h0M101.0 629.3h0M88.5 642.5h0M95.9 642.5h0M106.2 626.7h0M95.5 646.0h0M85.7 629.6h0M88.8 632.3h0M100.1 642.6h0M103.2 638.9h0M91.2 650.3h0M90.7 641.0h0M94.9 623.0h0M87.5 634.0h0M95.6 638.4h0M90.3 637.7h0M73.3 628.0h0M77.0 648.6h0M91.6 643.9h0M88.4 642.0h0M86.5 620.5h0M85.7 636.4h0M92.7 641.3h0M74.9 620.3h0M95.2 617.5h0M103.1 635.3h0M102.1 622.2h0M79.4 653.9h0M105.8 632.7h0M90.4 642.2h0M88.1 636.1h0M99.8 649.1h0M79.0 645.9h0M108.6 639.4h0M93.1 636.3h0M94.8 633.3h0M83.0 647.8h0M80.9 635.9h0M95.4 638.3h0M93.1 631.5h0M87.9 640.3h0M74.5 634.6h0M80.0 637.0h0M73.7 640.4h0M104.3 626.6h0M106.2 640.2h0M84.6 631.6h0M96.4 644.1h0M90.1 631.1h0M100.2 644.5h0M101.4 633.6h0M81.2 624.2h0M106.3 629.9h0M86.5 635.7h0M91.2 649.9h0M81.6 621.9h0M75.6 650.2h0M94.5 640.4h0M77.5 626.0h0M83.6 619.1h0M92.3 644.6h0M95.0 622.6h0M93.9 639.2h0M94.0 628.8h0M85.6 645.3h0M95.7 633.2h0M85.9 625.5h0M92.4 637.3h0M78.4 623.5h0M98.5 642.8h0M90.0 634.9h0M87.7 633.2h0M98.9 647.9h0M73.1 638.4h0M69.1 630.1h0M97.2 633.5h0M95.2 640.2h0M95.1 631.3h0M88.1 646.3h0M82.1 641.9h0M92.8 633.7h0M82.8 643.8h0M96.1 637.6h0M103.7 641.4h0M97.1 628.8h0M81.8 648.9h0M107.1 631.3h0M94.0 652.1h0M96.1 641.0h0M97.7 648.6h0M71.8 631.6h0M72.9 635.7h0M101.6 630.6h0M69.6 632.1h0M90.6 639.8h0M101.3 626.4h0M92.4 640.6h0M99.5 639.3h0M84.9 636.5h0M74.6 640.9h0M77.1 646.7h0M98.3 624.7h0M81.4 644.3h0M70.9 622.2h0M91.3 631.5h0M91.0 644.8h0M40.4 643.5h0M44.6 643.5h0M40.6 642.7h0" stroke="#e54e36" stroke-width="1.8" stroke-linecap="square" fill="none" />
<path d="M61.7 603.2h0M45.2 621.0h0M54.9 622.5h0M60.8 636.3h0M63.5 623.0h0M52.8 620.2h0M65.0 620.3h0M58.7 638.9h0M42.7 616.3h0M53.6 619.3h0M69.5 640.5h0M59.0 636.9h0M55.8 628.5h0M38.5 612.9h0M62.8 626.4h0M41.1 614.4h0M56.2 604.0h0M47.0 631.6h0M45.1 618.8h0M59.6 607.2h0M63.8 601.4h0M65.1 606.9h0M42.2 622.4h0M46.0 629.1h0M37.3 616.7h0M59.2 610.7h0M51.9 624.9h0M41.9 641.1h0M60.0 622.5h0M55.0 627.4h0M49.5 609.2h0M36.5 620.1h0M62.2 602.1h0M60.3 612.9h0M42.0 620.4h0M48.4 619.1h0M63.9 615.4h0M53.3 620.7h0M51.1 610.4h0M57.6 600.8h0M45.2 613.7h0M69.9 623.9h0M59.1 617.5h0M39.8 622.9h0M70.4 632.0h0M40.4 618.1h0M54.5 623.3h0M54.5 611.9h0M70.2 626.6h0M59.9 612.5h0M57.9 599.1h0M46.3 633.5h0M33.4 623.5h0M69.0 640.5h0M42.7 631.0h0M50.8 616.6h0M39.7 624.5h0M62.9 604.2h0M38.2 618.9h0M48.6 631.5h0M56.1 602.1h0M41.2 618.6h0M52.9 623.8h0M46.4 606.1h0M44.9 615.9h0M40.0 622.6h0M65.3 623.2h0M42.1 623.0h0M63.3 642.6h0M39.1 624.2h0M52.4 605.7h0M61.8 628.8h0M65.0 619.4h0M56.4 623.7h0M39.9 616.2h0M41.5 616.2h0M59.1 624.1h0M40.4 628.3h0M44.3 643.0h0M47.3 614.3h0M39.3 614.1h0M47.9 608.9h0M57.5 601.5h0M68.8 632.1h0M69.8 631.0h0M44.0 620.9h0M47.8 635.5h0M68.8 638.9h0M43.7 642.8h0M59.3 630.6h0M56.9 637.7h0M40.9 620.2h0M60.1 622.0h0M48.7 626.1h0M70.4 628.9h0M61.3 599.6h0M60.3 619.9h0M34.9 621.7h0M46.1 627.4h0M44.7 636.9h0M61.3 598.8h0M54.6 623.8h0M45.6 637.0h0M67.6 642.9h0M43.8 619.1h0M44.7 625.5h0M81.4 640.8h0M89.3 628.0h0M87.5 651.4h0M87.6 645.6h0M76.3 621.2h0M90.2 624.1h0M87.1 641.5h0M85.2 639.5h0M80.5 639.3h0M71.2 622.4h0M95.2 634.7h0M101.4 638.2h0M85.3 654.8h0M82.7 654.6h0M90.3 646.7h0M70.6 621.3h0M96.9 636.1h0M105.2 639.7h0M75.3 630.6h0M75.3 629.1h0M79.9 648.7h0M85.1 631.2h0M86.4 649.5h0M95.8 618.1h0M95.3 638.9h0M98.2 624.4h0M99.4 643.5h0M90.2 632.6h0M85.9 632.8h0M87.3 641.4h0M100.1 640.5h0M91.7 642.7h0M70.1 639.2h0M78.3 632.5h0M94.8 626.7h0M77.3 632.1h0M88.3 636.6h0M96.7 627.8h0M84.9 634.1h0M73.3 639.6h0M99.4 638.0h0M77.9 636.7h0M88.9 644.3h0M98.9 629.0h0M80.9 640.5h0M101.9 639.5h0M92.4 637.2h0M90.4 627.3h0M98.0 647.7h0M94.8 623.2h0M88.1 623.1h0M71.6 636.5h0M72.8 631.7h0M79.3 629.2h0M86.2 640.0h0M101.7 642.6h0M90.4 650.2h0M99.8 636.6h0M95.2 625.3h0M93.0 635.9h0M100.1 623.5h0M72.0 618.6h0M98.5 633.8h0M91.3 632.7h0M101.8 643.4h0M76.1 637.0h0M91.5 637.0h0M79.8 629.2h0M96.8 628.4h0M97.2 639.8h0M77.0 638.5h0M71.1 644.7h0M94.8 632.1h0M83.7 640.9h0M94.4 638.6h0M70.5 640.0h0M83.7 627.8h0M87.5 635.6h0M89.1 629.6h0M87.4 640.2h0M98.0 632.2h0M79.0 646.1h0M89.4 643.6h0M81.4 634.9h0M98.7 644.9h0M84.4 646.6h0M87.2 640.6h0M83.6 622.9h0M68.7 626.4h0M96.3 644.9h0M92.5 634.1h0M101.4 649.7h0M97.8 642.0h0M93.5 634.8h0M73.5 625.9h0M82.6 636.5h0M69.1 639.3h0M80.7 637.3h0M98.2 628.6h0M95.0 634.2h0M93.6 650.5h0M91.5 631.8h0M104.1 641.8h0M102.2 649.8h0M79.9 639.3h0M74.2 625.1h0M88.8 627.5h0M91.6 628.0h0M92.3 624.2h0M84.2 636.4h0M90.8 626.9h0M78.2 651.0h0M80.2 622.2h0M95.0 630.1h0M81.3 634.3h0M92.4 645.0h0M91.8 621.5h0M70.0 632.9h0M76.6 635.3h0M99.0 621.9h0M105.6 635.6h0M82.5 647.7h0M96.3 638.6h0M91.7 638.2h0M94.9 626.0h0M75.8 633.9h0M99.2 634.7h0M68.8 641.2h0M95.9 648.8h0M95.4 647.1h0M91.6 628.4h0M75.4 632.0h0M74.4 633.2h0M93.7 643.9h0M103.1 627.4h0M90.4 635.0h0M84.4 645.8h0M82.8 631.7h0M78.7 622.6h0M88.6 638.3h0M104.6 629.6h0M78.9 621.2h0M105.3 643.4h0M89.1 641.7h0M104.2 646.2h0M82.3 643.5h0M105.9 633.8h0M70.7 626.5h0M81.6 631.6h0M98.4 633.6h0M69.4 631.1h0M98.0 627.4h0M91.0 634.6h0M94.8 644.7h0M97.1 630.2h0M78.1 634.1h0M74.2 637.2h0M73.9 634.0h0M93.0 622.0h0M94.3 638.8h0M90.7 636.6h0M84.6 639.2h0M96.0 637.1h0M92.7 645.6h0M91.8 633.0h0M98.9 630.1h0M85.4 636.6h0M98.9 632.6h0M77.6 631.2h0M83.4 634.8h0M83.5 629.3h0M98.2 633.6h0M91.0 632.7h0M99.6 644.3h0M77.8 641.8h0M96.3 641.3h0M98.3 639.6h0M94.4 633.2h0M78.4 627.9h0M91.9 637.7h0M73.3 628.3h0M99.7 636.2h0M89.9 636.0h0M78.8 629.6h0M97.9 637.2h0M101.9 635.6h0M100.5 628.8h0M97.6 631.0h0M75.8 628.1h0M88.9 644.3h0M95.8 651.5h0M90.2 628.3h0M99.6 650.4h0M90.7 652.3h0M86.0 643.9h0M75.1 628.6h0M95.0 643.6h0M71.5 623.6h0M88.6 632.9h0M92.4 642.5h0M71.8 631.0h0M89.5 627.5h0M91.7 629.2h0M106.9 641.2h0M90.5 628.4h0M84.2 635.2h0M95.5 638.3h0M92.0 647.1h0M101.3 630.0h0M94.1 631.1h0M70.6 625.8h0M96.2 628.6h0M88.2 645.2h0M101.0 642.3h0M81.4 633.2h0M95.6 636.1h0M74.7 634.0h0M92.2 642.2h0M92.1 640.1h0M93.5 622.2h0M68.6 636.8h0M93.3 636.9h0M84.1 635.0h0M91.7 641.5h0M106.3 630.7h0M94.0 647.2h0M73.7 639.2h0M86.9 640.6h0M88.8 640.4h0M89.8 631.0h0M105.9 643.4h0M85.6 644.7h0M102.7 632.4h0M91.0 641.3h0M96.3 642.8h0M85.1 635.9h0M103.5 643.8h0M84.4 628.8h0M73.9 633.3h0M104.6 631.7h0M88.5 634.8h0M71.4 638.0h0M85.8 641.2h0M95.4 651.6h0M86.6 630.1h0M73.2 634.2h0M92.7 640.0h0M95.0 629.2h0M93.8 624.3h0M78.2 629.1h0M89.6 628.9h0M71.9 629.4h0M96.3 638.4h0M76.6 631.0h0M79.6 651.3h0M91.2 627.1h0M92.4 643.7h0M73.0 639.2h0M94.6 634.4h0M85.4 635.7h0M78.0 623.7h0M99.8 622.9h0M91.8 635.6h0M74.0 630.8h0M84.0 624.8h0M86.4 647.1h0M41.3 641.0h0M43.3 642.0h0M40.3 641.6h0M41.0 641.9h0" stroke="#da3825" stroke-width="1.8" stroke-linecap="square" fill="none" />
<path d="M53.8 632.2h0M58.5 603.1h0M37.1 616.9h0M69.6 640.2h0M51.8 620.8h0M57.0 601.7h0M68.7 642.8h0M43.0 612.4h0M40.7 631.5h0M42.1 616.2h0M44.3 633.5h0M47.9 622.7h0M60.3 623.6h0M36.5 617.7h0M62.1 605.0h0M69.8 642.5h0M62.9 614.3h0M61.0 640.7h0M59.6 607.7h0M63.8 634.0h0M52.2 614.1h0M66.9 629.1h0M42.4 635.5h0M40.0 628.2h0M59.4 634.9h0M57.4 633.5h0M62.8 637.2h0M43.0 621.1h0M62.9 625.7h0M58.0 620.2h0M60.8 599.7h0M40.6 640.5h0M47.2 637.5h0M41.4 623.1h0M66.0 618.5h0M41.7 615.3h0M53.0 639.5h0M41.2 623.9h0M58.7 607.4h0M60.2 613.2h0M42.7 637.6h0M42.4 627.9h0M43.1 612.3h0M39.0 628.9h0M59.2 601.0h0M46.2 615.2h0M50.9 630.3h0M69.7 614.7h0M70.2 615.8h0M54.7 618.3h0M37.0 615.8h0M59.7 633.3h0M55.8 619.7h0M57.8 628.4h0M49.6 632.0h0M59.7 625.1h0M54.8 614.6h0M60.7 613.9h0M59.3 641.0h0M53.6 604.2h0M54.9 631.7h0M52.0 607.1h0M63.1 606.3h0M60.2 641.7h0M49.5 638.1h0M62.7 628.3h0M34.6 624.7h0M44.7 641.3h0M53.3 600.5h0M50.7 633.6h0M42.8 620.7h0M50.0 638.9h0M56.8 641.0h0M51.2 624.0h0M65.0 635.0h0M65.6 622.9h0M58.3 627.6h0M65.2 636.2h0M66.1 616.9h0M61.2 600.1h0M66.4 622.6h0M65.1 634.4h0M54.3 632.4h0M64.2 643.4h0M47.9 606.6h0M37.5 621.2h0M44.3 629.1h0M69.1 625.5h0M50.5 610.2h0M54.8 603.0h0M56.7 623.7h0M54.5 603.6h0M41.6 624.3h0M57.7 637.3h0M58.7 637.1h0M45.1 616.3h0M70.2 637.0h0M33.2 617.1h0M70.4 632.6h0M64.5 610.7h0M59.9 620.8h0M44.5 619.7h0M34.4 618.2h0M92.7 638.2h0M89.4 633.0h0M79.9 639.7h0M83.6 624.5h0M98.8 637.8h0M105.0 630.3h0M100.6 631.4h0M101.9 645.5h0M82.5 643.4h0M98.4 637.3h0M105.4 625.7h0M70.8 638.1h0M103.5 643.6h0M88.6 638.1h0M93.6 641.8h0M93.1 638.2h0M81.1 624.2h0M77.1 644.9h0M100.4 646.9h0M99.7 637.8h0M88.9 618.4h0M97.6 634.4h0M73.6 620.5h0M79.0 649.9h0M89.1 632.3h0M94.0 642.9h0M98.6 623.7h0M101.6 634.9h0M93.2 645.2h0M104.7 637.4h0M89.3 649.0h0M87.2 627.0h0M75.5 626.0h0M84.0 643.5h0M99.3 639.6h0M105.7 634.2h0M94.6 642.4h0M75.6 632.2h0M80.6 632.3h0M90.9 632.6h0M87.7 627.9h0M95.6 621.3h0M69.8 633.6h0M94.1 627.5h0M91.4 628.3h0M84.2 646.2h0M90.7 624.4h0M70.0 622.2h0M73.0 626.6h0M87.2 652.5h0M93.2 627.9h0M85.4 637.3h0M94.5 633.0h0M83.0 636.8h0M105.7 638.3h0M108.6 635.2h0M90.4 629.5h0M106.0 637.5h0M90.4 629.2h0M89.0 634.9h0M88.8 636.5h0M96.2 638.8h0M99.3 620.3h0M76.8 623.4h0M104.9 633.9h0M73.6 634.9h0M74.6 627.8h0M84.4 634.0h0M91.3 624.5h0M86.1 636.0h0M74.0 627.1h0M97.2 638.9h0M89.0 644.4h0M89.4 622.8h0M86.3 636.0h0M69.1 629.5h0M94.7 628.3h0M104.5 640.6h0M79.9 644.5h0M81.7 646.4h0M86.5 634.0h0M101.4 640.2h0M91.3 636.5h0M94.6 632.8h0M105.6 646.3h0M91.3 632.1h0M90.7 629.9h0M98.6 641.2h0M99.2 630.1h0M100.6 629.8h0M95.2 630.5h0M90.4 652.1h0M73.8 629.8h0M82.1 637.2h0M75.3 626.6h0M75.1 625.7h0M102.1 629.2h0M109.1 636.2h0M93.9 623.9h0M100.3 637.2h0M103.7 636.3h0M91.0 636.8h0M98.7 619.0h0M102.3 630.7h0M92.5 635.1h0M95.0 643.4h0M79.3 634.3h0M89.6 647.3h0M69.1 630.3h0M80.9 640.3h0M92.5 641.6h0M77.4 628.1h0M74.1 633.0h0M70.9 641.4h0M102.6 634.0h0M91.2 621.8h0M74.7 647.7h0M94.1 636.9h0M94.2 634.6h0M93.6 648.5h0M75.4 631.5h0M96.3 628.6h0M101.4 635.6h0M88.5 634.8h0M105.5 638.9h0M80.4 633.9h0M92.2 619.4h0M92.8 641.4h0M73.4 633.8h0M99.7 645.6h0M89.1 640.8h0M101.1 636.0h0M77.6 649.6h0M76.9 636.0h0M75.4 638.5h0M69.5 617.6h0M74.4 633.0h0M70.0 634.6h0M85.7 623.3h0M76.1 636.0h0M85.1 644.1h0M84.9 639.1h0M91.8 639.9h0M70.7 631.0h0M94.8 625.2h0M103.2 622.9h0M101.1 640.3h0M106.8 642.5h0M87.9 624.9h0M80.8 642.8h0M92.9 640.8h0M95.3 624.7h0M81.7 647.2h0M90.7 624.0h0M84.0 647.6h0M93.8 619.1h0M97.1 637.8h0M86.4 647.7h0M72.5 628.1h0M87.2 638.9h0M86.9 627.3h0M90.1 628.3h0M89.5 631.3h0M87.8 656.1h0M85.6 633.6h0M77.8 648.5h0M85.5 632.5h0M72.3 631.1h0M82.7 636.1h0M93.1 645.8h0M101.2 636.0h0M90.5 638.8h0M96.8 631.0h0M85.2 648.4h0M87.2 637.6h0M95.0 649.8h0M84.2 639.2h0M86.9 630.2h0M89.6 642.4h0M83.9 636.6h0M84.2 628.3h0M85.9 647.3h0M86.2 641.3h0M68.9 622.4h0M89.0 638.0h0M71.1 628.4h0M78.1 641.4h0M80.2 641.9h0M83.2 645.8h0M70.7 628.7h0M75.1 624.1h0M84.8 649.7h0M93.8 641.2h0M70.6 640.0h0M84.2 633.7h0M89.5 637.4h0M78.7 621.2h0M104.5 628.7h0M80.5 642.9h0M90.4 642.5h0M79.1 634.0h0M100.3 642.2h0M89.1 631.2h0M94.7 635.4h0M80.9 634.6h0M102.4 627.5h0M91.6 635.1h0M102.3 644.5h0M88.2 620.2h0M94.2 645.4h0M90.0 632.9h0M76.5 625.9h0M94.5 633.8h0M83.7 634.7h0M98.8 651.8h0M83.4 619.6h0M90.4 622.7h0M92.2 649.7h0M96.4 634.4h0M94.1 628.2h0M78.9 649.5h0M90.0 646.5h0M89.8 641.8h0M77.1 634.3h0M97.3 627.2h0M85.7 645.8h0M72.7 637.0h0M96.0 652.4h0M96.9 628.2h0M93.9 637.6h0M72.5 618.4h0M83.2 620.8h0M70.6 633.9h0M74.2 625.0h0M103.6 644.6h0M72.4 635.2h0M100.8 641.1h0M94.5 634.2h0M73.6 629.3h0M97.5 636.3h0M87.4 632.7h0M79.7 626.9h0M106.4 635.4h0M99.2 625.2h0M102.7 640.4h0M100.4 642.4h0M104.5 640.0h0M98.9 628.5h0M96.8 645.9h0M89.1 654.0h0M70.9 629.3h0M72.7 641.7h0M89.3 647.4h0M89.9 637.0h0M89.2 632.0h0M97.5 622.5h0M71.8 641.8h0M72.0 623.1h0M92.2 626.7h0M79.2 635.6h0M96.2 628.2h0M96.3 631.2h0M87.0 627.6h0M92.5 654.5h0M101.9 623.9h0M90.8 635.9h0M98.8 625.1h0M87.3 625.7h0M89.0 643.4h0M88.2 632.4h0M89.4 638.6h0M86.5 626.9h0M83.9 648.3h0M96.5 641.5h0M81.8 620.0h0M74.9 631.1h0M89.3 627.5h0M70.0 626.8h0M85.9 645.9h0M79.1 629.0h0M71.9 636.3h0M75.2 641.1h0M79.7 637.1h0M91.7 642.2h0M92.0 643.4h0M92.9 636.8h0M86.2 650.0h0M79.0 627.0h0M77.4 627.9h0M74.1 643.6h0M90.1 630.5h0M90.4 637.4h0M69.4 636.1h0M87.2 638.5h0M70.5 639.4h0M86.8 630.8h0M103.8 643.7h0M91.6 629.7h0M41.8 643.1h0M41.0 641.1h0" stroke="#cc2115" stroke-width="1.8" stroke-linecap="square" fill="none" />
<path d="M46.7 607.7h0M52.5 601.9h0M56.3 639.3h0M62.0 636.0h0M55.7 636.7h0M62.0 627.5h0M47.5 608.6h0M65.3 632.2h0M56.0 632.8h0M69.6 618.8h0M45.5 635.3h0M48.1 634.8h0M56.7 640.2h0M59.7 597.3h0M46.8 614.5h0M61.9 632.8h0M53.2 620.8h0M41.8 622.9h0M50.7 632.7h0M66.7 641.8h0M57.3 620.4h0M58.4 612.8h0M52.3 628.6h0M67.1 612.6h0M54.8 603.1h0M64.5 641.8h0M39.3 620.4h0M33.7 617.7h0M57.3 634.6h0M62.3 629.4h0M45.9 617.2h0M31.0 622.2h0M46.9 620.3h0M43.1 625.2h0M70.3 638.4h0M46.7 606.9h0M54.4 627.0h0M49.0 605.8h0M46.7 622.8h0M54.6 610.4h0M60.4 605.2h0M55.7 615.3h0M49.7 613.7h0M53.8 633.0h0M53.9 625.0h0M46.1 639.0h0M30.3 619.4h0M37.0 617.9h0M39.8 624.9h0M58.3 638.9h0M53.6 616.2h0M43.0 616.8h0M68.2 621.7h0M68.2 620.7h0M45.1 637.2h0M57.0 609.2h0M46.9 612.3h0M49.5 637.6h0M55.6 611.0h0M55.3 636.9h0M47.7 609.8h0M49.4 609.9h0M65.6 626.0h0M52.5 618.5h0M47.4 622.7h0M55.3 625.4h0M56.9 614.7h0M42.8 637.8h0M59.3 603.2h0M69.6 640.6h0M68.9 641.4h0M46.9 632.3h0M49.9 623.3h0M51.7 627.2h0M45.1 613.7h0M45.7 631.9h0M65.9 609.9h0M45.7 614.1h0M66.8 635.2h0M57.1 628.3h0M65.3 625.7h0M39.7 619.9h0M59.5 612.1h0M54.6 612.4h0M65.1 640.1h0M40.8 630.8h0M68.5 630.8h0M60.8 619.0h0M59.9 624.3h0M55.7 635.0h0M61.2 624.6h0M35.4 623.2h0M44.7 609.7h0M50.1 621.1h0M68.4 629.7h0M39.3 630.1h0M69.9 627.0h0M43.6 622.7h0M55.5 619.9h0M68.0 625.5h0M44.3 612.5h0M44.6 631.1h0M57.8 601.4h0M49.1 605.5h0M54.7 634.8h0M61.0 603.2h0M49.1 606.8h0M53.2 615.3h0M49.1 625.7h0M50.6 629.1h0M68.5 638.4h0M54.5 634.3h0M54.3 633.7h0M51.2 609.8h0M69.2 630.9h0M61.6 627.2h0M68.5 640.7h0M39.6 627.3h0M54.2 633.8h0M47.6 633.9h0M66.5 635.1h0M63.7 621.0h0M38.1 627.8h0M61.7 610.0h0M30.9 620.2h0M60.0 629.3h0M55.8 632.1h0M51.8 640.2h0M63.9 636.0h0M68.7 629.9h0M46.5 635.2h0M68.8 637.9h0M58.5 601.2h0M58.1 628.5h0M32.4 618.1h0M63.8 632.6h0M60.5 615.6h0M35.7 618.9h0M54.3 607.5h0M56.1 640.0h0M54.3 637.9h0M107.3 636.9h0M96.5 638.7h0M93.1 633.1h0M101.1 628.6h0M90.4 647.7h0M87.3 653.5h0M68.9 618.0h0M88.6 638.6h0M86.5 645.8h0M93.4 622.1h0M101.3 633.5h0M93.2 633.0h0M83.4 630.7h0M96.7 644.7h0M78.7 638.4h0M102.0 629.8h0M98.9 647.6h0M88.5 628.6h0M71.7 631.6h0M98.8 646.2h0M95.7 648.0h0M102.3 626.1h0M97.0 630.5h0M79.9 646.6h0M98.8 643.7h0M83.4 628.9h0M71.4 626.8h0M104.1 633.4h0M87.7 636.8h0M94.1 627.8h0M82.5 649.0h0M79.0 619.7h0M97.7 626.7h0M69.8 625.3h0M79.0 654.3h0M84.0 635.4h0M79.4 636.3h0M91.4 642.3h0M71.1 624.5h0M78.4 620.5h0M70.2 620.4h0M91.1 620.8h0M78.2 632.8h0M90.4 642.9h0M99.4 647.2h0M90.6 638.4h0M96.4 632.9h0M95.9 628.2h0M95.4 628.3h0M94.9 650.5h0M86.8 639.8h0M84.2 628.0h0M93.9 632.8h0M82.1 639.7h0M80.0 640.1h0M86.7 634.6h0M91.4 648.8h0M102.6 627.8h0M79.6 639.0h0M70.8 616.3h0M69.6 644.6h0M82.3 630.3h0M88.1 649.8h0M102.7 629.8h0M95.1 629.1h0M83.3 642.0h0M91.1 633.3h0M102.0 633.1h0M97.0 643.8h0M106.0 629.8h0M94.5 640.4h0M71.4 633.6h0M93.8 632.4h0M103.7 648.6h0M89.7 644.8h0M91.5 645.0h0M93.4 633.5h0M83.7 631.6h0M80.0 632.7h0M71.2 631.4h0M82.3 642.8h0M87.9 639.9h0M97.1 622.9h0M72.8 625.1h0M82.3 640.0h0M86.7 624.6h0M78.0 637.9h0M94.3 648.6h0M93.8 637.9h0M85.1 626.2h0M90.5 628.0h0M69.6 628.4h0M80.3 622.1h0M81.5 622.8h0M93.6 646.6h0M93.5 624.2h0M97.1 645.2h0M102.1 644.1h0M80.5 635.9h0M92.3 644.0h0M72.5 635.6h0M100.6 649.1h0M74.3 628.3h0M79.9 630.8h0M83.2 639.3h0M82.1 630.8h0M96.8 629.4h0M103.7 645.9h0M68.8 620.1h0M86.2 638.9h0M77.0 647.1h0M102.9 641.6h0M99.7 635.0h0M101.2 637.8h0M99.5 625.2h0M75.1 640.7h0M80.3 642.5h0M93.2 641.4h0M81.3 633.2h0M86.7 636.6h0M84.2 651.5h0M97.0 647.4h0M87.8 645.4h0M87.1 650.5h0M91.3 641.2h0M85.7 637.5h0M102.9 636.7h0M93.8 642.3h0M80.6 634.1h0M79.9 633.5h0M103.7 638.8h0M104.6 636.8h0M81.3 639.5h0M90.1 644.1h0M87.2 639.5h0M87.0 628.7h0M87.4 629.1h0M94.4 630.7h0M96.3 645.5h0M91.7 633.4h0M102.0 649.1h0M82.4 640.6h0M91.2 625.0h0M97.2 638.3h0M90.8 620.6h0M94.4 652.9h0M72.3 624.9h0M75.7 635.4h0M94.6 637.5h0M90.0 636.0h0M106.5 632.8h0M96.5 634.9h0M90.7 645.9h0M87.9 634.8h0M104.6 643.7h0M93.1 639.6h0M99.4 637.9h0M73.2 635.5h0M91.8 642.6h0M70.4 631.2h0M73.3 630.0h0M93.5 641.1h0M80.3 628.6h0M95.9 642.5h0M100.2 648.0h0M97.1 631.8h0M84.7 626.2h0M91.3 639.1h0M98.2 648.2h0M86.0 656.9h0M90.2 628.9h0M81.4 637.8h0M92.2 618.8h0M72.7 633.3h0M89.6 621.8h0M79.5 626.0h0M81.2 639.2h0M92.2 638.5h0M89.5 634.6h0M103.0 623.6h0M98.3 629.2h0M104.6 627.2h0M84.2 644.3h0M84.0 627.4h0M77.6 633.4h0M90.8 634.9h0M77.1 640.4h0M86.8 655.1h0M76.3 620.3h0M91.0 639.4h0M98.2 638.8h0M85.6 627.7h0M101.3 626.9h0M98.6 628.1h0M103.0 642.2h0M85.8 646.2h0M88.1 623.4h0M73.9 637.2h0M91.6 627.3h0M109.2 636.2h0M86.1 646.9h0M81.1 632.5h0M89.4 629.7h0M96.7 642.7h0M89.2 632.1h0M97.1 625.3h0M94.6 634.9h0M84.3 636.6h0M92.7 644.8h0M83.3 650.3h0M86.3 643.6h0M99.8 629.0h0M102.4 631.7h0M83.0 628.0h0M95.9 645.9h0M101.4 633.6h0M76.4 631.2h0M70.2 632.2h0M95.5 642.5h0M95.9 635.9h0M74.5 635.5h0M95.1 638.6h0M83.4 647.9h0M89.3 650.6h0M77.1 633.9h0M83.8 636.1h0M91.0 634.6h0M98.0 646.2h0M90.1 646.4h0M76.7 628.2h0M86.9 631.4h0M90.8 646.2h0M84.3 650.4h0M86.2 641.0h0M99.4 641.4h0M96.5 619.8h0M96.9 635.1h0M83.0 622.7h0M94.8 633.8h0M80.7 634.6h0M99.3 636.2h0M98.7 630.8h0M72.3 624.1h0M83.0 634.4h0M70.4 631.1h0M96.6 628.8h0M96.9 632.5h0M70.8 634.1h0M98.2 630.4h0M87.4 640.1h0M85.5 626.1h0M77.9 627.9h0M71.1 626.2h0M81.3 618.7h0M104.6 635.2h0M102.1 631.7h0M96.8 630.6h0M94.6 649.2h0M99.1 639.5h0M99.5 630.5h0M101.1 646.4h0M99.7 635.4h0M92.0 620.5h0M87.6 640.2h0M86.4 631.6h0M92.1 619.8h0M93.3 641.5h0M93.6 639.7h0M86.2 628.8h0M108.1 642.0h0M90.9 635.8h0M69.9 622.9h0M78.9 625.0h0M87.3 634.5h0M82.4 633.8h0M83.0 653.6h0M90.9 619.5h0M102.5 639.3h0M71.8 642.8h0M73.2 638.7h0M96.5 637.3h0M72.7 639.5h0M81.2 632.1h0M89.7 650.9h0M69.5 636.1h0M94.8 631.7h0M77.0 620.4h0M73.3 630.7h0M69.8 630.3h0M40.0 643.6h0M41.4 643.5h0" stroke="#ba0906" stroke-width="1.8" stroke-linecap="square" fill="none" />
<path d="M66.8 614.4h0M61.8 629.5h0M50.5 630.1h0M44.6 612.4h0M52.4 623.4h0M42.4 619.8h0M66.2 633.9h0M32.6 622.7h0M61.3 602.5h0M36.6 619.8h0M64.1 609.6h0M57.9 633.5h0M56.9 628.8h0M69.6 631.1h0M61.9 628.5h0M58.5 625.5h0M43.9 614.1h0M54.8 609.5h0M42.7 612.9h0M60.3 621.8h0M55.9 630.2h0M67.2 611.7h0M52.3 612.2h0M28.9 620.9h0M66.0 624.8h0M49.6 627.3h0M47.8 628.8h0M62.6 641.9h0M40.3 617.4h0M34.8 619.0h0M69.3 633.7h0M51.1 626.5h0M54.9 624.6h0M69.9 634.7h0M47.4 638.2h0M63.7 616.6h0M38.2 626.6h0M60.6 608.9h0M45.1 639.7h0M36.1 626.9h0M65.8 632.5h0M44.6 610.7h0M44.6 611.2h0M49.3 608.0h0M69.0 640.6h0M50.9 603.8h0M63.7 608.0h0M51.7 620.3h0M45.7 639.2h0M44.7 614.2h0M56.8 604.8h0M41.1 640.1h0M55.9 610.0h0M67.8 641.7h0M53.8 626.6h0M46.7 617.4h0M60.5 613.6h0M48.9 607.2h0M63.0 613.2h0M62.3 610.3h0M49.9 630.5h0M50.7 610.8h0M68.0 614.4h0M43.0 635.3h0M58.1 605.1h0M60.3 637.0h0M50.6 634.1h0M57.1 617.6h0M68.4 614.8h0M54.6 634.8h0M62.8 614.6h0M44.5 624.5h0M59.9 615.4h0M58.9 618.5h0M47.9 626.2h0M50.0 619.8h0M28.7 621.3h0M68.7 615.3h0M47.4 635.9h0M61.5 627.2h0M44.3 615.1h0M59.9 631.1h0M43.4 627.3h0M41.4 620.3h0M69.7 645.0h0M56.7 616.1h0M34.0 623.9h0M76.1 629.7h0M69.5 630.6h0M71.1 640.6h0M81.1 620.5h0M73.2 638.9h0M76.7 633.6h0M99.5 636.5h0M88.4 626.7h0M99.4 621.0h0M91.0 626.1h0M105.4 629.9h0M88.5 642.4h0M86.0 630.8h0M97.0 635.9h0M91.3 635.1h0M85.8 635.5h0M97.1 638.8h0M77.5 652.2h0M94.7 621.6h0M103.4 639.1h0M94.8 640.1h0M73.2 628.1h0M87.4 647.6h0M90.1 620.1h0M99.3 638.0h0M101.8 621.5h0M72.1 636.2h0M105.9 631.4h0M81.9 631.9h0M77.8 635.1h0M98.2 647.6h0M91.5 628.6h0M101.6 643.9h0M69.0 624.8h0M87.0 631.6h0M89.2 643.7h0M107.9 642.3h0M73.4 639.8h0M101.4 643.9h0M84.1 626.9h0M84.3 647.7h0M93.9 638.1h0M79.5 646.1h0M83.5 626.6h0M71.5 630.1h0M109.6 634.8h0M96.0 633.5h0M91.6 642.2h0M96.7 636.4h0M71.4 642.6h0M73.4 633.1h0M82.0 641.0h0M72.2 635.8h0M103.4 643.9h0M79.1 630.4h0M75.0 626.4h0M101.1 638.2h0M79.0 636.5h0M73.3 635.7h0M98.1 642.8h0M81.6 633.9h0M87.2 623.6h0M91.1 625.3h0M73.3 631.4h0M100.5 643.1h0M70.0 627.1h0M71.7 623.8h0M77.3 633.8h0M97.3 647.2h0M97.3 629.6h0M99.3 647.0h0M71.3 635.1h0M102.3 645.7h0M86.6 639.0h0M94.8 630.9h0M81.1 638.2h0M92.6 620.6h0M101.0 639.3h0M93.1 628.1h0M103.4 632.4h0M93.6 627.0h0M93.5 645.5h0M94.0 637.5h0M108.4 639.7h0M88.2 651.5h0M75.0 646.7h0M89.8 631.3h0M90.7 638.5h0M87.4 632.9h0M83.4 635.3h0M93.7 629.9h0M68.9 628.0h0M86.3 639.0h0M96.3 649.6h0M87.8 637.7h0M82.6 632.5h0M98.4 632.3h0M100.2 633.1h0M101.5 625.6h0M77.0 646.8h0M83.1 650.4h0M98.5 634.6h0M100.8 622.6h0M93.2 640.6h0M98.6 627.5h0M97.0 648.8h0M93.9 644.0h0M103.9 635.1h0M69.4 628.3h0M89.7 634.6h0M79.4 639.2h0M100.4 623.4h0M77.4 619.5h0M83.9 635.7h0M101.6 632.2h0M81.5 640.9h0M102.7 642.1h0M79.2 629.3h0M84.4 627.5h0M77.8 643.6h0M81.8 642.2h0M72.9 625.2h0M91.6 654.8h0M78.1 642.1h0M86.8 631.1h0M90.5 642.0h0M95.1 638.0h0M82.3 642.3h0M96.3 633.7h0M93.2 642.9h0M80.1 636.8h0M96.4 630.9h0M105.5 633.1h0M103.7 627.6h0M81.9 629.7h0M72.7 626.7h0M86.8 639.1h0M93.5 637.0h0M97.8 631.8h0M74.1 619.1h0M80.6 622.5h0M91.4 641.1h0M88.9 638.4h0M88.7 634.5h0M90.4 635.0h0M86.6 641.8h0M84.6 619.6h0M90.0 635.4h0M85.6 630.7h0M94.9 630.6h0M69.3 621.6h0M86.5 642.8h0M77.8 618.9h0M89.7 639.3h0M102.7 632.3h0M89.0 644.7h0M73.0 627.3h0M91.7 642.0h0M77.1 634.8h0M100.2 629.5h0M84.1 633.8h0M80.9 647.5h0M92.1 643.1h0M93.4 638.6h0M91.3 634.6h0M87.3 631.9h0M94.0 633.9h0M86.3 641.6h0M91.4 647.9h0M94.2 636.8h0M94.0 625.7h0M94.5 649.3h0M88.0 641.3h0M93.2 643.8h0M77.9 629.5h0M87.4 619.7h0M84.9 647.3h0M91.4 626.9h0M85.4 640.5h0M77.5 624.5h0M74.2 625.7h0M83.5 637.3h0M73.2 631.3h0M86.0 633.6h0M82.4 642.9h0M90.0 645.6h0M90.5 618.7h0M91.1 619.7h0M76.2 634.4h0M91.6 638.2h0M85.6 630.2h0M95.0 630.2h0M93.0 627.8h0M106.6 639.0h0M88.4 640.0h0M83.0 632.5h0M86.3 623.6h0M102.7 637.9h0M100.2 634.6h0M100.4 636.7h0M89.7 642.5h0M84.4 621.1h0M95.7 628.4h0M106.6 644.4h0M99.8 633.6h0M73.9 641.5h0M76.1 631.7h0M80.2 641.4h0M84.0 638.2h0M72.1 633.7h0M78.7 653.8h0M85.7 645.3h0M87.8 644.1h0M97.2 633.4h0M98.0 639.4h0M79.6 632.0h0M68.7 616.7h0M76.2 644.5h0M95.9 643.8h0M93.0 645.6h0M71.5 631.2h0M88.4 633.2h0M99.3 635.1h0M97.4 652.1h0M79.5 627.6h0M103.5 633.6h0M107.9 628.5h0M94.3 650.4h0M100.2 632.7h0M69.7 618.8h0M81.5 633.9h0M84.8 642.5h0M108.1 631.7h0M77.8 631.7h0M74.5 634.6h0M74.2 630.3h0M86.0 638.9h0M92.1 655.1h0M100.5 627.4h0M102.2 634.7h0M89.8 633.3h0M87.1 633.4h0M70.2 629.8h0M91.5 637.6h0M93.3 624.6h0M80.5 619.3h0M71.7 629.2h0M99.4 631.8h0M95.5 636.3h0M88.9 641.1h0M80.1 645.7h0M93.7 643.6h0M77.9 635.3h0M100.3 619.9h0M85.8 630.3h0M94.1 619.6h0M89.3 632.0h0M72.9 630.3h0M85.8 653.1h0M96.7 641.9h0M70.3 625.1h0M89.8 639.6h0M90.8 626.6h0M89.6 633.2h0M102.3 637.6h0M91.2 633.2h0M69.6 629.6h0M89.4 629.0h0M78.0 635.6h0M70.0 635.3h0M104.0 640.1h0M90.0 639.0h0M83.7 638.2h0M93.8 629.1h0M108.0 636.1h0M91.1 641.7h0M85.3 634.8h0M92.2 635.8h0M91.0 628.1h0M88.0 644.6h0M41.4 641.1h0M40.5 642.6h0M42.8 642.4h0" stroke="#9f0000" stroke-width="1.8" stroke-linecap="square" fill="none" />
<path d="M90.8 634.5h0M69.8 643.0h0M99.7 628.3h0M109.0 634.6h0M78.0 626.8h0M91.2 636.4h0M92.7 645.3h0M82.9 632.2h0M95.0 636.0h0M80.1 631.3h0M93.0 647.5h0M83.1 640.0h0M73.8 631.3h0M100.9 628.4h0M97.4 634.8h0M82.1 634.0h0M99.3 637.3h0M74.8 641.5h0M75.2 637.4h0M89.5 636.3h0M84.9 641.7h0M93.1 635.1h0M93.5 654.9h0M85.2 633.9h0M77.1 634.0h0M94.5 636.0h0M82.1 626.6h0M86.7 631.2h0M75.9 645.8h0M78.7 625.9h0M94.0 637.5h0M104.8 623.5h0M91.4 637.5h0M93.8 636.8h0M69.2 618.4h0M89.9 630.6h0M71.4 631.0h0M79.4 633.8h0M87.0 634.5h0M96.7 627.5h0M89.9 634.2h0M87.1 623.2h0M88.5 649.7h0M76.4 627.6h0M89.8 635.9h0M73.2 631.9h0M98.2 639.3h0M81.9 626.0h0M101.6 625.8h0M102.5 635.6h0M99.8 644.5h0M90.6 639.4h0M73.5 643.0h0M77.6 638.9h0M95.3 632.1h0M94.4 644.6h0M70.7 645.5h0M77.2 636.6h0M93.2 646.4h0M87.3 632.0h0M84.7 639.6h0M72.8 637.4h0M102.5 642.6h0M73.6 626.0h0M101.3 625.3h0M94.0 640.7h0M87.9 649.5h0M103.4 627.5h0M69.1 633.1h0M101.8 632.5h0M79.2 639.8h0M97.7 622.7h0M100.0 623.4h0M86.9 620.6h0M90.0 635.5h0M74.8 640.8h0M81.8 641.8h0M87.8 620.1h0M98.0 630.9h0M85.2 638.8h0M74.9 640.5h0M102.6 642.8h0M70.5 629.6h0M71.1 625.2h0M99.8 636.1h0M85.7 646.9h0M99.5 632.4h0M86.6 642.6h0M77.3 625.2h0M75.0 640.6h0M80.3 631.6h0M101.5 637.1h0M73.8 633.1h0M82.4 638.7h0M75.1 649.5h0M94.7 643.2h0M85.1 640.8h0M83.7 628.8h0M101.6 633.7h0M92.5 626.7h0M88.2 642.3h0M69.4 624.4h0M83.0 635.8h0M94.7 617.6h0M94.9 653.1h0M85.6 653.5h0M88.4 637.2h0M74.0 620.0h0M106.5 643.1h0M99.4 635.4h0M76.6 637.4h0M91.9 618.7h0M70.6 640.5h0M74.0 627.8h0M70.5 622.7h0M99.1 635.4h0M98.7 622.3h0M100.5 630.3h0M70.4 631.4h0M107.9 639.4h0M92.5 630.8h0M70.3 631.4h0M95.4 631.8h0M87.2 624.6h0M83.8 620.5h0M89.6 635.0h0M85.5 622.0h0M82.3 641.7h0M91.0 626.2h0M89.7 641.9h0M89.8 644.8h0M89.9 641.3h0M78.6 646.2h0M86.0 629.3h0M71.9 633.5h0M99.2 650.0h0M92.3 634.9h0M81.8 647.6h0M101.5 623.1h0M72.0 639.4h0M94.7 648.4h0M80.5 638.7h0M93.5 633.9h0M88.1 637.8h0M86.2 641.5h0M102.9 634.8h0M107.4 636.3h0M75.6 624.5h0M84.9 622.9h0M105.5 638.5h0M100.3 640.4h0M77.1 646.2h0M94.8 630.7h0M75.3 625.4h0M98.5 643.2h0M95.5 638.1h0M78.9 637.1h0M100.1 643.9h0M79.9 637.1h0M75.7 642.3h0M84.3 634.5h0M85.6 636.5h0M79.6 634.2h0M84.2 630.3h0M90.2 624.9h0M83.8 647.2h0M73.4 624.3h0M95.8 641.1h0" stroke="#7f0000" stroke-width="1.8" stroke-linecap="square" fill="none" />
<rect x="114.20" y="594.30" width="2.80" height="67.00" fill="url(#orrd)" stroke="#777" stroke-width="0.4" />
<line x1="117.00" y1="661.30" x2="118.50" y2="661.30" stroke="#444" stroke-width="0.6" />
<text x="119.20" y="663.90" font-size="7.2" stroke="#222" stroke-width="0.22" >0</text>
<line x1="117.00" y1="645.35" x2="118.50" y2="645.35" stroke="#444" stroke-width="0.6" />
<text x="119.20" y="647.95" font-size="7.2" stroke="#222" stroke-width="0.22" >2</text>
<line x1="117.00" y1="629.40" x2="118.50" y2="629.40" stroke="#444" stroke-width="0.6" />
<text x="119.20" y="632.00" font-size="7.2" stroke="#222" stroke-width="0.22" >4</text>
<line x1="117.00" y1="613.44" x2="118.50" y2="613.44" stroke="#444" stroke-width="0.6" />
<text x="119.20" y="616.04" font-size="7.2" stroke="#222" stroke-width="0.22" >6</text>
<line x1="117.00" y1="597.49" x2="118.50" y2="597.49" stroke="#444" stroke-width="0.6" />
<text x="119.20" y="600.09" font-size="7.2" stroke="#222" stroke-width="0.22" >8</text>
<text x="189.50" y="591.30" font-size="9.8" text-anchor="middle" fill="#1a1a1a" stroke="#1a1a1a" stroke-width="0.22" font-style="italic" >Il6</text>
<path d="M183.00,596.70 L186.50,598.10 L189.20,601.60 L189.90,607.10 L191.30,611.30 L194.10,614.00 L197.60,616.80 L203.10,618.90 L210.00,617.50 L217.00,616.50 L223.90,618.20 L229.50,623.10 L232.90,628.60 L234.30,634.80 L232.90,641.80 L229.50,647.30 L223.90,652.90 L217.00,655.60 L210.00,657.00 L204.50,655.60 L200.30,651.50 L196.20,647.30 L191.30,644.30 L185.10,642.30 L178.10,640.70 L171.90,639.00 L170.10,640.70 L168.40,644.30 L165.00,645.20 L164.00,641.80 L165.90,637.90 L167.00,634.80 L165.00,631.80 L161.20,627.60 L157.30,624.00 L150.00,620.10 L158.70,616.10 L164.30,611.30 L169.80,606.40 L175.40,602.90 L179.50,598.80 Z" fill="#fef7f1" stroke="#fef7f1" stroke-width="1.2" stroke-linejoin="round"/>
<path d="M189.2 621.2h0M160.3 616.2h0M195.4 639.6h0M190.1 634.6h0M176.8 627.3h0M190.5 623.0h0M226.4 640.1h0M176.6 616.8h0M206.2 633.2h0M179.2 639.1h0M222.5 618.9h0M177.5 610.9h0" stroke="#da3825" stroke-width="1.7" stroke-linecap="square" fill="none" />
<path d="M217.0 643.5h0M186.4 637.0h0M217.3 636.7h0M184.2 611.0h0M165.1 628.7h0M163.2 628.9h0M165.8 614.8h0M207.8 638.3h0M224.6 644.4h0M202.8 634.5h0M188.2 638.9h0M210.1 636.5h0" stroke="#cc2115" stroke-width="1.7" stroke-linecap="square" fill="none" />
<path d="M226.3 625.0h0M200.3 624.1h0M225.1 628.8h0M180.0 628.2h0M186.1 627.7h0M194.5 619.9h0M168.0 631.2h0M176.5 609.0h0M187.7 622.7h0M218.3 622.7h0M216.4 616.9h0" stroke="#ba0906" stroke-width="1.7" stroke-linecap="square" fill="none" />
<path d="M226.7 641.2h0M183.5 618.5h0M161.7 618.0h0M198.9 644.1h0M205.7 639.4h0M167.0 631.8h0M173.3 635.9h0" stroke="#9f0000" stroke-width="1.7" stroke-linecap="square" fill="none" />
<path d="M213.3 630.0h0M214.8 655.4h0M215.6 627.9h0M164.9 616.8h0" stroke="#7f0000" stroke-width="1.7" stroke-linecap="square" fill="none" />
<rect x="237.50" y="594.30" width="2.80" height="67.00" fill="url(#orrd)" stroke="#777" stroke-width="0.4" />
<line x1="240.30" y1="661.30" x2="241.80" y2="661.30" stroke="#444" stroke-width="0.6" />
<text x="242.50" y="663.90" font-size="7.2" stroke="#222" stroke-width="0.22" >0</text>
<line x1="240.30" y1="646.41" x2="241.80" y2="646.41" stroke="#444" stroke-width="0.6" />
<text x="242.50" y="649.01" font-size="7.2" stroke="#222" stroke-width="0.22" >1</text>
<line x1="240.30" y1="631.52" x2="241.80" y2="631.52" stroke="#444" stroke-width="0.6" />
<text x="242.50" y="634.12" font-size="7.2" stroke="#222" stroke-width="0.22" >2</text>
<line x1="240.30" y1="616.63" x2="241.80" y2="616.63" stroke="#444" stroke-width="0.6" />
<text x="242.50" y="619.23" font-size="7.2" stroke="#222" stroke-width="0.22" >3</text>
<line x1="240.30" y1="601.74" x2="241.80" y2="601.74" stroke="#444" stroke-width="0.6" />
<text x="242.50" y="604.34" font-size="7.2" stroke="#222" stroke-width="0.22" >4</text>
<line x1="20.00" y1="670.70" x2="20.00" y2="630.00" stroke="#000" stroke-width="1.3" />
<path d="M20,625.2 L17.4,631.5 L22.6,631.5 Z" fill="#000" stroke="none" stroke-width="1" />
<line x1="20.00" y1="670.70" x2="61.00" y2="670.70" stroke="#000" stroke-width="1.3" />
<path d="M66.4,670.7 L60.2,668.1 L60.2,673.3 Z" fill="#000" stroke="none" stroke-width="1" />
<text x="15.30" y="648.80" font-size="9.0" text-anchor="middle" fill="#1a1a1a" stroke="#1a1a1a" stroke-width="0.22" transform="rotate(-90 15.30 648.80)" >UMAP2</text>
<text x="29.00" y="685.00" font-size="9.0" textLength="28.60" lengthAdjust="spacingAndGlyphs" fill="#1a1a1a" stroke="#1a1a1a" stroke-width="0.22" >UMAP1</text>
<text x="283.70" y="318.10" font-size="14.5" fill="#000" stroke="#000" stroke-width="0.22" font-weight="bold" >d</text>
<rect x="311.70" y="311.30" width="20.40" height="9.20" fill="#2d72a8" stroke="#222" stroke-width="0.8" />
<rect x="311.70" y="327.70" width="20.40" height="9.20" fill="#e6822c" stroke="#222" stroke-width="0.8" />
<text x="339.30" y="318.90" font-size="9.8" textLength="64.70" lengthAdjust="spacingAndGlyphs" fill="#1a1a1a" stroke="#1a1a1a" stroke-width="0.22" >Siglec-F<tspan dy="-3.40" font-size="6.66">lo</tspan><tspan dy="3.4"> NEU</tspan></text>
<text x="339.30" y="335.50" font-size="9.8" textLength="64.70" lengthAdjust="spacingAndGlyphs" fill="#1a1a1a" stroke="#1a1a1a" stroke-width="0.22" >Siglec-F<tspan dy="-3.40" font-size="6.66">hi</tspan><tspan dy="3.4"> NEU</tspan></text>
<path d="M358.90,411.80 L354.05,411.14 L350.19,410.49 L346.56,409.83 L344.88,409.18 L343.71,408.52 L343.20,407.87 L343.20,407.21 L343.19,406.56 L343.19,405.90 L343.18,405.25 L343.17,404.59 L343.16,403.93 L343.14,403.28 L343.13,402.62 L343.11,401.97 L343.10,401.31 L343.08,400.66 L343.06,400.00 L343.04,399.35 L343.03,398.69 L343.01,398.03 L342.99,397.38 L342.98,396.72 L342.96,396.07 L342.95,395.41 L342.94,394.76 L342.93,394.10 L342.92,393.45 L342.91,392.79 L342.90,392.13 L342.90,391.48 L342.90,390.82 L342.92,390.17 L342.97,389.51 L343.02,388.86 L343.09,388.20 L343.16,387.55 L343.23,386.89 L343.30,386.24 L343.35,385.58 L343.38,384.92 L343.40,384.27 L343.39,383.61 L343.36,382.96 L343.31,382.30 L343.25,381.65 L343.18,380.99 L343.11,380.34 L343.04,379.68 L342.98,379.03 L342.93,378.37 L342.91,377.71 L342.90,377.06 L342.87,376.40 L342.83,375.75 L342.77,375.09 L342.71,374.44 L342.65,373.78 L342.62,373.13 L342.60,372.47 L341.80,372.47 L341.78,373.13 L341.75,373.78 L341.69,374.44 L341.63,375.09 L341.57,375.75 L341.53,376.40 L341.50,377.06 L341.49,377.71 L341.47,378.37 L341.42,379.03 L341.36,379.68 L341.29,380.34 L341.22,380.99 L341.15,381.65 L341.09,382.30 L341.04,382.96 L341.01,383.61 L341.00,384.27 L341.02,384.92 L341.05,385.58 L341.10,386.24 L341.17,386.89 L341.24,387.55 L341.31,388.20 L341.38,388.86 L341.43,389.51 L341.48,390.17 L341.50,390.82 L341.50,391.48 L341.50,392.13 L341.49,392.79 L341.48,393.45 L341.47,394.10 L341.46,394.76 L341.45,395.41 L341.44,396.07 L341.42,396.72 L341.41,397.38 L341.39,398.03 L341.37,398.69 L341.36,399.35 L341.34,400.00 L341.32,400.66 L341.30,401.31 L341.29,401.97 L341.27,402.62 L341.26,403.28 L341.24,403.93 L341.23,404.59 L341.22,405.25 L341.21,405.90 L341.21,406.56 L341.20,407.21 L341.20,407.87 L340.69,408.52 L339.52,409.18 L337.84,409.83 L334.21,410.49 L330.35,411.14 L325.50,411.80 Z" fill="#2d72a8" stroke="#2a2a2a" stroke-width="0.9" stroke-linejoin="round"/>
<line x1="342.20" y1="411.80" x2="342.20" y2="372.47" stroke="#222" stroke-width="1.0" />
<path d="M399.30,411.80 L396.19,411.06 L394.66,410.33 L391.71,409.59 L390.65,408.86 L389.05,408.12 L387.12,407.38 L386.48,406.65 L385.56,405.91 L384.39,405.18 L383.98,404.44 L383.64,403.70 L383.31,402.97 L383.30,402.23 L383.29,401.50 L383.27,400.76 L383.26,400.02 L383.24,399.29 L383.22,398.55 L383.21,397.82 L383.20,397.08 L383.21,396.34 L383.35,395.61 L383.59,394.87 L383.88,394.14 L384.16,393.40 L384.39,392.66 L384.50,391.93 L384.61,391.19 L385.00,390.46 L385.58,389.72 L386.24,388.98 L386.90,388.25 L387.46,387.51 L387.82,386.78 L387.91,386.04 L388.09,385.30 L388.41,384.57 L388.81,383.83 L389.21,383.10 L389.53,382.36 L389.69,381.62 L389.65,380.89 L389.45,380.15 L389.15,379.42 L388.80,378.68 L388.45,377.94 L388.15,377.21 L387.95,376.47 L387.89,375.74 L387.61,375.00 L387.08,374.26 L386.42,373.53 L385.76,372.79 L385.21,372.06 L384.92,371.32 L384.78,370.58 L384.28,369.85 L383.62,369.11 L383.05,368.38 L382.80,367.64 L381.80,367.64 L381.55,368.38 L380.98,369.11 L380.32,369.85 L379.82,370.58 L379.68,371.32 L379.39,372.06 L378.84,372.79 L378.18,373.53 L377.52,374.26 L376.99,375.00 L376.71,375.74 L376.65,376.47 L376.45,377.21 L376.15,377.94 L375.80,378.68 L375.45,379.42 L375.15,380.15 L374.95,380.89 L374.91,381.62 L375.07,382.36 L375.39,383.10 L375.79,383.83 L376.19,384.57 L376.51,385.30 L376.69,386.04 L376.78,386.78 L377.14,387.51 L377.70,388.25 L378.36,388.98 L379.02,389.72 L379.60,390.46 L379.99,391.19 L380.10,391.93 L380.21,392.66 L380.44,393.40 L380.72,394.14 L381.01,394.87 L381.25,395.61 L381.39,396.34 L381.40,397.08 L381.39,397.82 L381.38,398.55 L381.36,399.29 L381.34,400.02 L381.33,400.76 L381.31,401.50 L381.30,402.23 L381.29,402.97 L380.96,403.70 L380.62,404.44 L380.21,405.18 L379.04,405.91 L378.12,406.65 L377.48,407.38 L375.55,408.12 L373.95,408.86 L372.89,409.59 L369.94,410.33 L368.41,411.06 L365.30,411.80 Z" fill="#e6822c" stroke="#2a2a2a" stroke-width="0.9" stroke-linejoin="round"/>
<line x1="382.30" y1="411.80" x2="382.30" y2="367.64" stroke="#222" stroke-width="1.0" />
<line x1="322.10" y1="365.40" x2="322.10" y2="414.60" stroke="#333" stroke-width="1.0" />
<line x1="322.10" y1="414.60" x2="402.10" y2="414.60" stroke="#333" stroke-width="1.0" />
<line x1="319.30" y1="411.80" x2="322.10" y2="411.80" stroke="#333" stroke-width="0.9" />
<text x="312.80" y="414.70" font-size="8.0" text-anchor="end" stroke="#222" stroke-width="0.22" >0</text>
<line x1="319.30" y1="377.30" x2="322.10" y2="377.30" stroke="#333" stroke-width="0.9" />
<text x="312.80" y="380.20" font-size="8.0" text-anchor="end" stroke="#222" stroke-width="0.22" >5</text>
<line x1="342.20" y1="414.60" x2="342.20" y2="417.40" stroke="#333" stroke-width="0.9" />
<line x1="382.30" y1="414.60" x2="382.30" y2="417.40" stroke="#333" stroke-width="0.9" />
<text x="300.30" y="393.00" font-size="9.0" text-anchor="middle" fill="#1a1a1a" stroke="#1a1a1a" stroke-width="0.22" font-style="italic" transform="rotate(-90 300.30 393.00)" >Il1a</text>
<line x1="343.40" y1="362.40" x2="379.90" y2="362.40" stroke="#111" stroke-width="1.2" />
<text x="361.75" y="356.60" font-size="8.4" text-anchor="middle" textLength="30.60" lengthAdjust="spacingAndGlyphs" fill="#1a1a1a" stroke="#1a1a1a" stroke-width="0.22" >&lt;0.0001</text>
<path d="M474.40,412.20 L466.45,411.49 L462.33,410.77 L459.86,410.06 L459.40,409.35 L459.39,408.63 L459.39,407.92 L459.37,407.21 L459.36,406.50 L459.34,405.78 L459.32,405.07 L459.30,404.36 L459.27,403.64 L459.25,402.93 L459.22,402.22 L459.19,401.50 L459.17,400.79 L459.14,400.08 L459.12,399.37 L459.09,398.65 L459.07,397.94 L459.05,397.23 L459.03,396.51 L459.02,395.80 L459.01,395.09 L459.00,394.38 L459.00,393.66 L459.01,392.95 L459.04,392.24 L459.08,391.52 L459.13,390.81 L459.18,390.10 L459.23,389.38 L459.27,388.67 L459.29,387.96 L459.30,387.25 L459.29,386.53 L459.28,385.82 L459.25,385.11 L459.23,384.39 L459.19,383.68 L459.16,382.97 L459.13,382.25 L459.09,381.54 L459.06,380.83 L459.04,380.12 L459.02,379.40 L459.00,378.69 L459.00,377.98 L458.99,377.26 L458.98,376.55 L458.96,375.84 L458.93,375.12 L458.90,374.41 L458.87,373.70 L458.84,372.99 L458.81,372.27 L458.79,371.56 L458.77,370.85 L458.75,370.13 L458.75,369.42 L458.05,369.42 L458.05,370.13 L458.03,370.85 L458.01,371.56 L457.99,372.27 L457.96,372.99 L457.93,373.70 L457.90,374.41 L457.87,375.12 L457.84,375.84 L457.82,376.55 L457.81,377.26 L457.80,377.98 L457.80,378.69 L457.78,379.40 L457.76,380.12 L457.74,380.83 L457.71,381.54 L457.67,382.25 L457.64,382.97 L457.61,383.68 L457.57,384.39 L457.55,385.11 L457.52,385.82 L457.51,386.53 L457.50,387.25 L457.51,387.96 L457.53,388.67 L457.57,389.38 L457.62,390.10 L457.67,390.81 L457.72,391.52 L457.76,392.24 L457.79,392.95 L457.80,393.66 L457.80,394.38 L457.79,395.09 L457.78,395.80 L457.77,396.51 L457.75,397.23 L457.73,397.94 L457.71,398.65 L457.68,399.37 L457.66,400.08 L457.63,400.79 L457.61,401.50 L457.58,402.22 L457.55,402.93 L457.53,403.64 L457.50,404.36 L457.48,405.07 L457.46,405.78 L457.44,406.50 L457.43,407.21 L457.41,407.92 L457.41,408.63 L457.40,409.35 L456.94,410.06 L454.47,410.77 L450.35,411.49 L442.40,412.20 Z" fill="#2d72a8" stroke="#2a2a2a" stroke-width="0.9" stroke-linejoin="round"/>
<line x1="458.40" y1="412.20" x2="458.40" y2="369.42" stroke="#222" stroke-width="1.0" />
<path d="M516.10,412.20 L512.21,411.45 L507.92,410.69 L505.68,409.94 L503.67,409.18 L501.90,408.43 L501.11,407.67 L500.60,406.92 L500.60,406.17 L500.59,405.41 L500.58,404.66 L500.57,403.90 L500.56,403.15 L500.55,402.39 L500.53,401.64 L500.51,400.88 L500.50,400.13 L500.48,399.38 L500.46,398.62 L500.45,397.87 L500.43,397.11 L500.42,396.36 L500.41,395.60 L500.40,394.85 L500.40,394.10 L500.40,393.34 L500.43,392.59 L500.48,391.83 L500.54,391.08 L500.63,390.32 L500.72,389.57 L500.82,388.82 L500.91,388.06 L501.00,387.31 L501.08,386.55 L501.14,385.80 L501.19,385.04 L501.20,384.29 L501.18,383.54 L501.14,382.78 L501.08,382.03 L501.00,381.27 L500.91,380.52 L500.81,379.76 L500.72,379.01 L500.63,378.25 L500.54,377.50 L500.47,376.75 L500.43,375.99 L500.40,375.24 L500.39,374.48 L500.37,373.73 L500.33,372.97 L500.28,372.22 L500.22,371.47 L500.15,370.71 L500.09,369.96 L500.04,369.20 L499.99,368.45 L499.96,367.69 L499.95,366.94 L499.25,366.94 L499.24,367.69 L499.21,368.45 L499.16,369.20 L499.11,369.96 L499.05,370.71 L498.98,371.47 L498.92,372.22 L498.87,372.97 L498.83,373.73 L498.81,374.48 L498.80,375.24 L498.77,375.99 L498.73,376.75 L498.66,377.50 L498.57,378.25 L498.48,379.01 L498.39,379.76 L498.29,380.52 L498.20,381.27 L498.12,382.03 L498.06,382.78 L498.02,383.54 L498.00,384.29 L498.01,385.04 L498.06,385.80 L498.12,386.55 L498.20,387.31 L498.29,388.06 L498.38,388.82 L498.48,389.57 L498.57,390.32 L498.66,391.08 L498.72,391.83 L498.77,392.59 L498.80,393.34 L498.80,394.10 L498.80,394.85 L498.79,395.60 L498.78,396.36 L498.77,397.11 L498.75,397.87 L498.74,398.62 L498.72,399.38 L498.70,400.13 L498.69,400.88 L498.67,401.64 L498.65,402.39 L498.64,403.15 L498.63,403.90 L498.62,404.66 L498.61,405.41 L498.60,406.17 L498.60,406.92 L498.09,407.67 L497.30,408.43 L495.53,409.18 L493.52,409.94 L491.28,410.69 L486.99,411.45 L483.10,412.20 Z" fill="#e6822c" stroke="#2a2a2a" stroke-width="0.9" stroke-linejoin="round"/>
<line x1="499.60" y1="412.20" x2="499.60" y2="366.94" stroke="#222" stroke-width="1.0" />
<line x1="438.80" y1="365.40" x2="438.80" y2="414.60" stroke="#333" stroke-width="1.0" />
<line x1="438.80" y1="414.60" x2="519.80" y2="414.60" stroke="#333" stroke-width="1.0" />
<line x1="436.00" y1="412.20" x2="438.80" y2="412.20" stroke="#333" stroke-width="0.9" />
<text x="429.50" y="415.10" font-size="8.0" text-anchor="end" stroke="#222" stroke-width="0.22" >0</text>
<line x1="436.00" y1="381.20" x2="438.80" y2="381.20" stroke="#333" stroke-width="0.9" />
<text x="429.50" y="384.10" font-size="8.0" text-anchor="end" stroke="#222" stroke-width="0.22" >5</text>
<line x1="458.40" y1="414.60" x2="458.40" y2="417.40" stroke="#333" stroke-width="0.9" />
<line x1="499.60" y1="414.60" x2="499.60" y2="417.40" stroke="#333" stroke-width="0.9" />
<text x="418.80" y="392.50" font-size="9.0" text-anchor="middle" fill="#1a1a1a" stroke="#1a1a1a" stroke-width="0.22" font-style="italic" transform="rotate(-90 418.80 392.50)" >Il23a</text>
<line x1="459.60" y1="362.40" x2="497.20" y2="362.40" stroke="#111" stroke-width="1.2" />
<text x="478.50" y="356.60" font-size="8.4" text-anchor="middle" textLength="30.60" lengthAdjust="spacingAndGlyphs" fill="#1a1a1a" stroke="#1a1a1a" stroke-width="0.22" >&lt;0.0001</text>
<path d="M579.50,414.10 L579.50,413.37 L579.50,412.64 L579.50,411.90 L579.50,411.17 L579.50,410.44 L579.50,409.71 L579.50,408.98 L579.50,408.25 L579.50,407.51 L579.50,406.78 L579.50,406.05 L579.50,405.32 L579.50,404.59 L579.50,403.86 L579.50,403.12 L579.51,402.39 L579.52,401.66 L579.54,400.93 L579.56,400.20 L579.59,399.47 L579.62,398.73 L579.64,398.00 L579.67,397.27 L579.68,396.54 L579.70,395.81 L579.70,395.08 L579.79,394.34 L579.99,393.61 L580.26,392.88 L580.56,392.15 L580.85,391.42 L581.07,390.69 L581.19,389.95 L581.31,389.22 L581.85,388.49 L582.68,387.76 L583.66,387.03 L584.65,386.30 L585.50,385.56 L586.06,384.83 L586.23,384.10 L586.90,383.37 L588.15,382.64 L589.65,381.91 L591.04,381.17 L591.99,380.44 L592.27,379.71 L593.12,378.98 L594.34,378.25 L595.21,377.52 L594.95,376.78 L593.41,376.05 L591.64,375.32 L590.71,374.59 L589.61,373.86 L586.99,373.12 L584.50,372.39 L583.58,371.66 L581.17,370.93 L579.30,370.20 L578.10,370.20 L576.23,370.93 L573.82,371.66 L572.90,372.39 L570.41,373.12 L567.79,373.86 L566.69,374.59 L565.76,375.32 L563.99,376.05 L562.45,376.78 L562.19,377.52 L563.06,378.25 L564.28,378.98 L565.13,379.71 L565.41,380.44 L566.36,381.17 L567.75,381.91 L569.25,382.64 L570.50,383.37 L571.17,384.10 L571.34,384.83 L571.90,385.56 L572.75,386.30 L573.74,387.03 L574.72,387.76 L575.55,388.49 L576.09,389.22 L576.21,389.95 L576.33,390.69 L576.55,391.42 L576.84,392.15 L577.14,392.88 L577.41,393.61 L577.61,394.34 L577.70,395.08 L577.70,395.81 L577.72,396.54 L577.73,397.27 L577.76,398.00 L577.78,398.73 L577.81,399.47 L577.84,400.20 L577.86,400.93 L577.88,401.66 L577.89,402.39 L577.90,403.12 L577.90,403.86 L577.90,404.59 L577.90,405.32 L577.90,406.05 L577.90,406.78 L577.90,407.51 L577.90,408.25 L577.90,408.98 L577.90,409.71 L577.90,410.44 L577.90,411.17 L577.90,411.90 L577.90,412.64 L577.90,413.37 L577.90,414.10 Z" fill="#2d72a8" stroke="#2a2a2a" stroke-width="0.9" stroke-linejoin="round"/>
<line x1="578.70" y1="414.10" x2="578.70" y2="370.20" stroke="#222" stroke-width="1.0" />
<path d="M620.30,414.10 L620.30,413.38 L620.30,412.65 L620.30,411.93 L620.30,411.21 L620.30,410.49 L620.30,409.76 L620.30,409.04 L620.30,408.32 L620.30,407.60 L620.30,406.87 L620.30,406.15 L620.30,405.43 L620.30,404.71 L620.30,403.98 L620.30,403.26 L620.31,402.54 L620.32,401.81 L620.35,401.09 L620.37,400.37 L620.40,399.65 L620.43,398.92 L620.46,398.20 L620.48,397.48 L620.50,396.76 L620.51,396.03 L620.68,395.31 L621.02,394.59 L621.44,393.87 L621.88,393.14 L622.25,392.42 L622.47,391.70 L622.57,390.97 L623.07,390.25 L623.93,389.53 L625.02,388.81 L626.19,388.08 L627.31,387.36 L628.25,386.64 L628.85,385.92 L629.02,385.19 L629.37,384.47 L630.08,383.75 L631.00,383.03 L632.00,382.30 L632.92,381.58 L633.63,380.86 L633.98,380.13 L634.22,379.41 L634.95,378.69 L635.73,377.97 L636.10,377.24 L635.21,376.52 L633.30,375.80 L631.53,375.08 L630.92,374.35 L629.31,373.63 L626.79,372.91 L624.82,372.19 L623.36,371.46 L620.10,370.74 L618.90,370.74 L615.64,371.46 L614.18,372.19 L612.21,372.91 L609.69,373.63 L608.08,374.35 L607.47,375.08 L605.70,375.80 L603.79,376.52 L602.90,377.24 L603.27,377.97 L604.05,378.69 L604.78,379.41 L605.02,380.13 L605.37,380.86 L606.08,381.58 L607.00,382.30 L608.00,383.03 L608.92,383.75 L609.63,384.47 L609.98,385.19 L610.15,385.92 L610.75,386.64 L611.69,387.36 L612.81,388.08 L613.98,388.81 L615.07,389.53 L615.93,390.25 L616.43,390.97 L616.53,391.70 L616.75,392.42 L617.12,393.14 L617.56,393.87 L617.98,394.59 L618.32,395.31 L618.49,396.03 L618.50,396.76 L618.52,397.48 L618.54,398.20 L618.57,398.92 L618.60,399.65 L618.63,400.37 L618.65,401.09 L618.68,401.81 L618.69,402.54 L618.70,403.26 L618.70,403.98 L618.70,404.71 L618.70,405.43 L618.70,406.15 L618.70,406.87 L618.70,407.60 L618.70,408.32 L618.70,409.04 L618.70,409.76 L618.70,410.49 L618.70,411.21 L618.70,411.93 L618.70,412.65 L618.70,413.38 L618.70,414.10 Z" fill="#e6822c" stroke="#2a2a2a" stroke-width="0.9" stroke-linejoin="round"/>
<line x1="619.50" y1="414.10" x2="619.50" y2="370.74" stroke="#222" stroke-width="1.0" />
<line x1="558.20" y1="367.20" x2="558.20" y2="415.80" stroke="#333" stroke-width="1.0" />
<line x1="558.20" y1="415.80" x2="640.50" y2="415.80" stroke="#333" stroke-width="1.0" />
<line x1="555.40" y1="414.10" x2="558.20" y2="414.10" stroke="#333" stroke-width="0.9" />
<text x="551.50" y="417.00" font-size="8.0" text-anchor="end" stroke="#222" stroke-width="0.22" >0</text>
<line x1="555.40" y1="387.00" x2="558.20" y2="387.00" stroke="#333" stroke-width="0.9" />
<text x="551.50" y="389.90" font-size="8.0" text-anchor="end" stroke="#222" stroke-width="0.22" >5</text>
<line x1="578.70" y1="415.80" x2="578.70" y2="418.60" stroke="#333" stroke-width="0.9" />
<line x1="619.50" y1="415.80" x2="619.50" y2="418.60" stroke="#333" stroke-width="0.9" />
<text x="532.40" y="393.50" font-size="9.0" text-anchor="middle" fill="#1a1a1a" stroke="#1a1a1a" stroke-width="0.22" font-style="italic" transform="rotate(-90 532.40 393.50)" >Il1b</text>
<path d="M358.80,491.50 L355.45,490.77 L352.31,490.03 L350.36,489.30 L348.13,488.57 L346.35,487.83 L345.39,487.10 L343.99,486.37 L343.66,485.63 L343.21,484.90 L343.20,484.16 L343.19,483.43 L343.17,482.70 L343.15,481.96 L343.12,481.23 L343.09,480.50 L343.06,479.76 L343.03,479.03 L342.99,478.30 L342.96,477.56 L342.93,476.83 L342.89,476.10 L342.87,475.36 L342.84,474.63 L342.82,473.89 L342.81,473.16 L342.80,472.43 L342.81,471.69 L342.87,470.96 L342.98,470.23 L343.10,469.49 L343.22,468.76 L343.33,468.03 L343.39,467.29 L343.41,466.56 L343.54,465.83 L343.75,465.09 L344.02,464.36 L344.29,463.62 L344.52,462.89 L344.67,462.16 L344.69,461.42 L344.58,460.69 L344.38,459.96 L344.11,459.22 L343.84,458.49 L343.61,457.76 L343.45,457.02 L343.40,456.29 L343.33,455.56 L343.21,454.82 L343.05,454.09 L342.90,453.35 L342.79,452.62 L342.75,451.89 L342.73,451.15 L342.70,450.42 L342.65,449.69 L342.60,448.95 L342.56,448.22 L342.55,447.49 L341.85,447.49 L341.84,448.22 L341.80,448.95 L341.75,449.69 L341.70,450.42 L341.67,451.15 L341.65,451.89 L341.61,452.62 L341.50,453.35 L341.35,454.09 L341.19,454.82 L341.07,455.56 L341.00,456.29 L340.95,457.02 L340.79,457.76 L340.56,458.49 L340.29,459.22 L340.02,459.96 L339.82,460.69 L339.71,461.42 L339.73,462.16 L339.88,462.89 L340.11,463.62 L340.38,464.36 L340.65,465.09 L340.86,465.83 L340.99,466.56 L341.01,467.29 L341.07,468.03 L341.18,468.76 L341.30,469.49 L341.42,470.23 L341.53,470.96 L341.59,471.69 L341.60,472.43 L341.59,473.16 L341.58,473.89 L341.56,474.63 L341.53,475.36 L341.51,476.10 L341.47,476.83 L341.44,477.56 L341.41,478.30 L341.37,479.03 L341.34,479.76 L341.31,480.50 L341.28,481.23 L341.25,481.96 L341.23,482.70 L341.21,483.43 L341.20,484.16 L341.19,484.90 L340.74,485.63 L340.41,486.37 L339.01,487.10 L338.05,487.83 L336.27,488.57 L334.04,489.30 L332.09,490.03 L328.95,490.77 L325.60,491.50 Z" fill="#2d72a8" stroke="#2a2a2a" stroke-width="0.9" stroke-linejoin="round"/>
<line x1="342.20" y1="491.50" x2="342.20" y2="447.49" stroke="#222" stroke-width="1.0" />
<path d="M398.90,491.50 L396.08,490.77 L394.77,490.03 L392.11,489.30 L390.60,488.57 L389.64,487.83 L387.82,487.10 L386.53,486.37 L386.14,485.63 L385.12,484.90 L384.16,484.16 L383.91,483.43 L383.59,482.70 L383.31,481.96 L383.32,481.23 L383.38,480.50 L383.47,479.76 L383.57,479.03 L383.65,478.30 L383.70,477.56 L383.77,476.83 L384.07,476.10 L384.53,475.36 L385.06,474.63 L385.59,473.89 L386.02,473.16 L386.27,472.43 L386.32,471.69 L386.43,470.96 L386.62,470.23 L386.89,469.49 L387.21,468.76 L387.56,468.03 L387.93,467.29 L388.30,466.56 L388.66,465.83 L388.98,465.09 L389.25,464.36 L389.46,463.62 L389.58,462.89 L389.59,462.16 L389.49,461.42 L389.29,460.69 L389.02,459.96 L388.70,459.22 L388.36,458.49 L388.03,457.76 L387.74,457.02 L387.50,456.29 L387.34,455.56 L387.29,454.82 L387.08,454.09 L386.63,453.35 L386.05,452.62 L385.42,451.89 L384.85,451.15 L384.45,450.42 L384.30,449.69 L383.86,448.95 L383.10,448.22 L382.70,447.49 L381.90,447.49 L381.50,448.22 L380.74,448.95 L380.30,449.69 L380.15,450.42 L379.75,451.15 L379.18,451.89 L378.55,452.62 L377.97,453.35 L377.52,454.09 L377.31,454.82 L377.26,455.56 L377.10,456.29 L376.86,457.02 L376.57,457.76 L376.24,458.49 L375.90,459.22 L375.58,459.96 L375.31,460.69 L375.11,461.42 L375.01,462.16 L375.02,462.89 L375.14,463.62 L375.35,464.36 L375.62,465.09 L375.94,465.83 L376.30,466.56 L376.67,467.29 L377.04,468.03 L377.39,468.76 L377.71,469.49 L377.98,470.23 L378.17,470.96 L378.28,471.69 L378.33,472.43 L378.58,473.16 L379.01,473.89 L379.54,474.63 L380.07,475.36 L380.53,476.10 L380.83,476.83 L380.90,477.56 L380.95,478.30 L381.03,479.03 L381.13,479.76 L381.22,480.50 L381.28,481.23 L381.29,481.96 L381.01,482.70 L380.69,483.43 L380.44,484.16 L379.48,484.90 L378.46,485.63 L378.07,486.37 L376.78,487.10 L374.96,487.83 L374.00,488.57 L372.49,489.30 L369.83,490.03 L368.52,490.77 L365.70,491.50 Z" fill="#e6822c" stroke="#2a2a2a" stroke-width="0.9" stroke-linejoin="round"/>
<line x1="382.30" y1="491.50" x2="382.30" y2="447.49" stroke="#222" stroke-width="1.0" />
<line x1="322.10" y1="444.50" x2="322.10" y2="493.70" stroke="#333" stroke-width="1.0" />
<line x1="322.10" y1="493.70" x2="402.10" y2="493.70" stroke="#333" stroke-width="1.0" />
<line x1="319.30" y1="491.50" x2="322.10" y2="491.50" stroke="#333" stroke-width="0.9" />
<text x="312.80" y="494.40" font-size="8.0" text-anchor="end" stroke="#222" stroke-width="0.22" >0</text>
<line x1="319.30" y1="454.20" x2="322.10" y2="454.20" stroke="#333" stroke-width="0.9" />
<text x="312.80" y="457.10" font-size="8.0" text-anchor="end" stroke="#222" stroke-width="0.22" >5</text>
<line x1="342.20" y1="493.70" x2="342.20" y2="496.50" stroke="#333" stroke-width="0.9" />
<line x1="382.30" y1="493.70" x2="382.30" y2="496.50" stroke="#333" stroke-width="0.9" />
<text x="300.50" y="471.00" font-size="9.0" text-anchor="middle" fill="#1a1a1a" stroke="#1a1a1a" stroke-width="0.22" font-style="italic" transform="rotate(-90 300.50 471.00)" >Tgfb1</text>
<line x1="343.40" y1="441.50" x2="379.90" y2="441.50" stroke="#111" stroke-width="1.2" />
<text x="361.75" y="435.70" font-size="8.4" text-anchor="middle" textLength="30.60" lengthAdjust="spacingAndGlyphs" fill="#1a1a1a" stroke="#1a1a1a" stroke-width="0.22" >&lt;0.0001</text>
<path d="M474.60,491.30 L471.17,490.68 L467.34,490.06 L465.71,489.44 L462.97,488.81 L462.01,488.19 L460.36,487.57 L459.87,486.95 L459.41,486.33 L459.40,485.71 L459.40,485.08 L459.39,484.46 L459.39,483.84 L459.39,483.22 L459.38,482.60 L459.37,481.98 L459.37,481.35 L459.36,480.73 L459.35,480.11 L459.35,479.49 L459.34,478.87 L459.33,478.25 L459.32,477.62 L459.32,477.00 L459.31,476.38 L459.31,475.76 L459.30,475.14 L459.30,474.52 L459.30,473.90 L459.31,473.27 L459.37,472.65 L459.50,472.03 L459.65,471.41 L459.82,470.79 L460.00,470.17 L460.14,469.54 L460.25,468.92 L460.30,468.30 L460.28,467.68 L460.22,467.06 L460.12,466.44 L459.99,465.81 L459.85,465.19 L459.71,464.57 L459.58,463.95 L459.46,463.33 L459.36,462.71 L459.31,462.08 L459.30,461.46 L459.28,460.84 L459.25,460.22 L459.21,459.60 L459.16,458.98 L459.10,458.36 L459.04,457.73 L458.98,457.11 L458.92,456.49 L458.87,455.87 L458.83,455.25 L458.81,454.63 L458.80,454.00 L458.00,454.00 L457.99,454.63 L457.97,455.25 L457.93,455.87 L457.88,456.49 L457.82,457.11 L457.76,457.73 L457.70,458.36 L457.64,458.98 L457.59,459.60 L457.55,460.22 L457.52,460.84 L457.50,461.46 L457.49,462.08 L457.44,462.71 L457.34,463.33 L457.22,463.95 L457.09,464.57 L456.95,465.19 L456.81,465.81 L456.68,466.44 L456.58,467.06 L456.52,467.68 L456.50,468.30 L456.55,468.92 L456.66,469.54 L456.80,470.17 L456.98,470.79 L457.15,471.41 L457.30,472.03 L457.43,472.65 L457.49,473.27 L457.50,473.90 L457.50,474.52 L457.50,475.14 L457.49,475.76 L457.49,476.38 L457.48,477.00 L457.48,477.62 L457.47,478.25 L457.46,478.87 L457.45,479.49 L457.45,480.11 L457.44,480.73 L457.43,481.35 L457.43,481.98 L457.42,482.60 L457.41,483.22 L457.41,483.84 L457.41,484.46 L457.40,485.08 L457.40,485.71 L457.39,486.33 L456.93,486.95 L456.44,487.57 L454.79,488.19 L453.83,488.81 L451.09,489.44 L449.46,490.06 L445.63,490.68 L442.20,491.30 Z" fill="#2d72a8" stroke="#2a2a2a" stroke-width="0.9" stroke-linejoin="round"/>
<line x1="458.40" y1="491.30" x2="458.40" y2="454.00" stroke="#222" stroke-width="1.0" />
<path d="M516.00,491.30 L512.76,490.55 L510.71,489.80 L507.92,489.05 L506.91,488.30 L504.71,487.55 L503.68,486.80 L502.74,486.05 L501.49,485.30 L501.16,484.55 L500.75,483.80 L500.60,483.05 L500.63,482.30 L500.69,481.55 L500.74,480.80 L500.79,480.05 L500.81,479.30 L501.01,478.55 L501.43,477.80 L501.99,477.05 L502.61,476.30 L503.21,475.55 L503.71,474.80 L504.03,474.05 L504.11,473.30 L504.20,472.55 L504.38,471.80 L504.64,471.05 L504.94,470.30 L505.29,469.55 L505.64,468.80 L505.99,468.05 L506.30,467.30 L506.57,466.55 L506.77,465.80 L506.88,465.05 L506.89,464.30 L506.78,463.55 L506.58,462.81 L506.32,462.06 L506.00,461.31 L505.66,460.56 L505.30,459.81 L504.96,459.06 L504.65,458.31 L504.39,457.56 L504.20,456.81 L504.11,456.06 L504.05,455.31 L503.80,454.56 L503.40,453.81 L502.91,453.06 L502.40,452.31 L501.94,451.56 L501.59,450.81 L501.41,450.06 L501.31,449.31 L500.97,448.56 L500.54,447.81 L500.16,447.06 L500.00,446.31 L499.20,446.31 L499.04,447.06 L498.66,447.81 L498.23,448.56 L497.89,449.31 L497.79,450.06 L497.61,450.81 L497.26,451.56 L496.80,452.31 L496.29,453.06 L495.80,453.81 L495.40,454.56 L495.15,455.31 L495.09,456.06 L495.00,456.81 L494.81,457.56 L494.55,458.31 L494.24,459.06 L493.90,459.81 L493.54,460.56 L493.20,461.31 L492.88,462.06 L492.62,462.81 L492.42,463.55 L492.31,464.30 L492.32,465.05 L492.43,465.80 L492.63,466.55 L492.90,467.30 L493.21,468.05 L493.56,468.80 L493.91,469.55 L494.26,470.30 L494.56,471.05 L494.82,471.80 L495.00,472.55 L495.09,473.30 L495.17,474.05 L495.49,474.80 L495.99,475.55 L496.59,476.30 L497.21,477.05 L497.77,477.80 L498.19,478.55 L498.39,479.30 L498.41,480.05 L498.46,480.80 L498.51,481.55 L498.57,482.30 L498.60,483.05 L498.45,483.80 L498.04,484.55 L497.71,485.30 L496.46,486.05 L495.52,486.80 L494.49,487.55 L492.29,488.30 L491.28,489.05 L488.49,489.80 L486.44,490.55 L483.20,491.30 Z" fill="#e6822c" stroke="#2a2a2a" stroke-width="0.9" stroke-linejoin="round"/>
<line x1="499.60" y1="491.30" x2="499.60" y2="446.31" stroke="#222" stroke-width="1.0" />
<line x1="438.60" y1="444.50" x2="438.60" y2="493.70" stroke="#333" stroke-width="1.0" />
<line x1="438.60" y1="493.70" x2="519.80" y2="493.70" stroke="#333" stroke-width="1.0" />
<line x1="435.80" y1="491.30" x2="438.60" y2="491.30" stroke="#333" stroke-width="0.9" />
<text x="429.30" y="494.20" font-size="8.0" text-anchor="end" stroke="#222" stroke-width="0.22" >0</text>
<line x1="435.80" y1="461.70" x2="438.60" y2="461.70" stroke="#333" stroke-width="0.9" />
<text x="429.30" y="464.60" font-size="8.0" text-anchor="end" stroke="#222" stroke-width="0.22" >5</text>
<line x1="458.40" y1="493.70" x2="458.40" y2="496.50" stroke="#333" stroke-width="0.9" />
<line x1="499.60" y1="493.70" x2="499.60" y2="496.50" stroke="#333" stroke-width="0.9" />
<text x="417.50" y="471.50" font-size="9.0" text-anchor="middle" fill="#1a1a1a" stroke="#1a1a1a" stroke-width="0.22" font-style="italic" transform="rotate(-90 417.50 471.50)" >Tnf</text>
<line x1="459.60" y1="441.50" x2="497.20" y2="441.50" stroke="#111" stroke-width="1.2" />
<text x="478.50" y="435.70" font-size="8.4" text-anchor="middle" textLength="30.60" lengthAdjust="spacingAndGlyphs" fill="#1a1a1a" stroke="#1a1a1a" stroke-width="0.22" >&lt;0.0001</text>
<path d="M595.20,489.60 L587.54,488.85 L582.96,488.11 L580.25,487.36 L579.30,486.61 L579.30,485.87 L579.29,485.12 L579.27,484.37 L579.25,483.62 L579.23,482.88 L579.20,482.13 L579.18,481.38 L579.14,480.64 L579.11,479.89 L579.07,479.14 L579.04,478.40 L579.00,477.65 L578.96,476.90 L578.93,476.15 L578.90,475.41 L578.86,474.66 L578.84,473.91 L578.81,473.17 L578.79,472.42 L578.77,471.67 L578.76,470.93 L578.75,470.18 L578.75,469.43 L578.75,468.68 L578.75,467.94 L578.75,467.19 L578.75,466.44 L578.74,465.70 L578.74,464.95 L578.74,464.20 L578.73,463.46 L578.73,462.71 L578.73,461.96 L578.72,461.21 L578.72,460.47 L578.71,459.72 L578.71,458.97 L578.71,458.23 L578.70,457.48 L578.70,456.73 L578.69,455.99 L578.69,455.24 L578.68,454.49 L578.68,453.74 L578.68,453.00 L578.67,452.25 L578.67,451.50 L578.66,450.76 L578.66,450.01 L578.66,449.26 L578.66,448.52 L578.65,447.77 L578.65,447.02 L578.65,446.27 L578.65,445.53 L578.65,444.78 L577.95,444.78 L577.95,445.53 L577.95,446.27 L577.95,447.02 L577.95,447.77 L577.94,448.52 L577.94,449.26 L577.94,450.01 L577.94,450.76 L577.93,451.50 L577.93,452.25 L577.92,453.00 L577.92,453.74 L577.92,454.49 L577.91,455.24 L577.91,455.99 L577.90,456.73 L577.90,457.48 L577.89,458.23 L577.89,458.97 L577.89,459.72 L577.88,460.47 L577.88,461.21 L577.87,461.96 L577.87,462.71 L577.87,463.46 L577.86,464.20 L577.86,464.95 L577.86,465.70 L577.85,466.44 L577.85,467.19 L577.85,467.94 L577.85,468.68 L577.85,469.43 L577.85,470.18 L577.84,470.93 L577.83,471.67 L577.81,472.42 L577.79,473.17 L577.76,473.91 L577.74,474.66 L577.70,475.41 L577.67,476.15 L577.64,476.90 L577.60,477.65 L577.56,478.40 L577.53,479.14 L577.49,479.89 L577.46,480.64 L577.42,481.38 L577.40,482.13 L577.37,482.88 L577.35,483.62 L577.33,484.37 L577.31,485.12 L577.30,485.87 L577.30,486.61 L576.35,487.36 L573.64,488.11 L569.06,488.85 L561.40,489.60 Z" fill="#2d72a8" stroke="#2a2a2a" stroke-width="0.9" stroke-linejoin="round"/>
<line x1="578.30" y1="489.60" x2="578.30" y2="444.78" stroke="#222" stroke-width="1.0" />
<path d="M635.90,489.60 L628.24,488.85 L623.66,488.11 L620.95,487.36 L620.00,486.61 L620.00,485.87 L619.99,485.12 L619.97,484.37 L619.95,483.62 L619.93,482.88 L619.90,482.13 L619.88,481.38 L619.84,480.64 L619.81,479.89 L619.77,479.14 L619.74,478.40 L619.70,477.65 L619.66,476.90 L619.63,476.15 L619.60,475.41 L619.56,474.66 L619.54,473.91 L619.51,473.17 L619.49,472.42 L619.47,471.67 L619.46,470.93 L619.45,470.18 L619.45,469.43 L619.45,468.68 L619.45,467.94 L619.45,467.19 L619.45,466.44 L619.44,465.70 L619.44,464.95 L619.44,464.20 L619.43,463.46 L619.43,462.71 L619.43,461.96 L619.42,461.21 L619.42,460.47 L619.41,459.72 L619.41,458.97 L619.41,458.23 L619.40,457.48 L619.40,456.73 L619.39,455.99 L619.39,455.24 L619.38,454.49 L619.38,453.74 L619.38,453.00 L619.37,452.25 L619.37,451.50 L619.36,450.76 L619.36,450.01 L619.36,449.26 L619.36,448.52 L619.35,447.77 L619.35,447.02 L619.35,446.27 L619.35,445.53 L619.35,444.78 L618.65,444.78 L618.65,445.53 L618.65,446.27 L618.65,447.02 L618.65,447.77 L618.64,448.52 L618.64,449.26 L618.64,450.01 L618.64,450.76 L618.63,451.50 L618.63,452.25 L618.62,453.00 L618.62,453.74 L618.62,454.49 L618.61,455.24 L618.61,455.99 L618.60,456.73 L618.60,457.48 L618.59,458.23 L618.59,458.97 L618.59,459.72 L618.58,460.47 L618.58,461.21 L618.57,461.96 L618.57,462.71 L618.57,463.46 L618.56,464.20 L618.56,464.95 L618.56,465.70 L618.55,466.44 L618.55,467.19 L618.55,467.94 L618.55,468.68 L618.55,469.43 L618.55,470.18 L618.54,470.93 L618.53,471.67 L618.51,472.42 L618.49,473.17 L618.46,473.91 L618.44,474.66 L618.40,475.41 L618.37,476.15 L618.34,476.90 L618.30,477.65 L618.26,478.40 L618.23,479.14 L618.19,479.89 L618.16,480.64 L618.12,481.38 L618.10,482.13 L618.07,482.88 L618.05,483.62 L618.03,484.37 L618.01,485.12 L618.00,485.87 L618.00,486.61 L617.05,487.36 L614.34,488.11 L609.76,488.85 L602.10,489.60 Z" fill="#e6822c" stroke="#2a2a2a" stroke-width="0.9" stroke-linejoin="round"/>
<line x1="619.00" y1="489.60" x2="619.00" y2="444.78" stroke="#222" stroke-width="1.0" />
<line x1="558.00" y1="442.40" x2="558.00" y2="491.00" stroke="#333" stroke-width="1.0" />
<line x1="558.00" y1="491.00" x2="640.50" y2="491.00" stroke="#333" stroke-width="1.0" />
<line x1="555.20" y1="489.60" x2="558.00" y2="489.60" stroke="#333" stroke-width="0.9" />
<text x="552.40" y="492.50" font-size="8.0" text-anchor="end" stroke="#222" stroke-width="0.22" >0.0</text>
<line x1="555.20" y1="464.70" x2="558.00" y2="464.70" stroke="#333" stroke-width="0.9" />
<text x="552.40" y="467.60" font-size="8.0" text-anchor="end" stroke="#222" stroke-width="0.22" >2.5</text>
<line x1="578.30" y1="491.00" x2="578.30" y2="493.80" stroke="#333" stroke-width="0.9" />
<line x1="619.00" y1="491.00" x2="619.00" y2="493.80" stroke="#333" stroke-width="0.9" />
<text x="532.40" y="470.00" font-size="9.0" text-anchor="middle" fill="#1a1a1a" stroke="#1a1a1a" stroke-width="0.22" font-style="italic" transform="rotate(-90 532.40 470.00)" >Il6</text>
<text x="283.70" y="538.00" font-size="14.5" fill="#000" stroke="#000" stroke-width="0.22" font-weight="bold" >e</text>
<circle cx="319.90" cy="531.00" r="3.2" fill="#a3a3a3" stroke="#222" stroke-width="0.8"/>
<circle cx="319.90" cy="547.80" r="3.2" fill="#e60000" stroke="#222" stroke-width="0.8"/>
<text x="329.70" y="534.50" font-size="9.6" textLength="33.10" lengthAdjust="spacingAndGlyphs" fill="#1a1a1a" stroke="#1a1a1a" stroke-width="0.22" ><tspan font-style="italic">Epx</tspan><tspan dy="-3.60" font-size="6.53">Cre/+</tspan></text>
<text x="329.70" y="550.90" font-size="9.6" textLength="69.90" lengthAdjust="spacingAndGlyphs" fill="#1a1a1a" stroke="#1a1a1a" stroke-width="0.22" ><tspan font-style="italic">Epx</tspan><tspan dy="-3.60" font-size="6.53">Cre/+</tspan><tspan dy="3.6" font-style="italic">Gpr43</tspan><tspan dy="-3.60" font-size="6.53">fl/fl</tspan></text>
<line x1="322.00" y1="565.30" x2="322.00" y2="670.40" stroke="#111" stroke-width="1.3" />
<line x1="321.40" y1="669.80" x2="468.50" y2="669.80" stroke="#111" stroke-width="1.3" />
<line x1="318.80" y1="669.80" x2="322.00" y2="669.80" stroke="#111" stroke-width="1.1" />
<text x="318.40" y="672.80" font-size="8.3" text-anchor="end" stroke="#222" stroke-width="0.22" >0</text>
<line x1="318.80" y1="643.68" x2="322.00" y2="643.68" stroke="#111" stroke-width="1.1" />
<text x="318.40" y="646.68" font-size="8.3" text-anchor="end" stroke="#222" stroke-width="0.22" >10</text>
<line x1="318.80" y1="617.56" x2="322.00" y2="617.56" stroke="#111" stroke-width="1.1" />
<text x="318.40" y="620.56" font-size="8.3" text-anchor="end" stroke="#222" stroke-width="0.22" >20</text>
<line x1="318.80" y1="591.44" x2="322.00" y2="591.44" stroke="#111" stroke-width="1.1" />
<text x="318.40" y="594.44" font-size="8.3" text-anchor="end" stroke="#222" stroke-width="0.22" >30</text>
<line x1="318.80" y1="565.32" x2="322.00" y2="565.32" stroke="#111" stroke-width="1.1" />
<text x="318.40" y="568.32" font-size="8.3" text-anchor="end" stroke="#222" stroke-width="0.22" >40</text>
<line x1="322.00" y1="669.80" x2="322.00" y2="673.00" stroke="#111" stroke-width="1.1" />
<text x="322.00" y="683.60" font-size="8.3" text-anchor="middle" stroke="#222" stroke-width="0.22" >0.0</text>
<line x1="370.60" y1="669.80" x2="370.60" y2="673.00" stroke="#111" stroke-width="1.1" />
<text x="370.60" y="683.60" font-size="8.3" text-anchor="middle" stroke="#222" stroke-width="0.22" >0.5</text>
<line x1="419.20" y1="669.80" x2="419.20" y2="673.00" stroke="#111" stroke-width="1.1" />
<text x="419.20" y="683.60" font-size="8.3" text-anchor="middle" stroke="#222" stroke-width="0.22" >1.0</text>
<line x1="467.80" y1="669.80" x2="467.80" y2="673.00" stroke="#111" stroke-width="1.1" />
<text x="467.80" y="683.60" font-size="8.3" text-anchor="middle" stroke="#222" stroke-width="0.22" >1.5</text>
<line x1="356.20" y1="669.80" x2="442.90" y2="634.40" stroke="#111" stroke-width="1.2" />
<circle cx="368.00" cy="646.70" r="2.8" fill="#a3a3a3" stroke="#222" stroke-width="0.7"/>
<circle cx="373.30" cy="649.90" r="2.8" fill="#a3a3a3" stroke="#222" stroke-width="0.7"/>
<circle cx="341.00" cy="667.20" r="2.8" fill="#a3a3a3" stroke="#222" stroke-width="0.7"/>
<circle cx="348.80" cy="664.30" r="2.8" fill="#a3a3a3" stroke="#222" stroke-width="0.7"/>
<circle cx="351.00" cy="667.70" r="2.8" fill="#a3a3a3" stroke="#222" stroke-width="0.7"/>
<circle cx="348.80" cy="669.80" r="2.8" fill="#a3a3a3" stroke="#222" stroke-width="0.7"/>
<circle cx="365.40" cy="666.40" r="2.8" fill="#a3a3a3" stroke="#222" stroke-width="0.7"/>
<circle cx="368.00" cy="669.00" r="2.8" fill="#a3a3a3" stroke="#222" stroke-width="0.7"/>
<circle cx="400.90" cy="667.20" r="2.8" fill="#a3a3a3" stroke="#222" stroke-width="0.7"/>
<circle cx="436.30" cy="578.90" r="2.8" fill="#e60000" stroke="#222" stroke-width="0.7"/>
<circle cx="442.90" cy="625.20" r="2.8" fill="#e60000" stroke="#222" stroke-width="0.7"/>
<circle cx="394.30" cy="634.90" r="2.8" fill="#e60000" stroke="#222" stroke-width="0.7"/>
<circle cx="364.60" cy="656.70" r="2.8" fill="#e60000" stroke="#222" stroke-width="0.7"/>
<circle cx="423.20" cy="656.40" r="2.8" fill="#e60000" stroke="#222" stroke-width="0.7"/>
<circle cx="423.20" cy="665.90" r="2.8" fill="#e60000" stroke="#222" stroke-width="0.7"/>
<circle cx="391.70" cy="663.30" r="2.8" fill="#e60000" stroke="#222" stroke-width="0.7"/>
<circle cx="399.50" cy="663.00" r="2.8" fill="#e60000" stroke="#222" stroke-width="0.7"/>
<circle cx="399.50" cy="666.40" r="2.8" fill="#e60000" stroke="#222" stroke-width="0.7"/>
<circle cx="373.30" cy="663.00" r="2.8" fill="#e60000" stroke="#222" stroke-width="0.7"/>
<circle cx="375.10" cy="664.60" r="2.8" fill="#e60000" stroke="#222" stroke-width="0.7"/>
<circle cx="364.60" cy="664.30" r="2.8" fill="#e60000" stroke="#222" stroke-width="0.7"/>
<text x="334.60" y="578.90" font-size="9.0" textLength="38.70" lengthAdjust="spacingAndGlyphs" stroke="#222" stroke-width="0.22" >r<tspan dy="-3.40" font-size="6.12">2</tspan><tspan dy="3.4">: 0.3334</tspan></text>
<text x="336.50" y="588.50" font-size="9.0" textLength="36.90" lengthAdjust="spacingAndGlyphs" stroke="#222" stroke-width="0.22" >p: 0.0010</text>
<text x="345.70" y="696.60" font-size="9.0" textLength="99.80" lengthAdjust="spacingAndGlyphs" stroke="#222" stroke-width="0.22" >Siglec-F<tspan dy="-3.40" font-size="6.12">hi</tspan><tspan dy="3.4"> neutrophils&#160; (%)</tspan></text>
<line x1="507.40" y1="572.50" x2="507.40" y2="677.10" stroke="#111" stroke-width="1.3" />
<line x1="506.80" y1="676.50" x2="652.00" y2="676.50" stroke="#111" stroke-width="1.3" />
<line x1="504.20" y1="676.50" x2="507.40" y2="676.50" stroke="#111" stroke-width="1.1" />
<text x="503.80" y="679.50" font-size="8.3" text-anchor="end" stroke="#222" stroke-width="0.22" >0</text>
<line x1="504.20" y1="650.50" x2="507.40" y2="650.50" stroke="#111" stroke-width="1.1" />
<text x="503.80" y="653.50" font-size="8.3" text-anchor="end" stroke="#222" stroke-width="0.22" >5</text>
<line x1="504.20" y1="624.50" x2="507.40" y2="624.50" stroke="#111" stroke-width="1.1" />
<text x="503.80" y="627.50" font-size="8.3" text-anchor="end" stroke="#222" stroke-width="0.22" >10</text>
<line x1="504.20" y1="598.50" x2="507.40" y2="598.50" stroke="#111" stroke-width="1.1" />
<text x="503.80" y="601.50" font-size="8.3" text-anchor="end" stroke="#222" stroke-width="0.22" >15</text>
<line x1="504.20" y1="572.50" x2="507.40" y2="572.50" stroke="#111" stroke-width="1.1" />
<text x="503.80" y="575.50" font-size="8.3" text-anchor="end" stroke="#222" stroke-width="0.22" >20</text>
<line x1="507.40" y1="676.50" x2="507.40" y2="679.70" stroke="#111" stroke-width="1.1" />
<text x="507.40" y="689.90" font-size="8.3" text-anchor="middle" stroke="#222" stroke-width="0.22" >0.0</text>
<line x1="555.05" y1="676.50" x2="555.05" y2="679.70" stroke="#111" stroke-width="1.1" />
<text x="555.05" y="689.90" font-size="8.3" text-anchor="middle" stroke="#222" stroke-width="0.22" >0.5</text>
<line x1="602.70" y1="676.50" x2="602.70" y2="679.70" stroke="#111" stroke-width="1.1" />
<text x="602.70" y="689.90" font-size="8.3" text-anchor="middle" stroke="#222" stroke-width="0.22" >1.0</text>
<line x1="650.35" y1="676.50" x2="650.35" y2="679.70" stroke="#111" stroke-width="1.1" />
<text x="650.35" y="689.90" font-size="8.3" text-anchor="middle" stroke="#222" stroke-width="0.22" >1.5</text>
<line x1="522.70" y1="673.20" x2="626.80" y2="617.70" stroke="#111" stroke-width="1.2" />
<circle cx="551.00" cy="608.30" r="2.8" fill="#a3a3a3" stroke="#222" stroke-width="0.7"/>
<circle cx="556.90" cy="620.20" r="2.8" fill="#a3a3a3" stroke="#222" stroke-width="0.7"/>
<circle cx="549.10" cy="653.50" r="2.8" fill="#a3a3a3" stroke="#222" stroke-width="0.7"/>
<circle cx="549.10" cy="655.70" r="2.8" fill="#a3a3a3" stroke="#222" stroke-width="0.7"/>
<circle cx="585.20" cy="656.50" r="2.8" fill="#a3a3a3" stroke="#222" stroke-width="0.7"/>
<circle cx="584.30" cy="659.90" r="2.8" fill="#a3a3a3" stroke="#222" stroke-width="0.7"/>
<circle cx="524.40" cy="671.00" r="2.8" fill="#a3a3a3" stroke="#222" stroke-width="0.7"/>
<circle cx="524.40" cy="673.70" r="2.8" fill="#a3a3a3" stroke="#222" stroke-width="0.7"/>
<circle cx="532.40" cy="671.00" r="2.8" fill="#a3a3a3" stroke="#222" stroke-width="0.7"/>
<circle cx="535.20" cy="669.00" r="2.8" fill="#a3a3a3" stroke="#222" stroke-width="0.7"/>
<circle cx="535.20" cy="676.00" r="2.8" fill="#a3a3a3" stroke="#222" stroke-width="0.7"/>
<circle cx="551.30" cy="670.10" r="2.8" fill="#a3a3a3" stroke="#222" stroke-width="0.7"/>
<circle cx="619.80" cy="592.20" r="2.8" fill="#e60000" stroke="#222" stroke-width="0.7"/>
<circle cx="626.80" cy="591.10" r="2.8" fill="#e60000" stroke="#222" stroke-width="0.7"/>
<circle cx="606.50" cy="641.00" r="2.8" fill="#e60000" stroke="#222" stroke-width="0.7"/>
<circle cx="606.50" cy="660.40" r="2.8" fill="#e60000" stroke="#222" stroke-width="0.7"/>
<circle cx="555.50" cy="642.40" r="2.8" fill="#e60000" stroke="#222" stroke-width="0.7"/>
<circle cx="574.90" cy="643.20" r="2.8" fill="#e60000" stroke="#222" stroke-width="0.7"/>
<circle cx="578.20" cy="646.50" r="2.8" fill="#e60000" stroke="#222" stroke-width="0.7"/>
<circle cx="582.90" cy="645.20" r="2.8" fill="#e60000" stroke="#222" stroke-width="0.7"/>
<circle cx="574.90" cy="652.40" r="2.8" fill="#e60000" stroke="#222" stroke-width="0.7"/>
<circle cx="583.20" cy="657.10" r="2.8" fill="#e60000" stroke="#222" stroke-width="0.7"/>
<circle cx="548.30" cy="648.80" r="2.8" fill="#e60000" stroke="#222" stroke-width="0.7"/>
<circle cx="558.80" cy="657.60" r="2.8" fill="#e60000" stroke="#222" stroke-width="0.7"/>
<circle cx="556.00" cy="661.50" r="2.8" fill="#e60000" stroke="#222" stroke-width="0.7"/>
<circle cx="548.30" cy="667.10" r="2.8" fill="#e60000" stroke="#222" stroke-width="0.7"/>
<text x="517.70" y="585.00" font-size="9.0" textLength="38.70" lengthAdjust="spacingAndGlyphs" stroke="#222" stroke-width="0.22" >r<tspan dy="-3.40" font-size="6.12">2</tspan><tspan dy="3.4">: 0.4187</tspan></text>
<text x="519.60" y="594.60" font-size="9.0" textLength="36.90" lengthAdjust="spacingAndGlyphs" stroke="#222" stroke-width="0.22" >p: 0.0001</text>
<text x="528.80" y="704.20" font-size="9.0" textLength="99.80" lengthAdjust="spacingAndGlyphs" stroke="#222" stroke-width="0.22" >Siglec-F<tspan dy="-3.40" font-size="6.12">hi</tspan><tspan dy="3.4"> neutrophils&#160; (%)</tspan></text>
<text x="293.20" y="617.60" font-size="8.6" text-anchor="middle" stroke="#222" stroke-width="0.22" transform="rotate(-90 293.20 617.60)" >RORγt<tspan dy="-3.20" font-size="5.85">+</tspan><tspan dy="3.2"> cells (%)</tspan></text>
<text x="305.00" y="617.60" font-size="8.6" text-anchor="middle" stroke="#222" stroke-width="0.22" transform="rotate(-90 305.00 617.60)" >(of TCRβ<tspan dy="-3.20" font-size="5.85">+</tspan><tspan dy="3.2">CD4</tspan><tspan dy="-3.20" font-size="5.85">+</tspan><tspan dy="3.2">)</tspan></text>
<text x="478.30" y="624.50" font-size="8.6" text-anchor="middle" stroke="#222" stroke-width="0.22" transform="rotate(-90 478.30 624.50)" >IL-17A<tspan dy="-3.20" font-size="5.85">+</tspan><tspan dy="3.2"> cells (%)</tspan></text>
<text x="490.20" y="624.50" font-size="8.6" text-anchor="middle" stroke="#222" stroke-width="0.22" transform="rotate(-90 490.20 624.50)" >(of TCRβ<tspan dy="-3.20" font-size="5.85">+</tspan><tspan dy="3.2">CD4</tspan><tspan dy="-3.20" font-size="5.85">+</tspan><tspan dy="3.2">)</tspan></text>
<text x="1.00" y="736.60" font-size="14.5" fill="#000" stroke="#000" stroke-width="0.22" font-weight="bold" >f</text>
<text x="62.30" y="738.30" font-size="7.3" text-anchor="middle" textLength="42.90" lengthAdjust="spacingAndGlyphs" stroke="#222" stroke-width="0.06" >Bone marrow</text>
<text x="62.30" y="747.10" font-size="7.3" text-anchor="middle" textLength="31.50" lengthAdjust="spacingAndGlyphs" stroke="#222" stroke-width="0.06" >neutrophil</text>
<circle cx="62.20" cy="764.20" r="12.6" fill="#fdf0c2" stroke="#eac28c" stroke-width="0.9"/>
<g fill="#f5c58e"><circle cx="58.47" cy="757.55" r="3.33"/><circle cx="56.96" cy="766.22" r="3.73"/><circle cx="65.63" cy="769.44" r="3.33"/><rect x="54.74" y="757.65" width="3.23" height="8.06"/><rect x="56.66" y="767.83" width="8.06" height="3.63"/></g>
<circle cx="64.22" cy="758.15" r="0.35" fill="#e8b27e"/>
<circle cx="67.24" cy="760.17" r="0.35" fill="#e8b27e"/>
<circle cx="69.26" cy="763.19" r="0.35" fill="#e8b27e"/>
<circle cx="65.22" cy="762.18" r="0.35" fill="#e8b27e"/>
<circle cx="70.26" cy="767.22" r="0.35" fill="#e8b27e"/>
<circle cx="68.25" cy="765.21" r="0.35" fill="#e8b27e"/>
<circle cx="63.21" cy="764.20" r="0.35" fill="#e8b27e"/>
<circle cx="71.27" cy="761.18" r="0.35" fill="#e8b27e"/>
<circle cx="66.23" cy="772.26" r="0.35" fill="#e8b27e"/>
<circle cx="60.18" cy="773.27" r="0.35" fill="#e8b27e"/>
<path d="M28.6,806 L28.6,789.3 Q28.6,787.3 30.6,787.3 L59.8,787.3 Q62.3,787.3 62.3,783.4 Q62.3,787.3 64.8,787.3 L93.2,787.3 Q95.2,787.3 95.2,789.3 L95.2,806" fill="none" stroke="#333" stroke-width="0.9" />
<path d="M28.6,808.2 L26.9,804.2 L30.3,804.2 Z" fill="#222" stroke="none" stroke-width="1" />
<path d="M95.2,808.2 L93.5,804.2 L96.9,804.2 Z" fill="#222" stroke="none" stroke-width="1" />
<text x="62.10" y="800.20" font-size="7.0" text-anchor="middle" textLength="18.80" lengthAdjust="spacingAndGlyphs" stroke="#222" stroke-width="0.06" >2 days</text>
<text x="13.90" y="800.60" font-size="7.5" text-anchor="middle" stroke="#222" stroke-width="0.06" >-</text>
<text x="116.00" y="796.90" font-size="7.0" text-anchor="middle" textLength="11.20" lengthAdjust="spacingAndGlyphs" stroke="#222" stroke-width="0.06" >IL-4</text>
<text x="115.70" y="804.70" font-size="7.0" text-anchor="middle" textLength="25.10" lengthAdjust="spacingAndGlyphs" stroke="#222" stroke-width="0.06" >GM-CSF</text>
<circle cx="28.60" cy="824.20" r="12.3" fill="#fdf0c2" stroke="#eac28c" stroke-width="0.9"/>
<g fill="#f5c58e"><circle cx="24.96" cy="817.71" r="3.25"/><circle cx="23.48" cy="826.17" r="3.64"/><circle cx="31.95" cy="829.32" r="3.25"/><rect x="21.32" y="817.80" width="3.15" height="7.87"/><rect x="23.19" y="827.74" width="7.87" height="3.54"/></g>
<circle cx="30.57" cy="818.30" r="0.35" fill="#e8b27e"/>
<circle cx="33.52" cy="820.26" r="0.35" fill="#e8b27e"/>
<circle cx="35.49" cy="823.22" r="0.35" fill="#e8b27e"/>
<circle cx="31.55" cy="822.23" r="0.35" fill="#e8b27e"/>
<circle cx="36.47" cy="827.15" r="0.35" fill="#e8b27e"/>
<circle cx="34.50" cy="825.18" r="0.35" fill="#e8b27e"/>
<circle cx="29.58" cy="824.20" r="0.35" fill="#e8b27e"/>
<circle cx="37.46" cy="821.25" r="0.35" fill="#e8b27e"/>
<circle cx="32.54" cy="832.07" r="0.35" fill="#e8b27e"/>
<circle cx="26.63" cy="833.06" r="0.35" fill="#e8b27e"/>
<circle cx="95.30" cy="824.80" r="12.3" fill="#b53434" stroke="#9a2525" stroke-width="0.9"/>
<g fill="#8e1f1f"><circle cx="91.66" cy="818.31" r="3.25"/><circle cx="90.18" cy="826.77" r="3.64"/><circle cx="98.65" cy="829.92" r="3.25"/><rect x="88.02" y="818.40" width="3.15" height="7.87"/><rect x="89.89" y="828.34" width="7.87" height="3.54"/></g>
<circle cx="97.27" cy="818.90" r="0.35" fill="#7a1515"/>
<circle cx="100.22" cy="820.86" r="0.35" fill="#7a1515"/>
<circle cx="102.19" cy="823.82" r="0.35" fill="#7a1515"/>
<circle cx="98.25" cy="822.83" r="0.35" fill="#7a1515"/>
<circle cx="103.17" cy="827.75" r="0.35" fill="#7a1515"/>
<circle cx="101.20" cy="825.78" r="0.35" fill="#7a1515"/>
<circle cx="96.28" cy="824.80" r="0.35" fill="#7a1515"/>
<circle cx="104.16" cy="821.85" r="0.35" fill="#7a1515"/>
<circle cx="99.24" cy="832.67" r="0.35" fill="#7a1515"/>
<circle cx="93.33" cy="833.66" r="0.35" fill="#7a1515"/>
<text x="2.50" y="849.00" font-size="8.4" textLength="52.30" lengthAdjust="spacingAndGlyphs" stroke="#222" stroke-width="0.06" >Siglec-F<tspan dy="-3.00" font-size="5.71">lo</tspan><tspan dy="3.0">&#160;&#160;&#160;NEU</tspan></text>
<text x="71.50" y="849.00" font-size="8.4" textLength="48.10" lengthAdjust="spacingAndGlyphs" stroke="#222" stroke-width="0.06" >Siglec-F<tspan dy="-3.00" font-size="5.71">hi</tspan><tspan dy="3.0"> NEU</tspan></text>
<line x1="28.80" y1="851.60" x2="48.00" y2="868.20" stroke="#222" stroke-width="1.0" />
<path d="M49.8,869.8 L45.6,868.4 L47.6,866.0 Z" fill="#222" stroke="none" stroke-width="1" />
<line x1="95.20" y1="851.60" x2="77.60" y2="868.20" stroke="#222" stroke-width="1.0" />
<path d="M75.8,869.8 L78.0,866.0 L79.9,868.4 Z" fill="#222" stroke="none" stroke-width="1" />
<text x="62.20" y="881.70" font-size="7.4" text-anchor="middle" textLength="42.50" lengthAdjust="spacingAndGlyphs" stroke="#222" stroke-width="0.06" >Naive CD4 T</text>
<rect x="14.00" y="906.70" width="95.80" height="11.20" fill="#fde3d0" stroke="none" stroke-width="1" />
<circle cx="35.20" cy="902.20" r="11.8" fill="#d6e6f0" stroke="#a9c8dc" stroke-width="0.8"/>
<circle cx="35.20" cy="902.00" r="7.7" fill="#b7d4e6"/>
<circle cx="61.70" cy="902.20" r="11.8" fill="#d6e6f0" stroke="#a9c8dc" stroke-width="0.8"/>
<circle cx="61.70" cy="902.00" r="7.7" fill="#b7d4e6"/>
<circle cx="88.90" cy="902.20" r="11.8" fill="#d6e6f0" stroke="#a9c8dc" stroke-width="0.8"/>
<circle cx="88.90" cy="902.00" r="7.7" fill="#b7d4e6"/>
<path d="M13.4,894.8 L13.4,916.2 Q13.4,918.6 15.8,918.6 L108.0,918.6 Q110.4,918.6 110.4,916.2 L110.4,894.8" fill="none" stroke="#222" stroke-width="1.5" />
<text x="61.50" y="930.80" font-size="7.3" text-anchor="middle" textLength="93.60" lengthAdjust="spacingAndGlyphs" stroke="#222" stroke-width="0.06" >Th17 differentiation condition</text>
<text x="61.10" y="942.70" font-size="6.3" text-anchor="middle" textLength="16.80" lengthAdjust="spacingAndGlyphs" stroke="#222" stroke-width="0.06" >3days</text>
<text x="138.20" y="738.40" font-size="14.5" fill="#000" stroke="#000" stroke-width="0.22" font-weight="bold" >g</text>
<text x="223.60" y="744.50" font-size="9.0" text-anchor="middle" stroke="#222" stroke-width="0.22" >-</text>
<text x="293.00" y="739.70" font-size="9.8" text-anchor="middle" textLength="42.30" lengthAdjust="spacingAndGlyphs" fill="#1a1a1a" stroke="#1a1a1a" stroke-width="0.22" >Siglec-F<tspan dy="-3.60" font-size="6.66">lo</tspan></text>
<text x="293.00" y="750.70" font-size="9.8" text-anchor="middle" textLength="20.40" lengthAdjust="spacingAndGlyphs" fill="#1a1a1a" stroke="#1a1a1a" stroke-width="0.22" >NEU</text>
<text x="363.00" y="739.70" font-size="9.8" text-anchor="middle" textLength="42.00" lengthAdjust="spacingAndGlyphs" fill="#1a1a1a" stroke="#1a1a1a" stroke-width="0.22" >Siglec-F<tspan dy="-3.60" font-size="6.66">hi</tspan></text>
<text x="362.90" y="750.70" font-size="9.8" text-anchor="middle" textLength="20.80" lengthAdjust="spacingAndGlyphs" fill="#1a1a1a" stroke="#1a1a1a" stroke-width="0.22" >NEU</text>
<line x1="232.5" y1="810.3" x2="236.2" y2="786.0" stroke="#efcadb" stroke-width="12.50" stroke-linecap="round" opacity="0.96"/>
<line x1="232.5" y1="810.3" x2="236.2" y2="786.0" stroke="#fbeef4" stroke-width="11.50" stroke-linecap="round"/>
<line x1="232.5" y1="810.3" x2="236.2" y2="786.0" stroke="#e3adc8" stroke-width="10.20" stroke-linecap="round" opacity="0.96"/>
<line x1="232.5" y1="810.3" x2="236.2" y2="786.0" stroke="#f6e0eb" stroke-width="9.20" stroke-linecap="round"/>
<line x1="232.5" y1="810.3" x2="236.2" y2="786.0" stroke="#d895b9" stroke-width="8.00" stroke-linecap="round" opacity="0.96"/>
<line x1="232.5" y1="810.3" x2="236.2" y2="786.0" stroke="#f1d2e2" stroke-width="7.00" stroke-linecap="round"/>
<ellipse cx="232.40" cy="807.40" rx="4.30" ry="5.40" transform="rotate(5 232.40 807.40)" fill="none" stroke="#b9497f" stroke-width="1.4" opacity="1.0"/>
<ellipse cx="232.40" cy="807.40" rx="2.60" ry="3.40" transform="rotate(5 232.40 807.40)" fill="none" stroke="#d58fb4" stroke-width="0.6" opacity="1.0"/>
<ellipse cx="235.50" cy="790.00" rx="2.90" ry="4.60" transform="rotate(10 235.50 790.00)" fill="none" stroke="#c4679a" stroke-width="1.0" opacity="1.0"/>
<line x1="233.00" y1="809.00" x2="235.60" y2="789.00" stroke="#fbeef4" stroke-width="0.9" />
<rect x="222.50" y="759.40" width="32.10" height="38.90" fill="none" stroke="#7a7a7a" stroke-width="0.9" />
<rect x="190.90" y="758.50" width="64.40" height="63.70" fill="none" stroke="#3a3a3a" stroke-width="0.95" />
<line x1="190.90" y1="764.50" x2="192.10" y2="764.50" stroke="#333" stroke-width="0.6" />
<line x1="190.90" y1="773.50" x2="192.10" y2="773.50" stroke="#333" stroke-width="0.6" />
<line x1="190.90" y1="782.50" x2="192.10" y2="782.50" stroke="#333" stroke-width="0.6" />
<line x1="190.90" y1="791.50" x2="192.10" y2="791.50" stroke="#333" stroke-width="0.6" />
<line x1="190.90" y1="800.50" x2="192.10" y2="800.50" stroke="#333" stroke-width="0.6" />
<line x1="190.90" y1="809.50" x2="192.10" y2="809.50" stroke="#333" stroke-width="0.6" />
<line x1="190.90" y1="818.50" x2="192.10" y2="818.50" stroke="#333" stroke-width="0.6" />
<line x1="196.90" y1="822.20" x2="196.90" y2="821.00" stroke="#333" stroke-width="0.6" />
<line x1="205.90" y1="822.20" x2="205.90" y2="821.00" stroke="#333" stroke-width="0.6" />
<line x1="214.90" y1="822.20" x2="214.90" y2="821.00" stroke="#333" stroke-width="0.6" />
<line x1="223.90" y1="822.20" x2="223.90" y2="821.00" stroke="#333" stroke-width="0.6" />
<line x1="232.90" y1="822.20" x2="232.90" y2="821.00" stroke="#333" stroke-width="0.6" />
<line x1="241.90" y1="822.20" x2="241.90" y2="821.00" stroke="#333" stroke-width="0.6" />
<line x1="250.90" y1="822.20" x2="250.90" y2="821.00" stroke="#333" stroke-width="0.6" />
<text x="193.00" y="766.50" font-size="6.4" fill="#333" stroke="#333" stroke-width="0.08" >37.2</text>
<line x1="302.0" y1="810.3" x2="306.2" y2="787.0" stroke="#efcadb" stroke-width="11.50" stroke-linecap="round" opacity="0.90"/>
<line x1="302.0" y1="810.3" x2="306.2" y2="787.0" stroke="#fbeef4" stroke-width="10.50" stroke-linecap="round"/>
<line x1="302.0" y1="810.3" x2="306.2" y2="787.0" stroke="#e3adc8" stroke-width="9.50" stroke-linecap="round" opacity="0.90"/>
<line x1="302.0" y1="810.3" x2="306.2" y2="787.0" stroke="#f6e0eb" stroke-width="8.50" stroke-linecap="round"/>
<line x1="302.0" y1="810.3" x2="306.2" y2="787.0" stroke="#d895b9" stroke-width="7.50" stroke-linecap="round" opacity="0.90"/>
<line x1="302.0" y1="810.3" x2="306.2" y2="787.0" stroke="#f1d2e2" stroke-width="6.50" stroke-linecap="round"/>
<ellipse cx="301.90" cy="807.60" rx="4.20" ry="5.20" transform="rotate(8 301.90 807.60)" fill="none" stroke="#c26090" stroke-width="1.2" opacity="1.0"/>
<ellipse cx="301.90" cy="807.60" rx="2.40" ry="3.20" transform="rotate(8 301.90 807.60)" fill="none" stroke="#d99ab9" stroke-width="0.6" opacity="1.0"/>
<ellipse cx="305.60" cy="790.50" rx="2.80" ry="5.00" transform="rotate(12 305.60 790.50)" fill="none" stroke="#dca3c1" stroke-width="0.7" opacity="1.0"/>
<line x1="302.60" y1="809.00" x2="305.80" y2="789.00" stroke="#fbeef4" stroke-width="0.9" />
<rect x="292.80" y="760.00" width="32.10" height="38.30" fill="none" stroke="#7a7a7a" stroke-width="0.9" />
<rect x="261.30" y="758.50" width="64.20" height="63.70" fill="none" stroke="#3a3a3a" stroke-width="0.95" />
<line x1="261.30" y1="764.50" x2="262.50" y2="764.50" stroke="#333" stroke-width="0.6" />
<line x1="261.30" y1="773.50" x2="262.50" y2="773.50" stroke="#333" stroke-width="0.6" />
<line x1="261.30" y1="782.50" x2="262.50" y2="782.50" stroke="#333" stroke-width="0.6" />
<line x1="261.30" y1="791.50" x2="262.50" y2="791.50" stroke="#333" stroke-width="0.6" />
<line x1="261.30" y1="800.50" x2="262.50" y2="800.50" stroke="#333" stroke-width="0.6" />
<line x1="261.30" y1="809.50" x2="262.50" y2="809.50" stroke="#333" stroke-width="0.6" />
<line x1="261.30" y1="818.50" x2="262.50" y2="818.50" stroke="#333" stroke-width="0.6" />
<line x1="267.30" y1="822.20" x2="267.30" y2="821.00" stroke="#333" stroke-width="0.6" />
<line x1="276.30" y1="822.20" x2="276.30" y2="821.00" stroke="#333" stroke-width="0.6" />
<line x1="285.30" y1="822.20" x2="285.30" y2="821.00" stroke="#333" stroke-width="0.6" />
<line x1="294.30" y1="822.20" x2="294.30" y2="821.00" stroke="#333" stroke-width="0.6" />
<line x1="303.30" y1="822.20" x2="303.30" y2="821.00" stroke="#333" stroke-width="0.6" />
<line x1="312.30" y1="822.20" x2="312.30" y2="821.00" stroke="#333" stroke-width="0.6" />
<line x1="321.30" y1="822.20" x2="321.30" y2="821.00" stroke="#333" stroke-width="0.6" />
<text x="263.40" y="766.50" font-size="6.4" fill="#333" stroke="#333" stroke-width="0.08" >29.7</text>
<line x1="372.0" y1="811.0" x2="378.4" y2="783.5" stroke="#efcadb" stroke-width="13.00" stroke-linecap="round" opacity="0.94"/>
<line x1="372.0" y1="811.0" x2="378.4" y2="783.5" stroke="#fbeef4" stroke-width="12.00" stroke-linecap="round"/>
<line x1="372.0" y1="811.0" x2="378.4" y2="783.5" stroke="#e3adc8" stroke-width="10.80" stroke-linecap="round" opacity="0.94"/>
<line x1="372.0" y1="811.0" x2="378.4" y2="783.5" stroke="#f6e0eb" stroke-width="9.80" stroke-linecap="round"/>
<line x1="372.0" y1="811.0" x2="378.4" y2="783.5" stroke="#d895b9" stroke-width="8.60" stroke-linecap="round" opacity="0.94"/>
<line x1="372.0" y1="811.0" x2="378.4" y2="783.5" stroke="#f1d2e2" stroke-width="7.60" stroke-linecap="round"/>
<ellipse cx="372.30" cy="807.40" rx="4.00" ry="5.40" transform="rotate(12 372.30 807.40)" fill="none" stroke="#d9a0bf" stroke-width="0.7" opacity="1.0"/>
<ellipse cx="377.80" cy="788.30" rx="4.90" ry="8.20" transform="rotate(15 377.80 788.30)" fill="none" stroke="#b13f78" stroke-width="1.6" opacity="1.0"/>
<ellipse cx="377.80" cy="788.30" rx="3.00" ry="5.60" transform="rotate(15 377.80 788.30)" fill="none" stroke="#cf7fa8" stroke-width="0.7" opacity="1.0"/>
<line x1="372.80" y1="809.50" x2="378.20" y2="786.00" stroke="#fbeef4" stroke-width="0.9" />
<rect x="362.60" y="760.00" width="31.80" height="38.30" fill="none" stroke="#7a7a7a" stroke-width="0.9" />
<rect x="331.00" y="758.50" width="64.20" height="63.70" fill="none" stroke="#3a3a3a" stroke-width="0.95" />
<line x1="331.00" y1="764.50" x2="332.20" y2="764.50" stroke="#333" stroke-width="0.6" />
<line x1="331.00" y1="773.50" x2="332.20" y2="773.50" stroke="#333" stroke-width="0.6" />
<line x1="331.00" y1="782.50" x2="332.20" y2="782.50" stroke="#333" stroke-width="0.6" />
<line x1="331.00" y1="791.50" x2="332.20" y2="791.50" stroke="#333" stroke-width="0.6" />
<line x1="331.00" y1="800.50" x2="332.20" y2="800.50" stroke="#333" stroke-width="0.6" />
<line x1="331.00" y1="809.50" x2="332.20" y2="809.50" stroke="#333" stroke-width="0.6" />
<line x1="331.00" y1="818.50" x2="332.20" y2="818.50" stroke="#333" stroke-width="0.6" />
<line x1="337.00" y1="822.20" x2="337.00" y2="821.00" stroke="#333" stroke-width="0.6" />
<line x1="346.00" y1="822.20" x2="346.00" y2="821.00" stroke="#333" stroke-width="0.6" />
<line x1="355.00" y1="822.20" x2="355.00" y2="821.00" stroke="#333" stroke-width="0.6" />
<line x1="364.00" y1="822.20" x2="364.00" y2="821.00" stroke="#333" stroke-width="0.6" />
<line x1="373.00" y1="822.20" x2="373.00" y2="821.00" stroke="#333" stroke-width="0.6" />
<line x1="382.00" y1="822.20" x2="382.00" y2="821.00" stroke="#333" stroke-width="0.6" />
<line x1="391.00" y1="822.20" x2="391.00" y2="821.00" stroke="#333" stroke-width="0.6" />
<text x="333.10" y="766.50" font-size="6.4" fill="#333" stroke="#333" stroke-width="0.08" >73.3</text>
<path d="M227.0 860.2h0M231.8 855.4h0M229.7 855.5h0M233.0 865.9h0M233.6 862.9h0M231.1 863.8h0M228.2 865.6h0M226.8 863.5h0M231.9 865.2h0M229.0 874.2h0M230.3 862.5h0M230.5 862.8h0M229.1 863.5h0M235.4 865.1h0M230.6 867.8h0M235.3 864.1h0M228.5 875.4h0M226.3 863.5h0M231.8 874.6h0M227.6 854.8h0M231.8 862.8h0M229.1 866.9h0M230.7 866.2h0M229.0 870.4h0M234.0 865.1h0M228.9 868.1h0M231.3 860.6h0M228.9 869.4h0M229.8 863.6h0M230.7 864.9h0M230.1 856.9h0M234.6 865.8h0M227.8 869.1h0M230.9 865.1h0M232.8 874.5h0M231.5 871.7h0M235.7 860.7h0M228.7 868.3h0M225.7 863.9h0M233.5 869.4h0M231.6 857.0h0M236.2 867.3h0M232.1 867.1h0M225.6 859.0h0M226.9 873.1h0" stroke="#d58cb1" stroke-width="0.8" stroke-linecap="square" fill="none" />
<line x1="230.1" y1="873.0" x2="230.1" y2="859.5" stroke="#efcadb" stroke-width="8.00" stroke-linecap="round" opacity="0.80" stroke-dasharray="0.9,0.7"/>
<line x1="230.1" y1="873.0" x2="230.1" y2="859.5" stroke="#fdf6f9" stroke-width="7.00" stroke-linecap="round"/>
<line x1="230.1" y1="873.0" x2="230.1" y2="859.5" stroke="#e3adc8" stroke-width="5.60" stroke-linecap="round" opacity="0.80" stroke-dasharray="0.9,0.7"/>
<line x1="230.1" y1="873.0" x2="230.1" y2="859.5" stroke="#fdf6f9" stroke-width="4.60" stroke-linecap="round"/>
<line x1="230.1" y1="873.0" x2="230.1" y2="859.5" stroke="#d895b9" stroke-width="3.40" stroke-linecap="round" opacity="0.80" stroke-dasharray="0.9,0.7"/>
<line x1="230.1" y1="873.0" x2="230.1" y2="859.5" stroke="#fdf6f9" stroke-width="2.40" stroke-linecap="round"/>
<ellipse cx="225.00" cy="885.40" rx="10.60" ry="7.40" transform="rotate(-28 225.00 885.40)" fill="#f7e1ec" stroke="#e2b0c9" stroke-width="0.6" opacity="1.0"/>
<ellipse cx="224.80" cy="885.60" rx="8.40" ry="5.80" transform="rotate(-28 224.80 885.60)" fill="#f1cfe0" stroke="#d897b8" stroke-width="0.6" opacity="1.0"/>
<ellipse cx="224.60" cy="885.70" rx="6.20" ry="4.30" transform="rotate(-28 224.60 885.70)" fill="#ebbfd6" stroke="#c97aa2" stroke-width="0.7" opacity="1.0"/>
<ellipse cx="224.40" cy="885.80" rx="3.90" ry="2.70" transform="rotate(-28 224.40 885.80)" fill="#e6b2cd" stroke="#bd5f8e" stroke-width="0.8" opacity="1.0"/>
<ellipse cx="224.40" cy="885.80" rx="1.60" ry="1.10" transform="rotate(-28 224.40 885.80)" fill="#fbeef4" stroke="none" stroke-width="0.6" opacity="1.0"/>
<rect x="217.50" y="841.00" width="37.10" height="32.60" fill="none" stroke="#7a7a7a" stroke-width="0.9" />
<rect x="190.90" y="839.40" width="64.40" height="63.70" fill="none" stroke="#3a3a3a" stroke-width="0.95" />
<line x1="190.90" y1="845.40" x2="192.10" y2="845.40" stroke="#333" stroke-width="0.6" />
<line x1="190.90" y1="854.40" x2="192.10" y2="854.40" stroke="#333" stroke-width="0.6" />
<line x1="190.90" y1="863.40" x2="192.10" y2="863.40" stroke="#333" stroke-width="0.6" />
<line x1="190.90" y1="872.40" x2="192.10" y2="872.40" stroke="#333" stroke-width="0.6" />
<line x1="190.90" y1="881.40" x2="192.10" y2="881.40" stroke="#333" stroke-width="0.6" />
<line x1="190.90" y1="890.40" x2="192.10" y2="890.40" stroke="#333" stroke-width="0.6" />
<line x1="190.90" y1="899.40" x2="192.10" y2="899.40" stroke="#333" stroke-width="0.6" />
<line x1="196.90" y1="903.10" x2="196.90" y2="901.90" stroke="#333" stroke-width="0.6" />
<line x1="205.90" y1="903.10" x2="205.90" y2="901.90" stroke="#333" stroke-width="0.6" />
<line x1="214.90" y1="903.10" x2="214.90" y2="901.90" stroke="#333" stroke-width="0.6" />
<line x1="223.90" y1="903.10" x2="223.90" y2="901.90" stroke="#333" stroke-width="0.6" />
<line x1="232.90" y1="903.10" x2="232.90" y2="901.90" stroke="#333" stroke-width="0.6" />
<line x1="241.90" y1="903.10" x2="241.90" y2="901.90" stroke="#333" stroke-width="0.6" />
<line x1="250.90" y1="903.10" x2="250.90" y2="901.90" stroke="#333" stroke-width="0.6" />
<text x="193.00" y="847.40" font-size="6.4" fill="#333" stroke="#333" stroke-width="0.08" >9.89</text>
<path d="M298.2 860.5h0M299.6 863.9h0M301.4 862.6h0M297.2 848.3h0M300.6 862.6h0M303.2 861.1h0M298.7 863.2h0M296.5 857.1h0M297.8 862.7h0M305.2 864.7h0M302.9 862.5h0M300.9 859.6h0M299.5 851.3h0M297.3 856.1h0M302.2 864.3h0M302.9 868.0h0M299.5 865.9h0M304.9 861.5h0M302.8 860.8h0M296.3 862.0h0M298.2 862.0h0M299.1 862.8h0M295.1 870.3h0M303.5 860.0h0M298.0 861.5h0M301.8 863.3h0M301.2 853.2h0M297.5 867.1h0M300.8 855.1h0M298.1 855.4h0M297.7 866.5h0M299.7 866.3h0M300.7 855.1h0M298.6 871.3h0M298.3 857.0h0M303.2 861.9h0M300.2 867.8h0M295.9 863.3h0M297.6 855.5h0M298.2 866.4h0" stroke="#d58cb1" stroke-width="0.8" stroke-linecap="square" fill="none" />
<line x1="300.2" y1="872.5" x2="300.2" y2="856.5" stroke="#efcadb" stroke-width="8.00" stroke-linecap="round" opacity="0.80" stroke-dasharray="0.9,0.7"/>
<line x1="300.2" y1="872.5" x2="300.2" y2="856.5" stroke="#fdf6f9" stroke-width="7.00" stroke-linecap="round"/>
<line x1="300.2" y1="872.5" x2="300.2" y2="856.5" stroke="#e3adc8" stroke-width="5.60" stroke-linecap="round" opacity="0.80" stroke-dasharray="0.9,0.7"/>
<line x1="300.2" y1="872.5" x2="300.2" y2="856.5" stroke="#fdf6f9" stroke-width="4.60" stroke-linecap="round"/>
<line x1="300.2" y1="872.5" x2="300.2" y2="856.5" stroke="#d895b9" stroke-width="3.40" stroke-linecap="round" opacity="0.80" stroke-dasharray="0.9,0.7"/>
<line x1="300.2" y1="872.5" x2="300.2" y2="856.5" stroke="#fdf6f9" stroke-width="2.40" stroke-linecap="round"/>
<ellipse cx="295.00" cy="885.20" rx="10.40" ry="7.30" transform="rotate(-25 295.00 885.20)" fill="#f7e1ec" stroke="#e2b0c9" stroke-width="0.6" opacity="1.0"/>
<ellipse cx="294.80" cy="885.40" rx="8.20" ry="5.70" transform="rotate(-25 294.80 885.40)" fill="#f1cfe0" stroke="#d897b8" stroke-width="0.6" opacity="1.0"/>
<ellipse cx="294.60" cy="885.50" rx="6.00" ry="4.20" transform="rotate(-25 294.60 885.50)" fill="#ebbfd6" stroke="#c97aa2" stroke-width="0.7" opacity="1.0"/>
<ellipse cx="294.40" cy="885.60" rx="3.80" ry="2.60" transform="rotate(-25 294.40 885.60)" fill="#e6b2cd" stroke="#bd5f8e" stroke-width="0.8" opacity="1.0"/>
<ellipse cx="294.40" cy="885.60" rx="1.50" ry="1.00" transform="rotate(-25 294.40 885.60)" fill="#fbeef4" stroke="none" stroke-width="0.6" opacity="1.0"/>
<rect x="287.00" y="841.00" width="37.80" height="32.40" fill="none" stroke="#7a7a7a" stroke-width="0.9" />
<rect x="261.30" y="839.40" width="64.20" height="63.70" fill="none" stroke="#3a3a3a" stroke-width="0.95" />
<line x1="261.30" y1="845.40" x2="262.50" y2="845.40" stroke="#333" stroke-width="0.6" />
<line x1="261.30" y1="854.40" x2="262.50" y2="854.40" stroke="#333" stroke-width="0.6" />
<line x1="261.30" y1="863.40" x2="262.50" y2="863.40" stroke="#333" stroke-width="0.6" />
<line x1="261.30" y1="872.40" x2="262.50" y2="872.40" stroke="#333" stroke-width="0.6" />
<line x1="261.30" y1="881.40" x2="262.50" y2="881.40" stroke="#333" stroke-width="0.6" />
<line x1="261.30" y1="890.40" x2="262.50" y2="890.40" stroke="#333" stroke-width="0.6" />
<line x1="261.30" y1="899.40" x2="262.50" y2="899.40" stroke="#333" stroke-width="0.6" />
<line x1="267.30" y1="903.10" x2="267.30" y2="901.90" stroke="#333" stroke-width="0.6" />
<line x1="276.30" y1="903.10" x2="276.30" y2="901.90" stroke="#333" stroke-width="0.6" />
<line x1="285.30" y1="903.10" x2="285.30" y2="901.90" stroke="#333" stroke-width="0.6" />
<line x1="294.30" y1="903.10" x2="294.30" y2="901.90" stroke="#333" stroke-width="0.6" />
<line x1="303.30" y1="903.10" x2="303.30" y2="901.90" stroke="#333" stroke-width="0.6" />
<line x1="312.30" y1="903.10" x2="312.30" y2="901.90" stroke="#333" stroke-width="0.6" />
<line x1="321.30" y1="903.10" x2="321.30" y2="901.90" stroke="#333" stroke-width="0.6" />
<text x="263.40" y="847.40" font-size="6.4" fill="#333" stroke="#333" stroke-width="0.08" >10.4</text>
<path d="M370.5 853.6h0M367.4 870.8h0M374.3 857.4h0M378.9 861.1h0M367.1 862.3h0M374.1 871.2h0M374.4 860.8h0M369.2 855.6h0M370.8 860.0h0M371.8 856.5h0M369.3 858.5h0M367.1 856.9h0M367.7 857.0h0M372.9 863.5h0M366.7 865.6h0M371.9 870.5h0M370.4 861.9h0M368.7 863.6h0M372.6 863.9h0M370.2 865.9h0M371.3 864.3h0M367.9 864.1h0M367.7 858.7h0M371.5 873.8h0M374.3 863.0h0M370.4 868.1h0M375.5 869.2h0M370.4 864.0h0M369.9 861.5h0M368.2 861.7h0M364.0 856.9h0M372.4 858.3h0M372.8 856.4h0M369.8 865.0h0M367.6 859.3h0M379.1 859.5h0M368.7 860.1h0M371.1 862.9h0M374.2 867.1h0M369.7 861.2h0M366.4 855.3h0M368.6 866.7h0M371.4 867.1h0M374.1 862.2h0M377.9 860.3h0M369.0 860.8h0M374.7 862.3h0M368.6 865.2h0M374.7 862.4h0M370.2 868.5h0M374.2 867.8h0M368.5 864.4h0M372.2 853.8h0M374.9 863.5h0M369.9 874.6h0M371.5 859.3h0M370.8 865.9h0M373.7 862.7h0M368.2 859.4h0M368.3 857.6h0" stroke="#d58cb1" stroke-width="0.8" stroke-linecap="square" fill="none" />
<line x1="371.3" y1="857.5" x2="371.3" y2="870.5" stroke="#f5dfea" stroke-width="12.5" stroke-linecap="round"/>
<line x1="371.3" y1="858.5" x2="371.3" y2="869.5" stroke="#efcfe0" stroke-width="8.5" stroke-linecap="round"/>
<line x1="371.3" y1="859.5" x2="371.3" y2="868.5" stroke="#f8e8f0" stroke-width="3" stroke-linecap="round"/>
<path d="M359.5,886.0 L375.2,876.2" stroke="#f3d8e6" stroke-width="11.5" stroke-linecap="round" fill="none"/>
<path d="M359.5,886.0 L375.2,876.2" stroke="#b5508a" stroke-width="8.6" stroke-linecap="round" fill="none"/>
<path d="M359.5,886.0 L375.2,876.2" stroke="#eec7da" stroke-width="5.6" stroke-linecap="round" fill="none"/>
<path d="M361.5,884.8 L372.5,877.6" stroke="#fbeef4" stroke-width="1.0" stroke-linecap="round" fill="none"/>
<rect x="357.50" y="841.00" width="37.10" height="32.40" fill="none" stroke="#7a7a7a" stroke-width="0.9" />
<rect x="331.00" y="839.40" width="64.20" height="63.70" fill="none" stroke="#3a3a3a" stroke-width="0.95" />
<line x1="331.00" y1="845.40" x2="332.20" y2="845.40" stroke="#333" stroke-width="0.6" />
<line x1="331.00" y1="854.40" x2="332.20" y2="854.40" stroke="#333" stroke-width="0.6" />
<line x1="331.00" y1="863.40" x2="332.20" y2="863.40" stroke="#333" stroke-width="0.6" />
<line x1="331.00" y1="872.40" x2="332.20" y2="872.40" stroke="#333" stroke-width="0.6" />
<line x1="331.00" y1="881.40" x2="332.20" y2="881.40" stroke="#333" stroke-width="0.6" />
<line x1="331.00" y1="890.40" x2="332.20" y2="890.40" stroke="#333" stroke-width="0.6" />
<line x1="331.00" y1="899.40" x2="332.20" y2="899.40" stroke="#333" stroke-width="0.6" />
<line x1="337.00" y1="903.10" x2="337.00" y2="901.90" stroke="#333" stroke-width="0.6" />
<line x1="346.00" y1="903.10" x2="346.00" y2="901.90" stroke="#333" stroke-width="0.6" />
<line x1="355.00" y1="903.10" x2="355.00" y2="901.90" stroke="#333" stroke-width="0.6" />
<line x1="364.00" y1="903.10" x2="364.00" y2="901.90" stroke="#333" stroke-width="0.6" />
<line x1="373.00" y1="903.10" x2="373.00" y2="901.90" stroke="#333" stroke-width="0.6" />
<line x1="382.00" y1="903.10" x2="382.00" y2="901.90" stroke="#333" stroke-width="0.6" />
<line x1="391.00" y1="903.10" x2="391.00" y2="901.90" stroke="#333" stroke-width="0.6" />
<text x="333.10" y="847.40" font-size="6.4" fill="#333" stroke="#333" stroke-width="0.08" >32.0</text>
<text x="185.40" y="767.00" font-size="6.6" text-anchor="end" stroke="#222" stroke-width="0.22" >10<tspan dy="-2.40" font-size="4.49">5</tspan></text>
<text x="185.40" y="781.10" font-size="6.6" text-anchor="end" stroke="#222" stroke-width="0.22" >10<tspan dy="-2.40" font-size="4.49">4</tspan></text>
<text x="185.40" y="795.40" font-size="6.6" text-anchor="end" stroke="#222" stroke-width="0.22" >10<tspan dy="-2.40" font-size="4.49">3</tspan></text>
<text x="185.00" y="815.40" font-size="6.6" text-anchor="end" stroke="#222" stroke-width="0.22" >0</text>
<text x="185.40" y="846.90" font-size="6.6" text-anchor="end" stroke="#222" stroke-width="0.22" >10<tspan dy="-2.40" font-size="4.49">5</tspan></text>
<text x="185.40" y="859.20" font-size="6.6" text-anchor="end" stroke="#222" stroke-width="0.22" >10<tspan dy="-2.40" font-size="4.49">4</tspan></text>
<text x="185.40" y="871.40" font-size="6.6" text-anchor="end" stroke="#222" stroke-width="0.22" >10<tspan dy="-2.40" font-size="4.49">3</tspan></text>
<text x="185.00" y="892.90" font-size="6.6" text-anchor="end" stroke="#222" stroke-width="0.22" >0</text>
<text x="208.30" y="832.30" font-size="6.6" text-anchor="middle" stroke="#222" stroke-width="0.22" >0</text>
<text x="227.00" y="832.30" font-size="6.6" stroke="#222" stroke-width="0.22" >10<tspan dy="-2.40" font-size="4.49">4</tspan></text>
<text x="240.40" y="832.30" font-size="6.6" stroke="#222" stroke-width="0.22" >10<tspan dy="-2.40" font-size="4.49">5</tspan></text>
<text x="200.50" y="911.60" font-size="6.6" text-anchor="middle" stroke="#222" stroke-width="0.22" >0</text>
<text x="211.70" y="911.60" font-size="6.6" stroke="#222" stroke-width="0.22" >10<tspan dy="-2.40" font-size="4.49">3</tspan></text>
<text x="225.50" y="911.60" font-size="6.6" stroke="#222" stroke-width="0.22" >10<tspan dy="-2.40" font-size="4.49">4</tspan></text>
<text x="238.30" y="911.60" font-size="6.6" stroke="#222" stroke-width="0.22" >10<tspan dy="-2.40" font-size="4.49">5</tspan></text>
<line x1="168.20" y1="786.00" x2="168.20" y2="758.00" stroke="#111" stroke-width="1.1" />
<path d="M168.2,753.5 L165.9,759.3 L170.5,759.3 Z" fill="#111" stroke="none" stroke-width="1" />
<text x="171.90" y="807.90" font-size="10.2" text-anchor="middle" textLength="30.60" lengthAdjust="spacingAndGlyphs" fill="#1a1a1a" stroke="#1a1a1a" stroke-width="0.22" transform="rotate(-90 171.90 807.90)" >RORγt</text>
<line x1="168.20" y1="869.50" x2="168.20" y2="842.50" stroke="#111" stroke-width="1.1" />
<path d="M168.2,838.0 L165.9,843.8 L170.5,843.8 Z" fill="#111" stroke="none" stroke-width="1" />
<text x="171.90" y="889.00" font-size="10.0" text-anchor="middle" textLength="29.60" lengthAdjust="spacingAndGlyphs" fill="#1a1a1a" stroke="#1a1a1a" stroke-width="0.22" transform="rotate(-90 171.90 889.00)" >IL-17A</text>
<text x="192.30" y="923.40" font-size="10.0" textLength="19.40" lengthAdjust="spacingAndGlyphs" fill="#1a1a1a" stroke="#1a1a1a" stroke-width="0.22" >CD4</text>
<line x1="218.30" y1="920.10" x2="391.50" y2="920.10" stroke="#111" stroke-width="1.1" />
<path d="M397.0,920.1 L391.0,917.8 L391.0,922.4 Z" fill="#111" stroke="none" stroke-width="1" />
<circle cx="453.70" cy="738.00" r="3.3" fill="#8c8c8c" stroke="#333" stroke-width="0.8"/>
<circle cx="453.70" cy="751.70" r="3.3" fill="#f28b8b" stroke="#333" stroke-width="0.8"/>
<circle cx="453.70" cy="765.40" r="3.3" fill="#e80000" stroke="#333" stroke-width="0.8"/>
<text x="465.40" y="740.60" font-size="9.6" stroke="#222" stroke-width="0.22" >-</text>
<text x="465.40" y="753.70" font-size="9.6" textLength="65.60" lengthAdjust="spacingAndGlyphs" fill="#1a1a1a" stroke="#1a1a1a" stroke-width="0.22" >Siglec-F<tspan dy="-3.50" font-size="6.53">lo</tspan><tspan dy="3.5"> NEU</tspan></text>
<text x="465.40" y="768.60" font-size="9.6" textLength="65.60" lengthAdjust="spacingAndGlyphs" fill="#1a1a1a" stroke="#1a1a1a" stroke-width="0.22" >Siglec-F<tspan dy="-3.50" font-size="6.53">hi</tspan><tspan dy="3.5"> NEU</tspan></text>
<rect x="470.00" y="857.32" width="17.40" height="51.28" fill="#fff" stroke="#111" stroke-width="1.7" />
<line x1="478.70" y1="857.32" x2="478.70" y2="855.34" stroke="#111" stroke-width="1.4" />
<line x1="475.10" y1="855.34" x2="482.30" y2="855.34" stroke="#111" stroke-width="1.4" />
<circle cx="472.70" cy="859.60" r="2.6" fill="#8c8c8c" stroke="#333" stroke-width="0.8"/>
<circle cx="479.30" cy="856.50" r="2.6" fill="#8c8c8c" stroke="#333" stroke-width="0.8"/>
<circle cx="485.40" cy="851.40" r="2.6" fill="#8c8c8c" stroke="#333" stroke-width="0.8"/>
<circle cx="485.40" cy="857.60" r="2.6" fill="#8c8c8c" stroke="#333" stroke-width="0.8"/>
<rect x="497.70" y="871.78" width="17.30" height="36.82" fill="#fff" stroke="#111" stroke-width="1.7" />
<line x1="506.35" y1="871.78" x2="506.35" y2="869.68" stroke="#111" stroke-width="1.4" />
<line x1="502.75" y1="869.68" x2="509.95" y2="869.68" stroke="#111" stroke-width="1.4" />
<circle cx="500.10" cy="868.80" r="2.6" fill="#f28b8b" stroke="#333" stroke-width="0.8"/>
<circle cx="500.10" cy="874.90" r="2.6" fill="#f28b8b" stroke="#333" stroke-width="0.8"/>
<circle cx="512.60" cy="868.80" r="2.6" fill="#f28b8b" stroke="#333" stroke-width="0.8"/>
<circle cx="512.60" cy="874.90" r="2.6" fill="#f28b8b" stroke="#333" stroke-width="0.8"/>
<rect x="525.30" y="830.36" width="16.90" height="78.24" fill="#fff" stroke="#111" stroke-width="1.7" />
<line x1="533.75" y1="830.36" x2="533.75" y2="822.99" stroke="#111" stroke-width="1.4" />
<line x1="530.15" y1="822.99" x2="537.35" y2="822.99" stroke="#111" stroke-width="1.4" />
<circle cx="533.80" cy="812.20" r="2.6" fill="#e80000" stroke="#333" stroke-width="0.8"/>
<circle cx="533.80" cy="825.90" r="2.6" fill="#e80000" stroke="#333" stroke-width="0.8"/>
<circle cx="526.70" cy="841.20" r="2.6" fill="#e80000" stroke="#333" stroke-width="0.8"/>
<circle cx="540.20" cy="841.20" r="2.6" fill="#e80000" stroke="#333" stroke-width="0.8"/>
<line x1="465.00" y1="803.40" x2="465.00" y2="909.30" stroke="#111" stroke-width="1.4" />
<line x1="464.30" y1="908.60" x2="547.80" y2="908.60" stroke="#111" stroke-width="1.4" />
<line x1="461.40" y1="908.60" x2="465.00" y2="908.60" stroke="#111" stroke-width="1.2" />
<text x="460.80" y="911.70" font-size="8.6" text-anchor="end" stroke="#222" stroke-width="0.22" >0</text>
<line x1="461.40" y1="882.30" x2="465.00" y2="882.30" stroke="#111" stroke-width="1.2" />
<text x="460.80" y="885.40" font-size="8.6" text-anchor="end" stroke="#222" stroke-width="0.22" >20</text>
<line x1="461.40" y1="856.00" x2="465.00" y2="856.00" stroke="#111" stroke-width="1.2" />
<text x="460.80" y="859.10" font-size="8.6" text-anchor="end" stroke="#222" stroke-width="0.22" >40</text>
<line x1="461.40" y1="829.70" x2="465.00" y2="829.70" stroke="#111" stroke-width="1.2" />
<text x="460.80" y="832.80" font-size="8.6" text-anchor="end" stroke="#222" stroke-width="0.22" >60</text>
<line x1="461.40" y1="803.40" x2="465.00" y2="803.40" stroke="#111" stroke-width="1.2" />
<text x="460.80" y="806.50" font-size="8.6" text-anchor="end" stroke="#222" stroke-width="0.22" >80</text>
<line x1="478.70" y1="908.60" x2="478.70" y2="911.80" stroke="#111" stroke-width="1.2" />
<line x1="506.35" y1="908.60" x2="506.35" y2="911.80" stroke="#111" stroke-width="1.2" />
<line x1="533.75" y1="908.60" x2="533.75" y2="911.80" stroke="#111" stroke-width="1.2" />
<path d="M480.3,807.6 L480.3,802.4 L533.8,802.4 L533.8,807.6 M507.3,802.4 L507.3,807.6" fill="none" stroke="#111" stroke-width="1.1" />
<text x="489.50" y="797.70" font-size="8.0" stroke="#222" stroke-width="0.22" >ns</text>
<text x="508.30" y="797.70" font-size="8.0" textLength="24.40" lengthAdjust="spacingAndGlyphs" stroke="#222" stroke-width="0.22" >0.0002</text>
<text x="433.00" y="855.00" font-size="8.6" text-anchor="middle" stroke="#222" stroke-width="0.22" transform="rotate(-90 433.00 855.00)" >RORγt<tspan dy="-3.20" font-size="5.85">+</tspan><tspan dy="3.2"> cells (%)</tspan></text>
<text x="445.30" y="855.00" font-size="8.6" text-anchor="middle" stroke="#222" stroke-width="0.22" transform="rotate(-90 445.30 855.00)" >(of TCRβ<tspan dy="-3.20" font-size="5.85">+</tspan><tspan dy="3.2">CD4</tspan><tspan dy="-3.20" font-size="5.85">+</tspan><tspan dy="3.2">)</tspan></text>
<rect x="607.20" y="883.25" width="17.10" height="25.15" fill="#fff" stroke="#111" stroke-width="1.7" />
<line x1="615.75" y1="883.25" x2="615.75" y2="882.20" stroke="#111" stroke-width="1.4" />
<line x1="612.15" y1="882.20" x2="619.35" y2="882.20" stroke="#111" stroke-width="1.4" />
<circle cx="609.10" cy="883.70" r="2.6" fill="#8c8c8c" stroke="#333" stroke-width="0.8"/>
<circle cx="613.50" cy="881.80" r="2.6" fill="#8c8c8c" stroke="#333" stroke-width="0.8"/>
<circle cx="617.60" cy="883.10" r="2.6" fill="#8c8c8c" stroke="#333" stroke-width="0.8"/>
<circle cx="622.40" cy="882.40" r="2.6" fill="#8c8c8c" stroke="#333" stroke-width="0.8"/>
<rect x="634.70" y="883.25" width="17.10" height="25.15" fill="#fff" stroke="#111" stroke-width="1.7" />
<line x1="643.25" y1="883.25" x2="643.25" y2="879.84" stroke="#111" stroke-width="1.4" />
<line x1="639.65" y1="879.84" x2="646.85" y2="879.84" stroke="#111" stroke-width="1.4" />
<circle cx="642.90" cy="874.60" r="2.6" fill="#f28b8b" stroke="#333" stroke-width="0.8"/>
<circle cx="642.90" cy="880.80" r="2.6" fill="#f28b8b" stroke="#333" stroke-width="0.8"/>
<circle cx="637.00" cy="887.50" r="2.6" fill="#f28b8b" stroke="#333" stroke-width="0.8"/>
<circle cx="650.30" cy="887.50" r="2.6" fill="#f28b8b" stroke="#333" stroke-width="0.8"/>
<rect x="662.20" y="841.33" width="17.10" height="67.07" fill="#fff" stroke="#111" stroke-width="1.7" />
<line x1="670.75" y1="841.33" x2="670.75" y2="833.47" stroke="#111" stroke-width="1.4" />
<line x1="667.15" y1="833.47" x2="674.35" y2="833.47" stroke="#111" stroke-width="1.4" />
<circle cx="671.20" cy="824.50" r="2.6" fill="#e80000" stroke="#333" stroke-width="0.8"/>
<circle cx="671.20" cy="831.10" r="2.6" fill="#e80000" stroke="#333" stroke-width="0.8"/>
<circle cx="664.70" cy="854.30" r="2.6" fill="#e80000" stroke="#333" stroke-width="0.8"/>
<circle cx="677.40" cy="853.70" r="2.6" fill="#e80000" stroke="#333" stroke-width="0.8"/>
<line x1="602.10" y1="803.60" x2="602.10" y2="909.10" stroke="#111" stroke-width="1.4" />
<line x1="601.40" y1="908.40" x2="686.00" y2="908.40" stroke="#111" stroke-width="1.4" />
<line x1="598.50" y1="908.40" x2="602.10" y2="908.40" stroke="#111" stroke-width="1.2" />
<text x="597.90" y="911.50" font-size="8.6" text-anchor="end" stroke="#222" stroke-width="0.22" >0</text>
<line x1="598.50" y1="882.20" x2="602.10" y2="882.20" stroke="#111" stroke-width="1.2" />
<text x="597.90" y="885.30" font-size="8.6" text-anchor="end" stroke="#222" stroke-width="0.22" >10</text>
<line x1="598.50" y1="856.00" x2="602.10" y2="856.00" stroke="#111" stroke-width="1.2" />
<text x="597.90" y="859.10" font-size="8.6" text-anchor="end" stroke="#222" stroke-width="0.22" >20</text>
<line x1="598.50" y1="829.80" x2="602.10" y2="829.80" stroke="#111" stroke-width="1.2" />
<text x="597.90" y="832.90" font-size="8.6" text-anchor="end" stroke="#222" stroke-width="0.22" >30</text>
<line x1="598.50" y1="803.60" x2="602.10" y2="803.60" stroke="#111" stroke-width="1.2" />
<text x="597.90" y="806.70" font-size="8.6" text-anchor="end" stroke="#222" stroke-width="0.22" >40</text>
<line x1="615.75" y1="908.40" x2="615.75" y2="911.60" stroke="#111" stroke-width="1.2" />
<line x1="643.25" y1="908.40" x2="643.25" y2="911.60" stroke="#111" stroke-width="1.2" />
<line x1="670.75" y1="908.40" x2="670.75" y2="911.60" stroke="#111" stroke-width="1.2" />
<path d="M617.6,806.4 L617.6,802.2 L671.2,802.2 L671.2,806.4 M644.2,802.2 L644.2,806.4" fill="none" stroke="#111" stroke-width="1.1" />
<text x="625.80" y="797.30" font-size="8.0" stroke="#222" stroke-width="0.22" >ns</text>
<text x="645.20" y="797.30" font-size="8.0" textLength="24.40" lengthAdjust="spacingAndGlyphs" stroke="#222" stroke-width="0.22" >0.0004</text>
<text x="570.00" y="855.20" font-size="8.6" text-anchor="middle" stroke="#222" stroke-width="0.22" transform="rotate(-90 570.00 855.20)" >IL-17A<tspan dy="-3.20" font-size="5.85">+</tspan><tspan dy="3.2"> cells (%)</tspan></text>
<text x="582.30" y="855.20" font-size="8.6" text-anchor="middle" stroke="#222" stroke-width="0.22" transform="rotate(-90 582.30 855.20)" >(of TCRβ<tspan dy="-3.20" font-size="5.85">+</tspan><tspan dy="3.2">CD4</tspan><tspan dy="-3.20" font-size="5.85">+</tspan><tspan dy="3.2">)</tspan></text>
</svg>
</body></html>
